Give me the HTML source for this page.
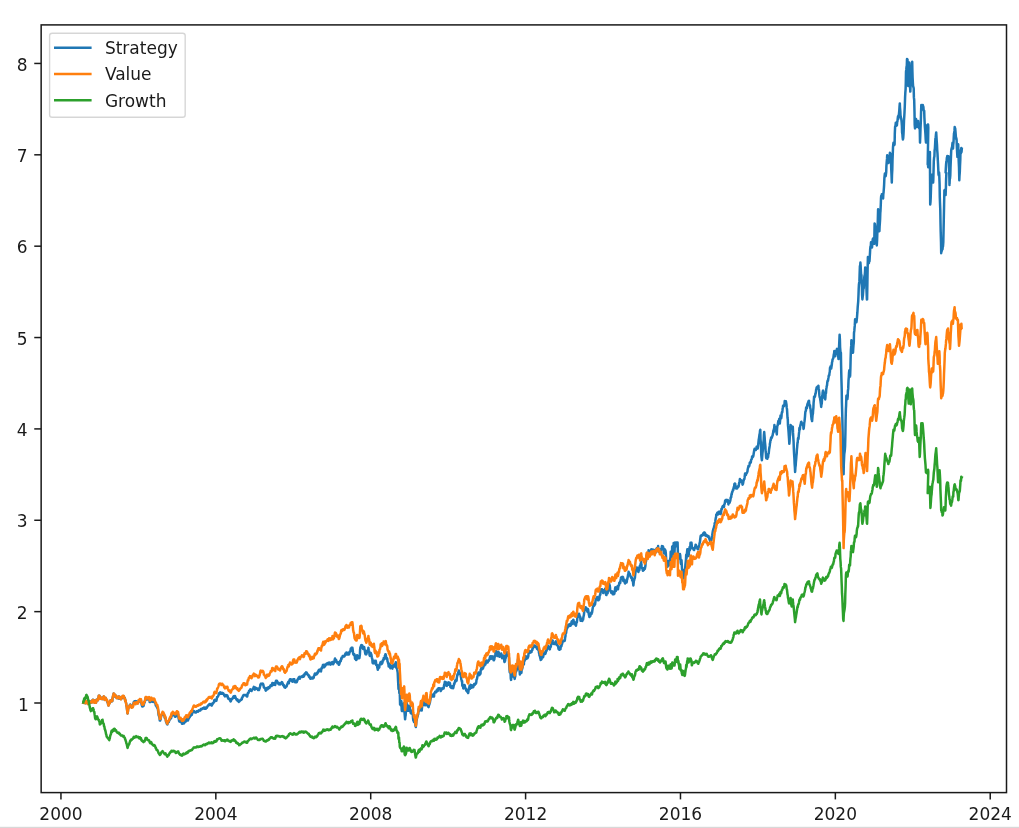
<!DOCTYPE html>
<html lang="en"><head><meta charset="utf-8"><title>Strategy vs Value vs Growth</title>
<style>html,body{margin:0;padding:0;background:#fff;}body{width:1019px;height:828px;position:relative;overflow:hidden;font-family:"DejaVu Sans","Liberation Sans",sans-serif;}</style>
</head><body>
<svg width="1019" height="828" viewBox="0 0 1019 828" style="display:block;position:absolute;left:0;top:0">
<rect x="0" y="0" width="1019" height="828" fill="#ffffff"/>
<rect x="0" y="826.8" width="1019" height="2" fill="#d8d8d8"/>
<clipPath id="ax"><rect x="41.15" y="24.9" width="965.35" height="767.7"/></clipPath>
<g clip-path="url(#ax)" fill="none" stroke-width="2.5" stroke-linejoin="round" stroke-linecap="square">
<path d="M83.3 702.7l0.3 -1l0.3 0.4l0.2 -0.7l0.3 0.5l0.3 -0.6l0.2 0l0.3 0.4l0.2 1.6l0.3 -0.6l0.3 -0.5l0.2 -0.8l0.3 -0.1l0.2 0l0.3 0l0.3 1.3l0.2 -1l0.3 2.2l0.3 0.3l0.2 0l0.3 -0.8l0.2 -0.4l0.3 0.2l0.3 -1.5l0.2 0.1l0.3 0l0.3 -0.3l0.2 1l0.3 -0.5l0.2 0.7l0.3 -0.4l0.2 -0.6l0.2 0.3l0.3 0.5l0.2 -0.5l0.3 -1.7l0.2 0.9l0.3 -1.3l0.3 -0.1l0.2 1.8l0.3 0.3l0.2 -0.7l0.3 -0.7l0.2 1.2l0.3 0.3l0.2 0.9l0.3 0l0.3 0l0.2 0l0.3 0l0.2 -1.3l0.3 -1.7l0.2 0l0.2 -0.3l0.3 0.2l0.2 -0.3l0.2 0.3l0.3 0.6l0.2 -0.9l0.2 -1.3l0.3 -0.7l0.2 -1.7l0.2 0.2l0.3 -0.2l0.2 0l0.3 0.8l0.2 0.6l0.2 0.5l0.3 1.1l0.2 -0.9l0.2 0.6l0.3 0.5l0.2 -1.2l0.3 1.1l0.2 -0.8l0.3 0.5l0.3 -0.7l0.2 0.5l0.3 0.8l0.2 -0.7l0.3 -1.6l0.3 -0.4l0.2 1.4l0.3 0.6l0.2 -0.3l0.3 1.6l0.3 -1.6l0.2 0.4l0.3 -0.6l0.3 1l0.2 0.4l0.3 0.1l0.2 1l0.3 0.1l0.3 1.3l0.2 0.2l0.3 0.7l0.2 0.4l0.3 1.7l0.3 0.7l0.2 -0.4l0.3 -1.4l0.3 -0.1l0.2 -0.4l0.3 -0.2l0.2 -1.3l0.3 -1.3l0.3 0.1l0.2 1.1l0.3 -1.3l0.2 0.2l0.2 -0.5l0.3 0.6l0.2 -0.1l0.3 0.6l0.2 -2.8l0.3 -0.9l0.2 -1.1l0.2 -0.6l0.3 -1l0.2 -1.3l0.3 0.4l0.2 2.7l0.3 -2l0.2 0.6l0.3 0.7l0.3 0.6l0.2 0l0.3 -0.5l0.3 -0.1l0.2 1.1l0.3 0.9l0.2 0l0.3 -0.3l0.2 0.1l0.2 -0.1l0.3 0.6l0.2 0.2l0.3 -0.6l0.2 0l0.3 -1.2l0.2 1.1l0.3 1.1l0.2 -1l0.3 0.1l0.2 -0.8l0.2 1l0.3 0.6l0.2 -0.2l0.3 0.7l0.2 -0.6l0.3 -0.5l0.2 -0.6l0.3 0l0.2 -0.4l0.3 -0.1l0.2 -0.6l0.2 0.6l0.3 1l0.2 -0.5l0.3 -1.3l0.2 0.6l0.3 1l0.2 0.4l0.3 -0.3l0.3 1l0.2 2.3l0.3 -0.9l0.2 1.4l0.3 1.1l0.2 0.9l0.2 2.2l0.3 0.6l0.2 2l0.3 2.3l0.2 1.7l0.2 1l0.3 -2l0.2 -1.9l0.3 -2l0.2 0.3l0.3 -0.7l0.2 -0.5l0.3 -0.6l0.3 -0.7l0.2 -0.1l0.3 -0.7l0.3 1.4l0.2 -0.2l0.3 -0.5l0.2 0.6l0.3 0.9l0.2 0.7l0.3 -0.9l0.2 -0.2l0.2 -0.1l0.3 0.1l0.2 -0.2l0.3 -1.3l0.2 -1.4l0.3 -0.2l0.2 -1.5l0.2 0.6l0.3 -0.5l0.2 -0.6l0.3 0.3l0.3 -0.3l0.2 0.4l0.3 1.4l0.2 -0.8l0.3 -0.9l0.3 0.6l0.2 0.5l0.3 0l0.3 0.1l0.2 -0.1l0.3 0.9l0.2 -0.9l0.3 0l0.3 -0.9l0.2 -1.2l0.3 0.5l0.2 0.7l0.3 -1.2l0.2 -0.5l0.3 0.3l0.2 1.1l0.2 -0.3l0.3 0.6l0.2 -1l0.3 2.3l0.2 0.8l0.2 1.3l0.3 0.7l0.2 1l0.3 0l0.3 -0.7l0.2 0.4l0.3 -0.7l0.2 0.3l0.3 -1.2l0.3 -1.3l0.2 -0.8l0.3 0.1l0.2 -0.7l0.3 -1.7l0.3 -1l0.2 -1.4l0.3 0.8l0.3 -0.1l0.2 0.1l0.3 -1.1l0.2 0.6l0.3 1.3l0.3 -0.1l0.2 -0.5l0.3 0.4l0.2 -0.9l0.3 0.5l0.2 -0.2l0.3 -0.2l0.2 0.9l0.3 0.7l0.2 1.9l0.3 0.1l0.2 0l0.2 -0.2l0.3 -1.5l0.2 -1.2l0.3 0.8l0.2 -0.7l0.2 1.2l0.3 0.9l0.3 -0.6l0.2 1l0.3 -0.2l0.3 0.3l0.2 -0.3l0.3 0.3l0.2 -1.5l0.3 0.1l0.3 0.2l0.2 0.3l0.3 0.9l0.3 0.7l0.2 0.5l0.3 1.1l0.2 1.4l0.3 -0.8l0.3 1l0.2 1l0.3 0l0.2 0.9l0.3 -0.5l0.3 1.7l0.2 0.1l0.3 2.3l0.2 1.7l0.2 2.1l0.3 0.5l0.2 0.7l0.2 0.7l0.3 1.3l0.2 2.3l0.3 0l0.2 -0.8l0.3 -0.2l0.2 -1.6l0.3 -1.4l0.3 -1.2l0.2 -0.1l0.3 -0.7l0.2 -0.6l0.3 -0.4l0.2 -0.8l0.3 0.8l0.3 -0.2l0.2 0l0.3 1.3l0.2 0.1l0.3 0.5l0.3 0.5l0.2 2.2l0.2 -0.9l0.3 0.3l0.2 0.1l0.3 2.2l0.2 1.2l0.2 1l0.3 0.1l0.2 0.9l0.3 1l0.2 0.4l0.3 0.1l0.2 -1.1l0.3 -0.9l0.2 -0.2l0.3 0l0.3 -0.2l0.2 -0.3l0.3 -1.4l0.2 0l0.3 -0.9l0.2 0l0.3 -0.6l0.2 -1l0.3 0.6l0.2 0.1l0.3 -0.7l0.2 -2.5l0.2 -0.3l0.3 0.3l0.2 0.3l0.3 -0.6l0.2 -1l0.2 -0.6l0.3 0.2l0.3 1.2l0.2 -0.2l0.3 0.5l0.3 -0.1l0.2 0.8l0.3 -0.4l0.2 1.2l0.3 0.2l0.3 -0.3l0.2 0.2l0.3 -1.4l0.2 -0.1l0.3 -0.3l0.3 -0.8l0.2 0.4l0.3 -0.7l0.3 0.4l0.2 0.1l0.3 0.1l0.2 1.8l0.3 2.1l0.3 1.2l0.2 1.6l0.3 0.4l0.2 -0.3l0.3 0.5l0.3 -0.9l0.2 0.2l0.2 -0.6l0.3 0.2l0.2 1.3l0.3 -0.2l0.2 0.2l0.2 1.5l0.3 0.4l0.2 -0.4l0.3 -0.1l0.2 -0.7l0.3 1l0.2 -0.1l0.3 -0.8l0.2 0.5l0.3 0.1l0.3 -0.8l0.2 -0.9l0.3 0l0.2 -0.6l0.3 -0.1l0.3 0.8l0.2 -0.8l0.3 -1.4l0.3 -0.3l0.2 0l0.3 1.3l0.2 -0.3l0.3 -0.9l0.3 1.2l0.2 -0.2l0.2 -0.6l0.3 -1.1l0.2 -0.6l0.3 0.2l0.2 -0.5l0.3 -0.5l0.2 -0.8l0.2 0.4l0.3 -0.8l0.2 0l0.3 -0.3l0.2 -0.4l0.2 -0.7l0.3 0l0.2 0.4l0.3 -0.5l0.2 -0.8l0.3 -1l0.2 -0.1l0.2 -0.4l0.3 -0.2l0.2 0l0.3 -1.1l0.2 0.1l0.2 0l0.3 0.4l0.2 0.4l0.3 0.2l0.2 0.4l0.3 0l0.2 -0.2l0.2 0.2l0.3 0l0.2 0l0.3 -0.5l0.2 0l0.2 -0.6l0.3 -0.1l0.2 0.1l0.3 -0.3l0.3 0.5l0.2 0.1l0.3 -0.4l0.3 -0.3l0.2 -0.5l0.3 0.3l0.2 -0.1l0.3 -0.3l0.3 0.2l0.2 0l0.3 -0.4l0.2 -1l0.3 0.3l0.3 -0.1l0.2 0l0.3 -0.3l0.3 -0.4l0.2 0.2l0.3 -0.1l0.2 -0.3l0.3 -0.3l0.3 0.2l0.2 -0.1l0.3 -0.7l0.2 0.4l0.3 0.4l0.2 0.4l0.3 0.1l0.2 -0.1l0.3 -0.6l0.2 0.7l0.2 -1.2l0.3 0.1l0.2 -0.2l0.3 0.4l0.2 0l0.2 -0.5l0.3 -0.8l0.2 -0.5l0.3 -0.2l0.2 -0.3l0.3 -0.2l0.2 -0.5l0.3 -0.1l0.2 0.2l0.3 -0.8l0.2 -0.2l0.2 0.8l0.3 0.2l0.2 -0.5l0.3 0l0.2 -0.4l0.3 -0.1l0.2 0.7l0.3 0.4l0.2 0.5l0.2 -1.6l0.3 -0.3l0.2 0.7l0.3 -0.9l0.2 -0.5l0.2 0.3l0.3 -0.6l0.2 -0.2l0.3 -0.6l0.2 -1.6l0.3 -0.3l0.2 -0.2l0.2 0.1l0.3 1l0.2 0.1l0.3 -0.5l0.2 0l0.2 -0.3l0.3 0.5l0.2 -1.1l0.3 -1.2l0.2 -1.4l0.3 0.1l0.2 -0.2l0.2 -0.1l0.3 -0.6l0.2 -0.6l0.3 -0.6l0.2 -1l0.3 -0.5l0.2 -0.4l0.3 0.7l0.2 0.1l0.2 -0.7l0.3 -0.8l0.2 0.6l0.3 0l0.2 -0.2l0.3 0.3l0.2 0.7l0.3 -0.3l0.2 -0.2l0.2 -0.4l0.3 0.7l0.2 0.1l0.3 -0.1l0.2 -0.3l0.3 0.8l0.2 0.2l0.2 0l0.3 1l0.2 -0.2l0.3 -0.2l0.2 1.5l0.3 -0.3l0.2 -0.3l0.3 -0.6l0.3 -0.2l0.2 0.6l0.3 0.5l0.3 0.1l0.2 -0.4l0.3 -0.4l0.2 0.5l0.3 1l0.2 1l0.3 0.2l0.2 0.8l0.3 -0.3l0.2 0.5l0.3 -0.4l0.2 0l0.3 0.4l0.2 0.2l0.2 1l0.2 0.9l0.3 0.2l0.2 -0.4l0.3 -0.7l0.2 -0.7l0.3 -0.8l0.2 -0.1l0.2 0.1l0.3 -0.1l0.2 -0.3l0.3 -0.2l0.2 -0.4l0.2 -1l0.3 -0.6l0.2 1l0.3 0.6l0.2 -0.5l0.3 -0.9l0.2 -0.4l0.2 0l0.3 0.8l0.2 0.7l0.3 0.4l0.2 0.7l0.2 0.5l0.3 0.4l0.2 0.4l0.3 0.2l0.3 -0.8l0.2 0.2l0.3 1.4l0.3 -0.2l0.2 0.1l0.3 0.8l0.2 0.3l0.3 -0.9l0.2 0.3l0.3 -0.1l0.2 -0.1l0.3 -0.7l0.2 -0.3l0.3 -0.3l0.2 -0.2l0.3 0.1l0.2 0.2l0.2 -0.4l0.3 -0.3l0.2 -1.4l0.3 -0.2l0.2 -0.2l0.3 -1l0.2 -0.4l0.3 -0.3l0.2 -0.7l0.2 0l0.3 0l0.2 0l0.3 0l0.2 0l0.3 0l0.2 0.3l0.3 0l0.2 -0.3l0.3 0l0.2 0l0.2 0.6l0.3 0.8l0.3 0.1l0.2 0l0.3 -1.7l0.2 -0.9l0.3 -1.1l0.3 0l0.2 0.1l0.3 -1.1l0.2 -0.9l0.3 0.3l0.2 -0.5l0.3 -0.7l0.2 -0.5l0.3 0.3l0.2 -0.5l0.3 0.4l0.2 0l0.3 0.5l0.2 0.8l0.3 -0.3l0.2 -0.6l0.3 -0.2l0.2 -0.6l0.3 -0.4l0.2 -0.3l0.3 0l0.2 -1l0.3 -0.7l0.2 0.6l0.2 1.2l0.3 -1.3l0.2 1.1l0.3 1.1l0.2 -0.9l0.2 -1.1l0.3 0.3l0.2 -0.1l0.3 0.3l0.2 0.6l0.3 -0.3l0.2 0.1l0.2 0l0.3 0l0.2 0.6l0.3 0.8l0.2 -0.4l0.3 -0.8l0.2 1.3l0.3 0l0.2 -0.3l0.3 -1.3l0.2 0.1l0.2 -1.1l0.3 -0.8l0.2 -1.3l0.3 -0.8l0.2 -0.7l0.3 0.4l0.2 -0.5l0.3 0l0.2 0.6l0.3 -0.2l0.2 0l0.3 0l0.2 -0.5l0.3 1.1l0.2 -0.2l0.3 1.4l0.2 1.3l0.2 -0.1l0.3 0.8l0.2 0.2l0.3 -0.2l0.2 0.3l0.3 0.6l0.2 1.3l0.3 0.5l0.2 -0.9l0.3 -0.6l0.2 0.2l0.2 0.5l0.3 -1.8l0.2 0.5l0.3 -0.4l0.2 0.9l0.3 -0.5l0.2 -0.9l0.2 -0.3l0.3 0.4l0.2 0.3l0.3 -0.9l0.2 1l0.2 -0.9l0.3 -0.3l0.2 -0.2l0.3 -0.9l0.2 -0.5l0.2 0l0.3 0l0.2 0.4l0.3 0.3l0.2 -0.6l0.3 -1.7l0.2 -0.6l0.3 0.2l0.2 0.3l0.2 -0.5l0.3 0.1l0.2 0.2l0.3 0.7l0.2 0.8l0.3 -0.8l0.2 -0.8l0.3 0.4l0.2 0.6l0.3 0.6l0.2 -2l0.2 -0.7l0.3 -1.4l0.2 0l0.3 0l0.2 0l0.2 0l0.3 1.1l0.2 -0.3l0.3 0.8l0.2 0.6l0.3 0.4l0.2 0.4l0.2 0.3l0.3 -1.1l0.2 0.5l0.3 0.3l0.2 -0.3l0.2 0.5l0.3 0.4l0.2 -0.5l0.3 0l0.2 -0.3l0.3 -0.7l0.2 0.4l0.2 -0.6l0.3 -0.6l0.2 0.1l0.3 0.4l0.2 0.5l0.2 0.3l0.3 1.8l0.2 0l0.3 0.3l0.2 -0.6l0.3 0.5l0.2 0.8l0.2 1l0.3 -0.4l0.2 0l0.3 0.9l0.2 -0.5l0.2 0.1l0.3 -1.1l0.2 0.2l0.3 0.2l0.2 -0.2l0.3 -1l0.2 -0.8l0.2 -0.5l0.3 -0.3l0.2 -0.7l0.3 -0.8l0.2 -0.4l0.2 0.5l0.3 0.9l0.2 -1.4l0.3 -0.8l0.2 -0.9l0.3 -0.6l0.2 -0.4l0.2 0.2l0.3 0.4l0.2 -0.1l0.3 -0.3l0.2 0.6l0.2 0.7l0.3 0.5l0.2 -0.4l0.3 0.6l0.2 -0.7l0.3 1l0.2 -2.2l0.2 -0.3l0.3 0l0.2 0l0.3 0l0.2 0.8l0.2 -0.8l0.3 1.5l0.2 1.2l0.3 0.2l0.2 -0.2l0.3 -0.2l0.2 0.5l0.3 0l0.2 -0.3l0.2 0.3l0.3 0l0.2 -1.7l0.3 0.2l0.2 -1.1l0.3 0l0.2 -0.2l0.3 -1.1l0.2 0l0.2 -0.8l0.3 0.3l0.2 -0.7l0.3 -0.2l0.2 1.5l0.3 0.2l0.2 -0.9l0.2 -0.5l0.3 -0.5l0.2 0l0.3 0.2l0.2 -0.1l0.2 -0.1l0.3 -0.4l0.2 0.1l0.3 0.5l0.2 -0.8l0.3 -0.1l0.2 -0.5l0.3 0.7l0.2 0.6l0.3 -0.8l0.2 0l0.2 -1.4l0.3 -0.7l0.2 -0.3l0.3 0.2l0.2 0.6l0.3 -0.8l0.2 -0.5l0.3 -0.8l0.2 0.2l0.3 0l0.2 0.6l0.3 0.3l0.2 0.6l0.3 0.5l0.2 0.3l0.3 -0.2l0.2 0.7l0.2 0l0.3 0l0.2 1.5l0.3 0.3l0.2 -0.8l0.3 1.1l0.2 0.8l0.3 0.6l0.2 -0.2l0.3 0.1l0.2 -0.2l0.3 -0.7l0.2 0.8l0.2 -0.2l0.3 -0.5l0.2 -0.4l0.3 1.1l0.2 0l0.2 -0.6l0.3 -0.4l0.2 0.2l0.3 0l0.2 -1.8l0.2 -0.1l0.3 -0.6l0.2 -1.1l0.3 -0.6l0.2 0.3l0.3 1l0.2 -0.4l0.2 -0.1l0.3 -0.9l0.2 -0.3l0.3 0.4l0.2 0.7l0.3 -1.3l0.2 -0.4l0.2 0.8l0.3 -1.2l0.2 -0.6l0.3 0.5l0.2 -1.5l0.3 -0.6l0.2 -0.1l0.3 0.4l0.2 -0.7l0.3 0.1l0.2 0.3l0.2 0.9l0.3 0.3l0.2 0.1l0.3 0.1l0.2 -1.5l0.3 -1.3l0.2 -0.8l0.3 -0.4l0.2 0.5l0.3 -1.4l0.2 -0.2l0.2 -1.2l0.3 -0.2l0.2 0.3l0.3 -0.1l0.2 1.2l0.3 1l0.2 -0.8l0.3 -1.7l0.2 1.7l0.3 -0.4l0.2 -1.3l0.3 0.2l0.2 -0.1l0.3 -0.7l0.2 -0.4l0.2 0.1l0.3 -0.1l0.2 0.3l0.3 -0.4l0.2 -0.6l0.3 0.3l0.2 0.2l0.3 0.6l0.2 -0.4l0.3 0.1l0.2 -1.3l0.3 1.6l0.2 -1l0.3 0.3l0.2 -0.1l0.2 0.5l0.3 0.7l0.2 -0.9l0.3 -0.2l0.2 -1l0.2 1.5l0.3 0l0.2 -0.7l0.3 -0.2l0.2 -1.1l0.3 0.6l0.2 0.9l0.2 0.8l0.3 -1.4l0.2 -0.7l0.3 0.6l0.2 -1.1l0.3 -0.7l0.2 -1.4l0.3 -1.1l0.2 0.7l0.3 0.4l0.2 0l0.2 0.3l0.3 0.3l0.2 1.7l0.3 0.3l0.2 -0.1l0.3 -0.3l0.2 1.5l0.2 -0.3l0.3 -0.8l0.2 0.1l0.3 0.3l0.2 1.1l0.2 1.1l0.3 -0.3l0.2 -0.3l0.3 -1l0.2 -0.7l0.3 -1.4l0.2 -0.3l0.2 0.1l0.3 0.2l0.2 -1.4l0.3 -1.5l0.2 0.9l0.2 -1.6l0.3 0.3l0.2 0l0.3 -0.7l0.2 -1l0.3 0.5l0.2 -0.5l0.3 -0.1l0.2 0.4l0.2 -0.3l0.3 0.4l0.2 -0.3l0.3 -0.5l0.2 -0.2l0.3 -0.5l0.2 -1.5l0.3 0.3l0.2 0.1l0.3 -0.2l0.2 -1.3l0.2 0.8l0.3 0.6l0.2 0.6l0.3 0l0.2 -0.7l0.2 -0.2l0.3 -0.8l0.2 1.7l0.3 0l0.2 0l0.3 0l0.2 -1.3l0.2 -0.4l0.3 -1.1l0.2 -0.1l0.3 0.1l0.2 -0.5l0.2 -2.3l0.3 0.4l0.2 -0.8l0.3 -0.7l0.2 1.4l0.3 0.6l0.2 0.5l0.2 -2.5l0.3 2.3l0.2 1.6l0.3 2.5l0.3 0l0.2 1l0.3 -1.1l0.2 0l0.3 0.6l0.3 1.1l0.2 3l0.3 -0.3l0.3 -0.4l0.2 0l0.3 2.1l0.2 -1.5l0.3 0.9l0.3 -2.8l0.2 -1.5l0.3 0.3l0.2 2.7l0.3 0l0.2 0l0.3 -0.3l0.2 -0.8l0.3 1.1l0.2 0l0.3 0l0.2 -1.7l0.3 -2.1l0.2 -4.7l0.3 -2.5l0.2 0.2l0.3 0.4l0.2 -2.5l0.3 -0.2l0.2 1.3l0.3 -0.4l0.2 -0.7l0.3 0.3l0.2 1.6l0.3 1.3l0.2 0.4l0.3 -1.1l0.3 -0.7l0.2 0.4l0.3 -0.5l0.3 2.3l0.2 0.5l0.3 2.2l0.2 1.1l0.3 1.2l0.3 -0.2l0.2 -1.1l0.3 1.4l0.2 -0.6l0.3 -1.4l0.3 -1.7l0.2 -0.3l0.3 0.1l0.3 1.1l0.2 -0.6l0.3 -3.3l0.2 1.9l0.3 1l0.2 0.6l0.2 1.3l0.3 2.9l0.2 0.5l0.3 -1.4l0.2 0.1l0.3 0.4l0.2 -2l0.2 1.9l0.3 -0.7l0.2 1.3l0.3 1.9l0.2 0.9l0.3 0.7l0.3 3.8l0.2 0.3l0.3 0.3l0.3 -0.4l0.2 0.2l0.3 -0.5l0.2 -2l0.3 0.6l0.3 -0.1l0.2 2.2l0.3 -1.1l0.2 -0.5l0.3 -1l0.3 1.2l0.2 3l0.3 -0.2l0.3 0.3l0.2 -0.2l0.3 2.7l0.2 0.4l0.3 1.7l0.2 -1.1l0.3 0l0.2 -0.3l0.3 -2.8l0.2 0.7l0.3 1.3l0.2 -2.8l0.3 0l0.2 -0.5l0.2 -1.1l0.3 0.5l0.2 -1.7l0.3 0.9l0.2 1.4l0.3 -2l0.2 -0.3l0.3 1.7l0.2 -0.4l0.3 -0.8l0.2 -1.8l0.3 -0.4l0.2 -0.5l0.2 0.6l0.3 -2.2l0.2 1.3l0.3 -0.8l0.2 0.4l0.3 -1.2l0.2 -2.1l0.3 -0.3l0.2 -1.2l0.3 0.3l0.3 1.4l0.2 2.1l0.3 0.6l0.2 -0.5l0.3 0l0.3 0.8l0.2 2.5l0.3 0.5l0.2 1.1l0.2 -0.1l0.3 1.8l0.2 1.8l0.3 -2.4l0.2 1.5l0.2 0.6l0.3 -2.1l0.2 1.7l0.3 0.9l0.2 1.6l0.3 -2.8l0.2 2.3l0.2 -0.5l0.3 -1.5l0.2 1.3l0.3 0.1l0.2 0.7l0.3 0.7l0.2 -3.3l0.3 1.9l0.2 -1.4l0.3 0.3l0.2 0.6l0.2 -1.6l0.3 -0.6l0.2 -0.1l0.3 0.8l0.2 0.4l0.3 0.8l0.2 -2l0.2 -1l0.3 -1.1l0.2 0.8l0.3 4.7l0.2 0.1l0.3 0.3l0.2 0.2l0.2 1.4l0.3 1.6l0.2 1.3l0.3 6.4l0.3 5.8l0.2 4l0.3 -1l0.2 -3.1l0.3 8.1l0.3 -2.8l0.3 7.1l0.2 7.2l0.3 0.4l0.3 -0.4l0.2 1.1l0.3 -2.5l0.2 -1.8l0.3 8.5l0.2 1.4l0.3 -0.1l0.3 0l0.2 -3.1l0.3 -1.1l0.2 0.5l0.2 2.6l0.3 -1.7l0.2 -4.9l0.3 0l0.2 1.6l0.2 8.6l0.3 3.5l0.2 2.3l0.3 -3.1l0.2 -0.3l0.3 -4.1l0.2 -0.7l0.3 -3.2l0.2 -5.3l0.3 2.6l0.3 -0.7l0.2 0.4l0.3 5.8l0.2 0l0.3 -0.9l0.3 0.9l0.2 -1.3l0.3 0.8l0.3 -3.4l0.2 -0.8l0.3 0.7l0.2 4l0.3 -0.9l0.3 2.7l0.2 0.7l0.3 -1.8l0.2 2l0.3 -1.1l0.3 -1.5l0.2 0.1l0.2 0.9l0.3 2.4l0.2 0.3l0.3 4.1l0.2 1.7l0.2 0.4l0.3 0.4l0.2 0.8l0.3 -1.3l0.2 -1.4l0.2 0.1l0.3 2.9l0.3 2.1l0.2 1.7l0.3 1l0.2 -1.4l0.2 -1.8l0.3 -3.9l0.2 0.3l0.2 -1.6l0.3 -1.1l0.2 -0.8l0.3 -0.7l0.2 -1.4l0.3 -0.2l0.2 -2.2l0.3 -3l0.2 -0.7l0.3 1.6l0.3 0.7l0.2 -1.1l0.3 0.3l0.2 -1.7l0.3 -0.4l0.2 -1.7l0.3 -0.5l0.2 2.5l0.3 0.8l0.2 1.6l0.2 -2.3l0.3 -2.3l0.2 -1.1l0.3 0.4l0.2 -2l0.2 1.5l0.3 -2.7l0.2 3l0.3 0l0.2 -0.9l0.3 0.9l0.2 -0.5l0.3 0.5l0.2 0l0.3 0l0.2 0.1l0.3 -2.7l0.2 -3.8l0.2 0l0.3 0.2l0.2 1.6l0.3 2.9l0.2 1.9l0.3 -0.9l0.2 1.8l0.3 -0.2l0.2 0.8l0.3 0.3l0.2 -1.1l0.3 -1.1l0.3 -0.5l0.2 -3.1l0.2 1.8l0.3 -1.7l0.2 -1.4l0.3 -1.6l0.2 -1.1l0.3 -1.2l0.2 0.5l0.2 -0.2l0.3 0l0.2 -1.4l0.3 0.1l0.2 1.3l0.3 -0.1l0.2 0.1l0.3 -2.1l0.2 0.7l0.3 0l0.2 1.6l0.3 -3.5l0.2 -0.1l0.2 -0.2l0.3 0l0.2 -1.1l0.3 -0.2l0.2 0.8l0.3 0l0.2 -0.6l0.3 -0.6l0.2 -0.8l0.3 1l0.2 -0.2l0.3 -1.8l0.2 1.7l0.3 -1.8l0.2 0.2l0.2 -1.2l0.3 0.1l0.2 -0.1l0.3 0l0.2 0l0.3 0l0.2 0l0.3 1.3l0.2 0.4l0.3 1.2l0.2 -1.7l0.2 -0.2l0.3 0.2l0.2 -0.8l0.3 0.8l0.2 -0.1l0.2 -0.1l0.3 -0.5l0.2 -0.8l0.3 0.2l0.2 0.5l0.3 0l0.2 -1.5l0.2 -1.5l0.3 -1.2l0.2 -0.2l0.3 -2.4l0.2 1.3l0.3 0.3l0.2 -0.2l0.3 -0.9l0.2 1.1l0.3 -0.3l0.2 2.7l0.3 0.1l0.2 -1.9l0.3 0.4l0.2 -1l0.3 -0.6l0.2 -0.2l0.3 -0.3l0.2 0.1l0.2 1.3l0.3 1.1l0.2 -0.2l0.3 -1l0.2 -0.8l0.3 0.6l0.2 1.5l0.2 2.2l0.3 -0.4l0.2 0.6l0.3 0.4l0.2 -0.1l0.2 0.3l0.3 -0.6l0.2 -0.3l0.3 -0.9l0.2 -0.1l0.3 0.8l0.2 1.4l0.3 -0.8l0.2 -1.4l0.3 -0.9l0.2 -1.4l0.2 0.5l0.3 -1.2l0.2 -0.6l0.3 -1.4l0.2 -0.6l0.3 -0.3l0.2 -0.3l0.3 1.4l0.2 -0.6l0.3 0.1l0.2 -2.5l0.2 -1.5l0.3 -1.5l0.2 -1l0.3 -0.1l0.2 0.5l0.3 -2.5l0.2 0.2l0.3 -1.7l0.2 1.6l0.3 -0.1l0.2 0.1l0.3 0.6l0.2 0.6l0.3 1.1l0.2 0.1l0.3 1.8l0.3 1.3l0.2 1.7l0.3 0.9l0.3 1.3l0.2 -0.6l0.2 4.6l0.3 -0.4l0.2 0.2l0.3 1.2l0.2 1.8l0.2 -0.3l0.3 -0.9l0.2 -0.9l0.3 -0.8l0.2 -0.5l0.3 0.4l0.2 1.7l0.3 1.5l0.2 -0.2l0.3 0.2l0.2 0.8l0.3 1.2l0.3 -0.2l0.2 -0.5l0.3 0.4l0.3 1.6l0.2 -1l0.2 1.2l0.3 0.9l0.2 -0.6l0.3 -2.1l0.2 -1.5l0.2 -0.9l0.3 0.1l0.2 -2.1l0.3 1.3l0.2 1.5l0.2 -1.4l0.3 -2.5l0.2 0l0.3 0.3l0.2 1.7l0.3 0.9l0.2 -0.4l0.2 -2l0.3 0.6l0.2 0.7l0.3 -0.2l0.2 0.5l0.3 0.2l0.2 -0.4l0.3 -1.1l0.2 0l0.3 -1.7l0.2 1.1l0.3 -0.9l0.3 0.5l0.2 -1.1l0.3 0l0.2 -0.3l0.3 0.3l0.3 -1.4l0.2 -2.2l0.3 -0.6l0.2 -0.4l0.3 -1.9l0.2 -1l0.3 -2.1l0.2 -0.1l0.2 -0.6l0.3 -0.7l0.2 2.5l0.3 -0.2l0.2 0l0.3 0.3l0.2 -1.2l0.3 -1.2l0.2 0.2l0.3 0.9l0.2 -3.9l0.2 -0.4l0.3 -0.5l0.2 -1.2l0.3 1.3l0.2 -1l0.3 1.1l0.2 -0.8l0.3 -0.9l0.2 1.1l0.3 -1.1l0.2 -0.5l0.2 -1.4l0.3 -1.2l0.2 0.8l0.3 0.4l0.2 -1.2l0.3 -1.4l0.2 -1.7l0.3 3.2l0.2 -1l0.3 -1.6l0.2 0.6l0.3 -1.3l0.2 -0.8l0.3 0.2l0.2 0.6l0.3 -0.2l0.2 1.6l0.3 -0.9l0.2 -0.5l0.3 -0.2l0.2 -0.4l0.3 0.1l0.2 -0.4l0.3 -1.2l0.2 -0.3l0.3 -1.1l0.2 -1.3l0.3 -0.1l0.3 0.7l0.2 0.3l0.2 1.4l0.3 -0.2l0.2 -0.9l0.3 -1.3l0.2 -0.1l0.3 0.8l0.2 1.4l0.2 -1.9l0.3 1.1l0.2 0.6l0.3 2.1l0.2 0l0.2 -0.6l0.3 -0.2l0.2 -1.9l0.3 -0.8l0.2 -1.4l0.3 -1.2l0.2 -1.2l0.3 -2l0.2 0l0.3 0.7l0.2 1l0.3 0.1l0.2 1.6l0.3 1.6l0.2 -1.8l0.3 0.1l0.2 -1.7l0.3 -0.9l0.2 0.7l0.3 0.2l0.2 1.4l0.2 2.5l0.3 0.2l0.2 -0.9l0.3 -0.7l0.2 -0.7l0.2 0.4l0.3 -1l0.2 0.6l0.3 -0.9l0.2 0.7l0.3 1.3l0.2 1.8l0.2 1l0.3 -0.7l0.2 -0.8l0.3 0.6l0.2 -0.5l0.2 -1.4l0.3 0.5l0.2 -0.2l0.3 2.1l0.2 3.6l0.3 0.5l0.2 -0.8l0.3 -0.3l0.2 -2.3l0.3 -0.2l0.2 -1.3l0.3 -1.7l0.2 -3l0.3 1.8l0.3 -1.1l0.2 -0.8l0.3 0.4l0.3 1.4l0.2 1.4l0.3 0.1l0.2 -1.5l0.3 2.2l0.3 1.8l0.2 6.5l0.2 2.8l0.3 4.7l0.2 -1l0.2 -0.1l0.3 1.2l0.2 1.6l0.2 4.7l0.3 1.4l0.3 -4l0.2 0.6l0.3 -3.1l0.2 -0.1l0.3 -0.1l0.2 -2.2l0.3 4l0.3 -0.6l0.2 2.1l0.3 -4.3l0.2 1.7l0.3 3.1l0.3 1.1l0.2 0.8l0.3 -3.7l0.2 1.7l0.3 -4.2l0.2 -3.9l0.3 0.3l0.2 2.4l0.2 -0.9l0.3 -0.3l0.2 -1.1l0.3 0l0.2 -1.9l0.3 -3.7l0.2 -3.4l0.2 -1.2l0.3 0.7l0.2 3.6l0.3 4.9l0.3 -1.7l0.2 3l0.3 2.3l0.2 2.8l0.3 -1.5l0.2 -3.2l0.3 -3.7l0.3 0.3l0.2 6.5l0.2 -0.1l0.3 -3.4l0.2 0l0.3 -0.8l0.2 -0.7l0.3 -1.5l0.2 -2.8l0.2 -2.4l0.3 0.4l0.2 0.6l0.3 2.1l0.2 -4.5l0.3 1.3l0.2 -1.3l0.2 -1.4l0.3 1.3l0.2 -2.6l0.3 -1.2l0.2 2.6l0.3 -0.2l0.2 -0.1l0.2 0.5l0.3 -0.4l0.2 -1.1l0.3 -0.8l0.2 1.7l0.3 -0.8l0.2 -0.2l0.3 -1.1l0.2 -2.4l0.3 -1.2l0.2 -0.5l0.3 -0.3l0.2 -0.6l0.3 0.3l0.2 0.4l0.3 0.8l0.2 -0.2l0.3 -0.1l0.2 -0.2l0.3 -1l0.2 0.9l0.3 -1.6l0.3 -0.4l0.2 0.1l0.3 -2.4l0.2 0.7l0.3 -0.7l0.2 -0.1l0.3 -0.4l0.2 -1.6l0.3 0.1l0.2 -0.1l0.3 0.7l0.2 0l0.3 -0.7l0.2 0.5l0.3 0.5l0.2 0.4l0.3 0.3l0.2 -0.7l0.3 0.3l0.2 -0.3l0.3 2.4l0.2 0.1l0.3 -1l0.2 -0.2l0.3 1.2l0.2 0.8l0.2 -0.8l0.3 2.4l0.2 1.4l0.3 0.9l0.2 1.8l0.3 0.2l0.2 0l0.2 2.1l0.3 0.7l0.2 1.5l0.3 -0.4l0.2 -0.1l0.3 -0.4l0.3 -2.1l0.2 0.3l0.3 -0.9l0.2 0.3l0.3 -0.3l0.2 0.8l0.3 -0.9l0.3 -2.6l0.2 -0.4l0.2 0.1l0.3 -0.7l0.2 -0.3l0.3 1l0.2 -0.4l0.3 0.8l0.2 -0.3l0.3 -1.4l0.2 -1.3l0.3 -0.1l0.2 0l0.3 -1.1l0.2 -1.4l0.3 -1.1l0.2 -0.6l0.3 -0.8l0.2 -0.2l0.3 2l0.2 0l0.3 -0.5l0.2 0.2l0.2 1.5l0.3 0.4l0.2 0.2l0.3 -0.7l0.2 -1.9l0.3 0l0.2 0.1l0.3 -1.5l0.2 -1.1l0.3 0l0.2 -2.2l0.2 -1.4l0.3 -0.2l0.2 0.2l0.3 -0.2l0.2 1l0.3 1.3l0.2 0.7l0.3 -0.5l0.2 0.9l0.3 0l0.2 0l0.2 0l0.3 0l0.2 0l0.3 0l0.2 -2.2l0.3 -0.5l0.2 0.9l0.3 1l0.2 0.2l0.2 1.8l0.3 0l0.2 0.1l0.3 0l0.2 0.8l0.2 0.3l0.3 1.2l0.2 1.4l0.3 0.5l0.2 -0.9l0.3 0.6l0.2 0.6l0.2 -0.4l0.3 -0.5l0.2 -0.4l0.3 0.8l0.2 -3.4l0.3 0.6l0.2 0l0.3 -0.4l0.2 -1.6l0.3 -0.4l0.2 -0.3l0.2 -2.4l0.3 0l0.2 -0.7l0.3 0.7l0.2 0.1l0.3 -0.3l0.2 -0.6l0.2 0.4l0.3 0l0.2 0l0.3 -1.1l0.2 -2.1l0.3 -1l0.2 -2.2l0.2 -1.5l0.3 0l0.2 -1.9l0.3 -1.7l0.2 -1.3l0.3 0.5l0.2 -0.9l0.3 -0.1l0.2 -1l0.3 -1l0.2 -0.7l0.3 1.4l0.2 0l0.2 -1.9l0.3 0.3l0.2 0.5l0.3 0.6l0.2 -1.6l0.3 -0.5l0.2 2.1l0.3 -1l0.2 0l0.3 -1l0.2 -1.8l0.3 -0.7l0.2 1.3l0.2 1.3l0.3 -1.3l0.2 -0.7l0.3 -0.8l0.2 -1.3l0.2 -0.1l0.3 1.3l0.2 1.4l0.3 -0.8l0.2 1.7l0.3 1l0.3 -0.3l0.2 -0.1l0.3 -0.3l0.2 0.4l0.3 1.7l0.2 -1.5l0.3 -2l0.2 0.5l0.2 -0.6l0.3 -2.8l0.2 -1.6l0.3 -1.5l0.2 -1.1l0.3 -0.1l0.2 0.3l0.2 -0.8l0.3 -0.7l0.2 0l0.3 1.2l0.2 1.9l0.3 0.2l0.2 -0.6l0.3 2.6l0.2 1.7l0.3 -0.8l0.2 -1.4l0.2 0.1l0.3 1.7l0.2 0.2l0.3 0.3l0.2 0l0.3 -1.5l0.3 -0.4l0.2 0.6l0.3 -2.5l0.2 -0.9l0.3 -1.3l0.2 -1.9l0.3 -2.5l0.3 0l0.2 -1.1l0.3 -0.4l0.2 0.4l0.3 -2.1l0.2 0.2l0.3 0.9l0.2 1.2l0.3 0.5l0.2 -1.5l0.3 2.4l0.2 0.8l0.3 -1l0.2 -1.8l0.3 0.9l0.2 1.5l0.2 1.8l0.3 1.5l0.2 0.9l0.3 1.5l0.2 -1.5l0.3 0.6l0.2 -0.7l0.3 0.4l0.2 -1.5l0.2 -0.7l0.3 -0.7l0.2 -0.3l0.3 1.1l0.2 -1.9l0.2 0.8l0.3 -2l0.2 -1.2l0.3 -1.7l0.2 -1.1l0.3 -1.3l0.2 -0.7l0.2 -0.9l0.3 2l0.2 0l0.3 -1.2l0.2 -0.2l0.3 0.2l0.2 -1.2l0.3 -2.3l0.2 -1.8l0.3 -0.2l0.2 -0.1l0.2 -0.5l0.3 -0.6l0.2 0.2l0.3 -1.1l0.2 0.1l0.3 1.7l0.2 1.1l0.2 0.3l0.3 -0.1l0.2 0.1l0.3 -1.8l0.2 1.2l0.3 -0.9l0.2 -2.5l0.2 -0.9l0.3 -0.3l0.2 -0.5l0.3 -2.8l0.3 -2.1l0.2 1.4l0.3 -0.7l0.2 -0.4l0.3 -0.7l0.3 0.7l0.2 1.1l0.3 -1.1l0.2 1.1l0.3 2.1l0.2 -0.8l0.3 -0.4l0.2 -0.7l0.3 1l0.2 -0.1l0.2 -0.4l0.3 -1.7l0.2 -1.3l0.3 1.1l0.2 1.9l0.3 1.2l0.2 2l0.3 0.1l0.2 -0.8l0.2 -1l0.3 -0.2l0.2 -1l0.3 1.4l0.2 -2.3l0.3 -1.5l0.2 -1.3l0.2 -1.7l0.3 0.4l0.2 -3.6l0.3 0.6l0.2 0.7l0.2 0.4l0.3 2.3l0.2 3.2l0.3 0.2l0.2 0.8l0.3 0.1l0.2 1l0.3 -0.3l0.2 -1l0.3 0.7l0.2 -0.7l0.2 1.4l0.3 1.5l0.2 -0.6l0.3 0.2l0.2 0.3l0.3 -0.7l0.2 0.8l0.2 -0.8l0.3 0.1l0.2 -2.6l0.3 0.1l0.2 -2.7l0.3 -1l0.2 1.6l0.2 2.1l0.3 -0.9l0.2 -2.5l0.3 0.2l0.2 0.5l0.3 -0.5l0.2 0.2l0.2 -1.8l0.3 1.1l0.2 1.9l0.3 -2.4l0.2 -1.1l0.3 -0.8l0.2 0.4l0.3 -2.7l0.2 0.4l0.3 -0.3l0.2 -0.7l0.2 0.9l0.3 -2.2l0.3 -1.8l0.2 -1.5l0.3 1l0.2 -0.7l0.3 -0.8l0.3 1.2l0.2 -0.2l0.3 -0.7l0.2 -0.4l0.3 0.4l0.2 3.6l0.3 -1.2l0.2 0.2l0.3 -0.1l0.2 -0.2l0.3 2.4l0.2 0.8l0.3 0.7l0.2 -0.8l0.2 -0.8l0.3 0.3l0.2 -0.5l0.3 -0.5l0.2 1.4l0.3 -1l0.2 -2.4l0.3 0l0.3 -2.1l0.2 -0.2l0.3 -2.4l0.2 -0.1l0.3 -2.6l0.3 1l0.2 0.2l0.3 1.9l0.2 0.2l0.3 -1.2l0.3 2l0.2 -0.1l0.3 1.1l0.3 -0.1l0.2 1.3l0.3 -1.2l0.2 0.6l0.3 0.2l0.2 2.9l0.2 -0.4l0.3 -0.3l0.2 0l0.2 3.2l0.3 2.4l0.2 -2l0.3 -2.8l0.2 -0.1l0.3 -1.6l0.3 -0.6l0.2 -0.5l0.3 -3.4l0.2 -1.7l0.3 -2.2l0.2 -1.8l0.3 -1.3l0.2 0.8l0.3 0.2l0.2 0.3l0.3 -0.6l0.2 -0.5l0.2 1.2l0.3 1l0.2 1.5l0.3 0.5l0.2 -0.9l0.3 -0.4l0.2 -0.3l0.3 -0.2l0.2 -2.7l0.3 -1.7l0.2 1.6l0.3 0.3l0.2 -3.7l0.3 -0.3l0.2 -2.1l0.3 3.5l0.2 1.4l0.3 1.6l0.2 -0.5l0.3 0.8l0.2 1.3l0.3 1.2l0.2 -1.1l0.3 0.3l0.2 -0.2l0.2 0.2l0.3 -2.1l0.2 1.2l0.3 -0.2l0.2 0.1l0.3 -1.5l0.3 -1.4l0.2 -3.8l0.3 -0.4l0.2 -1.2l0.3 -3.4l0.2 -1.9l0.3 -0.7l0.2 1l0.3 0l0.2 2.1l0.2 -0.2l0.3 -2.3l0.2 -0.3l0.3 -4.8l0.2 2.2l0.3 -0.5l0.2 -0.1l0.2 0l0.3 0.8l0.2 -1.1l0.3 -0.2l0.2 -0.7l0.3 -0.1l0.2 0.2l0.3 -1.5l0.2 2.7l0.2 -1.5l0.3 1.8l0.2 -0.6l0.3 -2l0.2 1.1l0.3 0.2l0.2 -0.2l0.3 -0.5l0.2 -0.3l0.3 1.5l0.2 -0.2l0.2 0.7l0.3 1.8l0.2 -0.6l0.3 -0.4l0.2 0.1l0.3 -0.9l0.2 -2.3l0.3 -0.2l0.2 0.7l0.3 0.1l0.2 -2.3l0.2 1.5l0.3 1.6l0.2 -0.8l0.3 -2.3l0.2 -1.8l0.3 3.3l0.2 2.3l0.3 0.2l0.2 -2.4l0.3 1.2l0.2 -0.9l0.3 1.9l0.2 -2.1l0.3 0.3l0.2 -0.4l0.3 0.7l0.2 -1l0.3 0.3l0.2 -1.1l0.3 -2.3l0.2 0.2l0.2 1.7l0.3 0.8l0.2 -2.6l0.3 0.7l0.2 0.7l0.2 1.4l0.3 4.3l0.2 0.1l0.3 0.1l0.2 -1.6l0.3 -1.9l0.2 -0.6l0.2 1.6l0.3 -0.3l0.3 2.4l0.2 3.3l0.3 4.6l0.2 0.3l0.3 2.2l0.3 -1.3l0.2 2.9l0.3 1.6l0.3 -1.2l0.2 -4.6l0.3 0l0.2 0l0.3 0l0.3 0l0.2 0l0.3 2.9l0.3 1.3l0.2 -6.5l0.3 -1.4l0.2 -5.4l0.3 0.8l0.2 5.2l0.3 2.8l0.2 -3.8l0.3 -5l0.2 -5.3l0.3 1.5l0.2 2.4l0.3 2.3l0.2 1.4l0.2 -4.7l0.3 -6.5l0.2 4.8l0.3 -1.3l0.2 8.6l0.3 -7.1l0.2 -3.8l0.2 -1.6l0.3 0.3l0.2 2.9l0.3 -1.6l0.2 2.1l0.3 -3.7l0.2 0l0.2 0l0.3 0l0.2 0l0.3 0l0.2 6.9l0.2 9.3l0.3 -3.1l0.2 -1.1l0.3 1.6l0.2 0.2l0.3 2.3l0.2 -3.5l0.3 2.7l0.2 -3.7l0.2 1.1l0.3 3.8l0.2 3.4l0.3 1.6l0.3 -3.5l0.2 -0.4l0.3 5l0.2 3.3l0.3 5.3l0.3 -1.2l0.2 2.1l0.3 3.7l0.2 -8.4l0.3 1.2l0.3 7.1l0.2 -3.4l0.3 -1.8l0.3 1.3l0.2 -3l0.3 -3.1l0.2 -3.2l0.3 -2.8l0.3 -3.2l0.2 -4.3l0.3 3.6l0.2 -1.6l0.3 -4.1l0.3 -3.3l0.2 2l0.3 -2.1l0.3 0l0.2 1.4l0.3 5.5l0.2 -2.5l0.3 -3.8l0.2 -0.3l0.3 -2.4l0.2 3.2l0.2 -1.2l0.3 -1.9l0.2 -4.4l0.3 0l0.2 0l0.3 1l0.2 -1l0.2 2.1l0.3 3.2l0.2 0.2l0.3 -0.2l0.3 0l0.2 0.6l0.3 -0.1l0.3 1.1l0.2 0l0.3 0.3l0.2 -0.5l0.3 -1.1l0.3 -0.4l0.2 -1.3l0.3 -0.6l0.2 -1.4l0.3 0.3l0.3 0.7l0.2 1.1l0.3 0.1l0.3 0.4l0.2 0.6l0.3 1l0.2 0.4l0.3 -0.6l0.2 0.6l0.2 -1.5l0.3 -0.7l0.2 -0.4l0.3 -1.8l0.2 -0.6l0.3 -1.7l0.2 -0.3l0.2 -1.8l0.3 -2.5l0.2 -1.6l0.3 -1l0.2 0l0.3 0.4l0.2 0.1l0.2 -0.8l0.3 0.4l0.2 -0.3l0.3 -0.4l0.2 0.4l0.3 -0.4l0.2 -1.6l0.3 0.3l0.2 -0.2l0.3 -0.7l0.2 0.8l0.2 -1l0.3 0.5l0.2 0.2l0.3 2.4l0.2 -1l0.3 0.3l0.2 0.3l0.2 0.8l0.3 -0.5l0.2 -0.4l0.3 1.1l0.2 -0.2l0.2 0.1l0.3 0.4l0.2 0.5l0.3 -0.7l0.2 -0.2l0.3 0.6l0.2 0.2l0.3 1.3l0.2 0.9l0.3 0.8l0.2 0.4l0.3 1.3l0.2 0l0.2 0.2l0.3 -0.6l0.2 -0.8l0.3 -0.2l0.3 -1.2l0.2 -2.6l0.3 -1l0.2 -1.3l0.3 -2.1l0.2 -0.7l0.3 -1.4l0.3 -1.1l0.2 -0.1l0.3 -1.7l0.2 -0.3l0.3 -1.9l0.2 -1.6l0.3 -0.3l0.3 -1.4l0.2 -1.7l0.3 -1.8l0.3 -1l0.2 -2.5l0.3 0.5l0.2 0.1l0.3 -1.1l0.2 -1.1l0.3 0.7l0.2 -1.1l0.3 2l0.2 -0.7l0.3 0.2l0.2 -2.2l0.2 0l0.3 0l0.2 0.1l0.3 0.3l0.2 -0.4l0.3 2l0.2 0.3l0.3 -0.9l0.2 0.5l0.3 -3.4l0.2 -1.5l0.3 0.5l0.2 -0.8l0.3 -0.4l0.2 -1.6l0.2 0l0.3 -0.3l0.2 -0.3l0.3 0.2l0.2 0.7l0.3 0.1l0.2 -2.2l0.3 -0.3l0.2 -0.6l0.3 -1.9l0.2 -1.4l0.3 -0.1l0.2 0.1l0.2 0.1l0.3 -0.6l0.2 0.7l0.3 0.5l0.2 0.1l0.3 0.5l0.2 -0.6l0.3 -1.1l0.2 0.5l0.3 1.2l0.2 2.8l0.3 -1.4l0.2 -0.2l0.3 -0.6l0.2 0.6l0.3 -0.3l0.2 -1.3l0.3 -0.3l0.3 -1.8l0.2 -1.7l0.3 0.1l0.2 -0.6l0.3 -2.9l0.3 0.2l0.2 -1.9l0.3 -0.3l0.2 -0.6l0.2 -0.7l0.3 -1.1l0.2 0.5l0.3 -1.3l0.2 -1.4l0.3 -0.9l0.2 -0.6l0.2 -2l0.3 0.2l0.2 -0.8l0.3 0.4l0.2 2l0.3 1.3l0.2 1.3l0.3 0l0.3 0l0.2 -0.9l0.3 0.9l0.3 0l0.2 -1.5l0.3 -0.7l0.2 0.7l0.3 -0.7l0.3 0.3l0.2 -1.1l0.3 -2.1l0.2 -0.9l0.3 -1.2l0.3 -2.2l0.2 1.2l0.3 0.5l0.2 -0.4l0.2 0.1l0.3 -0.2l0.2 0.3l0.3 1.7l0.2 -0.3l0.2 -1.2l0.3 1.3l0.2 2.7l0.3 -0.6l0.2 -0.3l0.3 -1.8l0.2 -1.3l0.3 -0.6l0.3 -1l0.2 0.1l0.3 -1.7l0.2 -1.9l0.3 -2.1l0.3 0.3l0.2 0.6l0.3 0.5l0.3 -1.5l0.2 0.2l0.3 -0.6l0.2 -0.2l0.3 -0.8l0.3 -0.9l0.2 -1.9l0.3 -1.2l0.2 -0.6l0.3 -1.5l0.3 -0.3l0.2 0.8l0.3 -0.7l0.3 -1.5l0.2 -1.7l0.3 -0.2l0.2 0.7l0.3 -0.5l0.3 -0.5l0.2 -2l0.3 -0.6l0.2 0l0.3 -0.9l0.2 -2.1l0.3 -0.1l0.2 0.8l0.3 -0.3l0.2 -0.2l0.3 -0.9l0.2 -1.5l0.3 -1.9l0.2 -1.4l0.2 -1.1l0.3 -1l0.2 0.3l0.3 -0.1l0.2 0.2l0.3 0l0 0.1l0.2 0.7l0.3 -0.8l0.3 -0.1l0.2 -2.3l0.3 1.9l0.2 -1l0.3 -0.6l0.3 1.4l0.2 -1.5l0.3 -2.4l0.3 -2.8l0.2 -2l0.3 -1.7l0.2 -1.3l0.3 -2.5l0.3 -0.9l0.2 -2.5l0.3 -1.2l0.2 9.1l0.3 3.8l0.3 6.1l0.2 6.6l0.3 2.8l0.3 2.1l0.2 -2.4l0.3 -3.9l0.2 -1.8l0.3 -2.5l0.3 -3.7l0.2 -3.5l0.3 -2.3l0.2 -4.7l0.3 -3.3l0.2 2.6l0.3 3.5l0.2 3.4l0.3 3l0.2 1.9l0.2 4.7l0.3 2.2l0.2 3.8l0.2 1.1l0.3 -2.4l0.3 1.1l0.2 1.3l0.3 0.4l0.2 -2.1l0.3 0.4l0.2 0.2l0.3 -3.5l0.3 -0.1l0.2 -2.2l0.3 -2.7l0.2 -0.8l0.3 -2l0.3 -2.9l0.2 -0.4l0.3 -2.7l0.3 0.3l0.2 -2.2l0.3 -0.6l0.2 0.9l0.3 -0.6l0.3 -0.9l0.2 -0.9l0.3 -0.3l0.2 -1.6l0.3 -1.1l0.3 -2.5l0.2 1.9l0.3 -3.4l0.3 -0.4l0.2 -3.5l0.3 3.3l0.2 -1.5l0.3 3.8l0.3 -0.9l0.2 -0.5l0.3 1l0.2 -0.6l0.3 2.9l0.3 1.9l0.2 -5l0.3 -3.2l0.3 -0.9l0.2 -0.3l0.3 -2.5l0.2 -1.4l0.3 1.4l0.2 -2l0.3 0.9l0.2 -2.7l0.2 2.1l0.3 2.7l0.2 -1.8l0.3 -3.5l0.2 -2.6l0.3 1l0.2 -0.5l0.2 2.1l0.3 -1.8l0.2 -3.1l0.3 -1.2l0.2 0.4l0.2 -1.5l0.3 -2.8l0.2 -1l0.2 -1.4l0.3 -0.4l0.2 0.8l0.3 0l0.2 -1l0.3 0.1l0.3 -4.2l0.2 0.6l0.3 1.8l0.2 1.4l0.3 -1.2l0.2 -2.4l0.3 1.7l0.3 1.8l0.2 2.9l0.3 1.5l0.2 3.2l0.3 5.4l0.3 1.7l0.2 5.9l0.3 2.9l0.2 2.7l0.3 4.3l0.3 4.3l0.2 4.2l0.3 -2.8l0.2 -4.5l0.3 -1.7l0.2 -4.4l0.3 -5.4l0.2 0.6l0.3 1.1l0.2 0l0.3 0l0.2 0.7l0.3 1.4l0.2 0l0.2 -1.1l0.3 -1.1l0.2 5.8l0.3 5.1l0.3 4.4l0.2 6.2l0.3 6.1l0.3 4.3l0.2 5.1l0.3 4.1l0.2 4.2l0.3 -4.6l0.3 -2.1l0.2 -3.2l0.3 -3.1l0.2 -2.9l0.3 -2.7l0.2 -3.8l0.3 -2.9l0.3 -4l0.2 0.1l0.3 -4.4l0.2 -0.4l0.3 1.1l0.2 -2.7l0.2 -2.2l0.3 -2.7l0.2 -3.3l0.3 1.6l0.2 -0.5l0.2 -2.4l0.3 -1.6l0.2 -0.7l0.3 -1.1l0.2 -1.5l0.3 -0.1l0.2 1.5l0.3 -0.2l0.3 0.3l0.2 1l0.3 -0.1l0.2 0.7l0.3 -0.1l0.3 4l0.2 -0.6l0.3 -2.6l0.2 -2.6l0.3 -1.7l0.2 -1.9l0.3 -3.1l0.2 -2.7l0.2 -2l0.3 -0.7l0.2 -0.3l0.2 -2.9l0.3 -0.3l0.2 -0.6l0.3 1.3l0.2 -1.9l0.3 -2l0.3 -1l0.2 1.4l0.3 -1.7l0.2 -1.7l0.3 0.6l0.3 -1.2l0.2 2.6l0.3 2.2l0.2 -0.5l0.3 0.5l0.3 2.9l0.2 0.1l0.3 3.7l0.3 2.2l0.2 2.4l0.3 2.6l0.2 0.4l0.3 1.3l0.3 -4l0.2 -2.1l0.3 -1.2l0.2 -3.1l0.3 -2.9l0.2 -5l0.3 -3l0.2 -3.1l0.3 -0.3l0.2 0.8l0.3 -0.7l0.2 -0.5l0.3 -2.6l0.2 0.3l0.2 -1.1l0.3 -2.8l0.2 -0.3l0.3 -1.9l0.2 -0.3l0.3 0l0.2 -0.3l0.3 -0.4l0.3 1l0.2 -0.5l0.3 -1.4l0.2 2.5l0.3 1.3l0.3 3.2l0.2 2.7l0.3 1.8l0.3 0.3l0.2 1.9l0.3 1.6l0.2 1.9l0.3 1.9l0.2 2.1l0.2 -2.4l0.3 -0.6l0.2 -2.6l0.2 -3.5l0.3 -2.3l0.2 -2.7l0.3 -1.9l0.2 -0.4l0.3 1.7l0.2 -0.1l0.3 1l0.2 2.2l0.3 2.6l0.3 -0.3l0.2 -0.8l0.3 2.6l0.2 -1.9l0.3 -4.3l0.3 -0.1l0.2 -3.6l0.3 -1.7l0.3 -2l0.2 -0.1l0.3 -3.4l0.2 -1l0.3 -1.1l0.2 0.6l0.3 -2.2l0.2 -1.1l0.3 -2l0.2 0.3l0.3 -0.6l0.2 -2.2l0.3 -1.2l0.2 -4.1l0.2 0.3l0.3 -1.1l0.2 -0.7l0.3 1.5l0.2 0.8l0.3 -1.9l0.3 -1.8l0.2 -2.4l0.3 -0.8l0.2 -1.9l0.3 -0.7l0.2 -0.1l0.3 -0.8l0.3 -2.2l0.2 -1.5l0.3 -1l0.2 -2.4l0.2 1.7l0.3 3.3l0.2 0.3l0.2 0l0.3 -2.9l0.2 -0.6l0.3 -0.2l0.2 -1.5l0.3 0.6l0.2 -2.2l0.3 -0.6l0.2 2.1l0.3 2.5l0.2 -0.2l0.3 1.6l0.3 2.5l0.2 1.7l0.3 -7l0.3 -6.3l0.3 -6.3l0.2 -4.8l0.3 4.8l0.2 7.8l0.3 3.8l0.2 4.7l0.3 -3l0.2 12.6l0.3 13.1l0.3 10.4l0.2 13.9l0.2 6.5l0.3 11.2l0.2 9.7l0.2 12.3l0.3 11.7l0.2 17.8l0.3 2.2l0.2 -10l0.3 -6.6l0.2 -3.8l0.3 -1.9l0.3 -2.9l0.2 -3.1l0.3 -12.6l0.2 -12.4l0.3 -12l0.2 -3.3l0.3 -9.9l0.2 2.7l0.3 -2.1l0.3 2.2l0.2 0.6l0.3 -2.7l0.2 -5.4l0.3 -2.1l0.3 -8.2l0.3 -3.7l0.2 -3.8l0.3 -2.9l0.3 0l0.3 1.6l0.2 4.5l0.3 -8.2l0.2 -8.6l0.3 -9.6l0.3 -4.1l0.2 -5.7l0.3 5.6l0.2 0.8l0.3 5.7l0.3 -3l0.2 -1.2l0.3 4.7l0.2 -3.7l0.3 -4.1l0.3 -2.7l0.2 -9.3l0.3 -2.1l0.2 -2.6l0.3 -2.9l0.3 -6.1l0.2 0.5l0.3 2.4l0.3 0l0.2 0l0.3 0l0.2 -1.1l0.3 -2.8l0.3 -3.7l0.2 -2.4l0.3 -5.1l0.2 -2.2l0.3 -3.4l0.3 -6.8l0.2 -5.9l0.2 -3.8l0.3 -2.5l0.2 -1.1l0.2 -6.7l0.3 -8.7l0.2 1.8l0.3 -5.2l0.2 2.4l0.3 6.2l0.2 3.4l0.3 0.3l0.2 6.9l0.3 5.4l0.2 8l0.3 4.2l0.3 -2.9l0.2 -1.1l0.3 -4.6l0.2 -2.5l0.3 0.1l0.2 -6.2l0.3 -3.5l0.2 -2.6l0.3 -0.6l0.3 -3.4l0.2 -4.7l0.3 4.8l0.2 3.1l0.2 4.9l0.3 4.5l0.2 3l0.2 5.1l0.3 6.7l0.2 -0.1l0.3 -16.8l0.2 -12.3l0.3 -13.2l0.3 0.8l0.2 5.2l0.3 0.1l0.2 0l0.3 -2.8l0.3 0.7l0.2 -3.4l0.3 -4.9l0.2 -3.9l0.3 -2.4l0.3 -0.3l0.2 -4l0.3 3.5l0.2 1.4l0.3 0l0.2 0.3l0.2 -2l0.3 -3.2l0.2 -2.6l0.3 -1.1l0.2 0l0.2 1.5l0.3 3.2l0.2 0.5l0.3 0.1l0.2 -8.8l0.2 -11.6l0.3 0.7l0.2 1.5l0.3 3.2l0.2 5l0.3 1l0.2 3.5l0.3 2.8l0.2 1.9l0.2 2.4l0.3 -5.4l0.2 -6.1l0.3 -4.4l0.2 -9.3l0.3 -10.9l0.2 3.7l0.3 5.7l0.2 5.7l0.3 2.4l0.3 4.4l0.2 -4.7l0.2 -2.4l0.3 -4.9l0.2 -6.3l0.2 -2.1l0.3 -6.5l0.2 -5.9l0.2 -2.5l0.3 1.6l0.3 -3.2l0.2 3.3l0.3 -0.8l0.2 0.3l0.3 1.2l0.3 0.1l0.2 -4l0.3 -2.4l0.3 -3.9l0.2 -3l0.3 -7.2l0.2 -2.1l0.3 -2.4l0.3 0.7l0.2 1.5l0.3 0.6l0.2 -1.5l0.3 -2.6l0.2 -5.8l0.3 -4.1l0.3 -3.3l0.2 -3.7l0.3 1.8l0.3 2.5l0.2 1.3l0.3 2.3l0.3 -0.3l0.2 -5.6l0.3 1.4l0.2 -1.1l0.3 -0.7l0.3 -4l0.2 0.6l0.3 0.3l0.3 2.5l0.3 2.1l0.2 10l0.3 6.5l0.3 7.7l0.2 -7.2l0.3 -5.9l0.2 -9.2l0.3 -7.1l0.2 -5.7l0.3 -3.2l0.2 -1.5l0.3 2.7l0.3 -2.1l0.2 1.8l0.3 -0.9l0.2 -10.3l0.3 -7l0.2 -0.7l0.2 -0.3l0.3 -3.2l0.2 0.9l0.2 -0.9l0.3 3l0.2 -0.2l0.2 -0.1l0.3 -3.5l0.3 -0.9l0.2 -2l0.3 -2.7l0.2 2.8l0.3 -1.6l0.3 -2.7l0.2 -1.2l0.3 -3.3l0.2 -3.2l0.3 -3.7l0.2 4.2l0.3 3.4l0.2 4.1l0.3 2l0.3 1.2l0.2 0.8l0.3 2.7l0.3 4.1l0.2 6.7l0.3 1.6l0.2 3l0.3 2.3l0.3 -1.2l0.3 -4.2l0.2 -4.3l0.3 -9.1l0.3 -4.7l0.2 -3.6l0.3 -6.4l0.3 -9l0.2 -3.8l0.3 -3.9l0.2 -6.4l0.2 -10.9l0.3 -2.6l0.2 -2.3l0.3 -1.4l0.2 -6.6l0.2 1l0.3 -0.7l0.2 8.9l0.3 7.5l0.2 10.3l0.3 -5.4l0.2 -6.2l0.2 -6.9l0.3 -5l0.3 7.1l0.2 7.9l0.3 7.5l0.3 6.5l0.2 -4.3l0.3 -4.4l0.2 -1.1l0.2 -1.4l0.3 -1.5l0.2 -10.3l0.2 -5.5l0.3 -1.3l0.2 9.5l0.2 6.5l0.3 5.4l0.2 2.9l0.3 1l0.3 1.2l0.2 9.1l0.3 2.8l0.3 12l0.2 12.8l0.3 3.5l0.3 -3.4l0.2 2l0.3 -0.8l0.3 -7.2l0.2 1.2l0.3 4.5l0.2 2.2l0.3 -1.2l0.3 1.1l0.2 -0.6l0.3 -0.4l0.2 -5l0.3 4.2l0.2 -1.3l0.2 0.1l0.3 4.3l0.2 -4.3l0.2 1.8l0.3 5.1l0.2 11.8l0.3 -7.2l0.2 -6.8l0.3 -6.4l0.2 -7.8l0.3 -9.4l0.2 2.4l0.3 -0.4l0.3 1.2l0.2 0l0.3 -0.4l0.2 -2.8l0.3 1.2l0.3 0.7l0.2 3.1l0.3 0.7l0.3 0.1l0.2 6.7l0.3 6l0.2 3.7l0.3 3.4l0.3 4.5l0.2 4.2l0.3 3.3l0.2 -3.5l0.3 -3.4l0.3 -1.8l0.2 -6.6l0.3 -2.3l0.3 1.9l0.2 -2.3l0.3 0l0.2 3.1l-0.6 36.9l0.3 -2l0.2 4.7l0.2 -1.1l0.3 -3.7l0.2 0l0.3 -4.3l0.2 -3.4l0.3 1.5l0.2 -4.2l0.3 52.4l0.3 -2.7l0.2 -3.8l0.3 -9.9l0.3 -6.5l0.2 -2.6l0.3 -4.3l0.2 4.4l0.3 1.2l0.2 0.2l0.3 -0.1l0.3 2.2l0.2 -2.6l0.3 -11.2l0.2 -7.6l0.3 -3.6l0.3 -1.1l0.2 -6l0.3 -2.2l0.2 -3.7l0.3 -5.8l0.3 -1.6l0.2 -2.2l0.3 -2.6l0.3 4.9l0.2 3.5l0.3 4l0.2 5l0.3 3.8l0.3 6.3l0.2 3.4l0.3 6.4l0.2 4.6l0.3 1.2l0.3 -3l0.2 3.1l0 0.7l0.3 8.1l0.2 12.9l0.2 5.7l0.3 7.5l0.2 12.3l0.2 8.8l0.3 10.6l0.2 11l0.3 -2.4l0.2 0.3l0.3 -3.7l0.2 -2.1l0.3 4.1l0.2 -2.3l0.3 -0.8l0.3 -4.1l0.2 -9.3l0.3 -14l0.3 -14.1l0.3 -14.4l0.2 -0.2l0.3 -0.5l0.2 1.7l0.3 0.9l0.2 2.8l0.3 -7.3l0.2 -8.7l0.3 -6l-0.8 -0.6l0.2 -3.6l0.3 -4.9l0.2 -2.2l0.3 -0.4l0.2 -2.8l0.2 -1l0.3 -1.7l0.2 0.9l0.2 0.9l0.3 -0.2l0.3 1.4l0.2 -2.7l0.3 2.1l0.2 8.7l0.3 8l0.2 9.9l0.3 -7.2l0.2 1l0.3 -3.4l0.2 -7.4l0.3 -7.2l0.2 -4.9l0.2 -5l0.3 -1.9l0.2 -0.9l0.3 -0.3l0.2 -1.9l0.3 -3l0.2 4l0.3 1.8l0.2 -3.8l0.3 -2.2l0.2 -4.3l0.3 -5l0.2 -0.2l0.3 -2.7l0.2 -3.5l0.3 1.7l0.2 -0.3l0.3 3.6l0.3 3.6l0.2 3.1l0.3 -0.7l0.3 2l0.2 5.5l0.3 6.5l0.3 4.9l0.3 -5l0.2 -6.2l0.3 -1.4l0.2 6.2l0.3 10.9l0.3 6.1l0.3 12.8l0.2 -4.4l0.3 -3.6l0.2 -6.1l0.3 -6.1l0.2 -9.5l0.3 1.6l0.2 1.2l0.3 -5.3l0.2 4.2l0.3 -3.3" stroke="#1f77b4"/>
<path d="M83.3 702.7l0.3 -0.9l0.3 0.5l0.2 -0.9l0.3 0.7l0.3 -0.8l0.2 0.2l0.3 0.1l0.2 1.7l0.3 -0.6l0.3 -0.6l0.2 -0.8l0.3 0l0.2 0l0.3 0l0.3 1.3l0.2 -0.6l0.3 1.9l0.3 0.2l0.2 0l0.3 -1l0.2 -0.2l0.3 0.2l0.3 -1.4l0.2 0.4l0.3 0l0.3 -0.4l0.2 0.7l0.3 -0.3l0.2 0.2l0.3 -0.4l0.2 -0.3l0.2 0.3l0.3 0.5l0.2 -0.5l0.3 -1.6l0.2 0.8l0.3 -1.1l0.3 0.3l0.2 1.9l0.3 0.2l0.2 -0.9l0.3 -1.1l0.2 1.2l0.3 0.2l0.2 0.8l0.3 0.2l0.3 0l0.2 0l0.3 0l0.2 -1.3l0.3 -1.6l0.2 -0.2l0.2 -0.1l0.3 0.5l0.2 -0.3l0.2 0l0.3 0.5l0.2 -0.9l0.2 -1.3l0.3 -0.6l0.2 -1.8l0.2 0.4l0.3 -0.4l0.2 0.1l0.3 0.8l0.2 0.5l0.2 0.3l0.3 1.3l0.2 -0.8l0.2 0.7l0.3 0.3l0.2 -1.2l0.3 1.2l0.2 -0.7l0.3 0.6l0.3 -0.8l0.2 1l0.3 0.1l0.2 -0.2l0.3 -1.8l0.3 -0.7l0.2 1.7l0.3 0.6l0.2 0.2l0.3 1.1l0.3 -2l0.2 0l0.3 -0.2l0.3 1.4l0.2 0.1l0.3 0.1l0.2 0.5l0.3 -0.3l0.3 1.2l0.2 0.5l0.3 0.8l0.2 0.7l0.3 1.9l0.3 0.8l0.2 -0.2l0.3 -1.3l0.3 -0.2l0.2 -0.4l0.3 -0.3l0.2 -1.3l0.3 -1.1l0.3 -0.2l0.2 1.1l0.3 -1l0.2 0l0.2 -0.4l0.3 0.3l0.2 -0.1l0.3 0.6l0.2 -2.8l0.3 -0.9l0.2 -1.3l0.2 -0.5l0.3 -0.8l0.2 -1.3l0.3 0.4l0.2 2.3l0.3 -1.8l0.2 0.2l0.3 1.3l0.3 0.3l0.2 0.2l0.3 -0.5l0.3 0l0.2 1.1l0.3 1.1l0.2 0.3l0.3 -0.8l0.2 -0.4l0.2 0l0.3 0.5l0.2 0.1l0.3 -0.3l0.2 0.4l0.3 -1.2l0.2 0.8l0.3 1l0.2 -0.9l0.3 0.4l0.2 -0.8l0.2 0.9l0.3 0.7l0.2 -0.3l0.3 0.9l0.2 -0.5l0.3 -1.1l0.2 -0.5l0.3 -0.5l0.2 -0.2l0.3 0l0.2 -0.6l0.2 0.3l0.3 1.1l0.2 -0.7l0.3 -0.7l0.2 0.3l0.3 1.5l0.2 0.9l0.3 -0.3l0.3 0.9l0.2 2l0.3 -1.1l0.2 1.5l0.3 1.4l0.2 0.7l0.2 2.1l0.3 0.5l0.2 2l0.3 2.6l0.2 1.6l0.2 0.9l0.3 -1.9l0.2 -1.7l0.3 -2.1l0.2 0.4l0.3 -1l0.2 -0.5l0.3 -0.6l0.3 -0.6l0.2 0l0.3 -0.4l0.3 1.5l0.2 -0.3l0.3 -0.5l0.2 0.6l0.3 0.9l0.2 0.6l0.3 -0.5l0.2 0.1l0.2 -0.3l0.3 0.1l0.2 -0.3l0.3 -1l0.2 -1.6l0.3 0l0.2 -1.6l0.2 0.8l0.3 -0.3l0.2 -0.5l0.3 0.1l0.3 0.1l0.2 0.3l0.3 1l0.2 -1l0.3 -1l0.3 0.5l0.2 0.5l0.3 0l0.3 -0.1l0.2 0l0.3 0.4l0.2 -1.5l0.3 0l0.3 -1l0.2 -1.1l0.3 0.6l0.2 0.9l0.3 -1.5l0.2 -1l0.3 0.8l0.2 1.2l0.2 -0.3l0.3 -0.2l0.2 -1.1l0.3 2.4l0.2 0.7l0.2 1l0.3 0.6l0.2 0.7l0.3 0.1l0.3 -0.9l0.2 0.3l0.3 -0.3l0.2 0.5l0.3 -1.2l0.3 -1.2l0.2 -0.2l0.3 0l0.2 -0.5l0.3 -1.5l0.3 -1.1l0.2 -1.6l0.3 0.6l0.3 0l0.2 0.1l0.3 -0.7l0.2 0.4l0.3 1.1l0.3 0l0.2 -0.5l0.3 0.4l0.2 -0.9l0.3 0.1l0.2 -0.2l0.3 -0.4l0.2 1.1l0.3 0.6l0.2 1.8l0.3 -0.2l0.2 0.2l0.2 -0.3l0.3 -1.3l0.2 -1.2l0.3 0.7l0.2 -0.7l0.2 1.1l0.3 0.6l0.3 -1.1l0.2 1.2l0.3 -0.2l0.3 0.5l0.2 -0.7l0.3 0.6l0.2 -1.3l0.3 0l0.3 0.2l0.2 0.5l0.3 1.2l0.3 0.8l0.2 0.3l0.3 1l0.2 1l0.3 -0.5l0.3 1l0.2 0.8l0.3 0.1l0.2 1l0.3 -0.7l0.3 1.7l0.2 0.2l0.3 2.5l0.2 1.3l0.2 1.9l0.3 1l0.2 1.1l0.2 0.3l0.3 1.4l0.2 2.3l0.3 0.1l0.2 -0.5l0.3 0.1l0.2 -1.5l0.3 -1.6l0.3 -0.8l0.2 -0.5l0.3 -0.4l0.2 -0.9l0.3 -0.1l0.2 -1l0.3 0.8l0.3 -0.3l0.2 0.2l0.3 1.2l0.2 0.1l0.3 0.4l0.3 0.6l0.2 2.3l0.2 -0.6l0.3 -0.1l0.2 0.4l0.3 2.1l0.2 1.2l0.2 1l0.3 -0.2l0.2 1.1l0.3 1.1l0.2 0.4l0.3 0.1l0.2 -1.2l0.3 -1l0.2 -0.3l0.3 0l0.3 -0.2l0.2 -0.3l0.3 -1.4l0.2 0l0.3 -1.1l0.2 0.2l0.3 -0.9l0.2 -1l0.3 0.5l0.2 0l0.3 -0.7l0.2 -2.5l0.2 -0.6l0.3 0.3l0.2 0.6l0.3 -0.7l0.2 -0.9l0.2 -0.6l0.3 0.3l0.3 1.3l0.2 -0.4l0.3 0.3l0.3 -0.3l0.2 0.8l0.3 -0.8l0.2 0.8l0.3 0.4l0.3 -0.3l0.2 0.4l0.3 -1.9l0.2 0.3l0.3 -0.4l0.3 -0.9l0.2 0.6l0.3 -0.6l0.3 0.4l0.2 0.1l0.3 0.2l0.2 1.4l0.3 2.2l0.3 1.2l0.2 1.5l0.3 0.3l0.2 -0.2l0.3 0.4l0.3 -0.8l0.2 0.3l0.2 -0.6l0.3 0.5l0.2 1.1l0.3 -0.3l0.2 0.4l0.2 1.2l0.3 0.2l0.2 -0.3l0.3 -0.5l0.2 -0.9l0.3 1.3l0.2 0.1l0.3 -1.1l0.2 0.1l0.3 0.1l0.3 -1.2l0.2 -1l0.3 -0.1l0.2 -0.5l0.3 -0.4l0.3 0.8l0.2 -0.5l0.3 -1.5l0.3 0l0.2 0.1l0.3 1.5l0.2 -0.3l0.3 -0.8l0.3 1.5l0.2 -0.2l0.2 -0.5l0.3 -1.3l0.2 -0.8l0.3 0.3l0.2 -0.5l0.3 -0.8l0.2 -0.6l0.2 0.3l0.3 -1l0.2 0.1l0.3 -0.2l0.2 -0.3l0.2 -0.9l0.3 -0.1l0.2 0.7l0.3 -0.5l0.2 -1l0.3 -1.1l0.2 -0.4l0.2 -0.6l0.3 -0.4l0.2 -0.5l0.3 -1l0.2 -0.3l0.2 -0.2l0.3 0.4l0.2 -0.1l0.3 0.1l0.2 0.7l0.3 0.2l0.2 -0.2l0.2 0.2l0.3 0l0.2 0l0.3 -0.8l0.2 0.3l0.2 -0.5l0.3 -0.3l0.2 0.2l0.3 -0.3l0.3 0.3l0.2 0l0.3 -0.3l0.3 -0.4l0.2 -0.4l0.3 0.2l0.2 -0.1l0.3 -0.1l0.3 0.4l0.2 -0.2l0.3 -0.3l0.2 -0.9l0.3 0.3l0.3 0.2l0.2 -0.2l0.3 -0.7l0.3 -0.3l0.2 0l0.3 -0.4l0.2 -0.1l0.3 -0.5l0.3 0.3l0.2 0l0.3 -0.5l0.2 -0.1l0.3 0.5l0.2 0.4l0.3 -0.3l0.2 -0.2l0.3 -0.4l0.2 0.4l0.2 -1.6l0.3 -0.1l0.2 -0.4l0.3 0.5l0.2 0.2l0.2 -0.5l0.3 -0.8l0.2 -0.5l0.3 -0.1l0.2 -0.3l0.3 -0.3l0.2 -0.6l0.3 -0.3l0.2 0.5l0.3 -0.8l0.2 0l0.2 0.8l0.3 0.1l0.2 -0.4l0.3 0.4l0.2 -0.6l0.3 -0.5l0.2 1l0.3 0.4l0.2 0.4l0.2 -1.7l0.3 -0.3l0.2 0.7l0.3 -1.2l0.2 -0.3l0.2 0.3l0.3 -0.8l0.2 -0.4l0.3 -0.3l0.2 -1.9l0.3 -0.4l0.2 -0.5l0.2 0l0.3 1.3l0.2 -0.1l0.3 -0.5l0.2 0.2l0.2 -0.1l0.3 0.4l0.2 -1.4l0.3 -1l0.2 -1.7l0.3 -0.1l0.2 -0.4l0.2 -0.5l0.3 -0.6l0.2 -0.6l0.3 -1l0.2 -0.9l0.3 -0.6l0.2 -0.4l0.3 0.7l0.2 -0.1l0.2 -0.7l0.3 0l0.2 0.2l0.3 0l0.2 0l0.3 0.5l0.2 0.8l0.3 -0.5l0.2 0l0.2 -0.9l0.3 1l0.2 0l0.3 0l0.2 0.1l0.3 0.8l0.2 0.3l0.2 0.2l0.3 1.4l0.2 -0.5l0.3 -0.3l0.2 1.7l0.3 -0.4l0.2 -0.4l0.3 -0.5l0.3 -0.2l0.2 0.6l0.3 0.4l0.3 0.1l0.2 -0.5l0.3 -0.8l0.2 0.4l0.3 1.4l0.2 0.8l0.3 0.2l0.2 1l0.3 0.2l0.2 0.3l0.3 -0.6l0.2 0.5l0.3 0.3l0.2 0.2l0.2 0.2l0.2 0.8l0.3 0.3l0.2 -0.5l0.3 -0.6l0.2 -0.9l0.3 -0.9l0.2 -0.2l0.2 0l0.3 -0.3l0.2 -0.1l0.3 -0.2l0.2 -0.6l0.2 -1l0.3 -0.9l0.2 1.1l0.3 0.5l0.2 -1l0.3 -0.7l0.2 -0.4l0.2 0l0.3 0.1l0.2 0.4l0.3 0.5l0.2 0.4l0.2 0.9l0.3 0.2l0.2 0.5l0.3 -0.1l0.3 -0.7l0.2 0.2l0.3 1.5l0.3 -0.2l0.2 0l0.3 1l0.2 0.2l0.3 -1.1l0.2 0.2l0.3 -0.1l0.2 -0.2l0.3 -0.9l0.2 -0.2l0.3 -0.3l0.2 -0.4l0.3 0l0.2 0l0.2 -0.8l0.3 -0.3l0.2 -1.3l0.3 -0.1l0.2 0l0.3 -0.8l0.2 -0.4l0.3 -0.1l0.2 -0.8l0.2 0.2l0.3 0.1l0.2 -0.4l0.3 0l0.2 0.7l0.2 0.7l0.3 0.6l0.2 0.1l0.3 -0.2l0.2 -0.5l0.2 -0.6l0.3 0.4l0.2 0.1l0.3 0.2l0.2 -0.2l0.3 -2.1l0.2 -1.1l0.2 -1.1l0.3 -0.1l0.2 0.3l0.3 -1.6l0.2 -0.8l0.2 -0.5l0.3 0.4l0.2 -0.4l0.3 -0.5l0.2 -0.9l0.3 0.8l0.2 -0.6l0.3 0.7l0.2 -0.1l0.3 0.6l0.2 0.7l0.3 -0.7l0.2 -0.7l0.3 0.2l0.2 -0.9l0.3 -0.9l0.2 -0.1l0.3 0.1l0.2 -1l0.3 -0.6l0.2 0.5l0.2 1.3l0.3 -1.2l0.2 1.1l0.3 0.8l0.2 -0.5l0.2 -0.8l0.3 0.4l0.2 -0.4l0.3 0.3l0.2 0.7l0.3 -0.3l0.2 0.4l0.2 -0.1l0.3 -0.1l0.2 0.7l0.3 0.8l0.2 -0.4l0.3 -0.5l0.2 1.2l0.3 -0.3l0.2 -0.2l0.3 -1.5l0.2 0l0.2 -1.2l0.3 -1l0.2 -1.7l0.3 -0.8l0.2 -0.3l0.3 0.8l0.2 -0.3l0.3 0.1l0.2 0.8l0.3 -0.3l0.2 -0.5l0.3 0.2l0.2 -0.5l0.3 1.1l0.2 -0.3l0.3 1.2l0.2 1.8l0.2 -0.3l0.3 0.8l0.2 0.5l0.3 -0.1l0.2 0.3l0.3 0.5l0.2 1.2l0.3 0.4l0.2 -1.3l0.3 -0.8l0.2 0.4l0.2 0.7l0.3 -2.1l0.2 0.9l0.3 -0.4l0.2 0.7l0.3 -0.3l0.2 -1l0.2 -0.2l0.3 0.7l0.2 0.6l0.3 -1.5l0.2 0.7l0.2 -1.2l0.3 -0.5l0.2 -0.4l0.3 -0.8l0.2 -0.7l0.2 -0.4l0.3 0l0.2 0.4l0.3 0l0.2 -0.9l0.3 -1.9l0.2 -0.6l0.3 0.5l0.2 0.4l0.2 -0.2l0.3 -0.1l0.2 0.4l0.3 0.3l0.2 0.9l0.3 -0.6l0.2 -0.9l0.3 0.5l0.2 1l0.3 0.8l0.2 -2.5l0.2 -0.4l0.3 -1.5l0.2 0l0.3 0l0.2 0l0.2 0l0.3 1.1l0.2 -0.4l0.3 0.8l0.2 0.7l0.3 0.4l0.2 0.4l0.2 0l0.3 -0.7l0.2 0.4l0.3 0.5l0.2 -0.2l0.2 0.4l0.3 0.4l0.2 -1.4l0.3 -0.3l0.2 -0.5l0.3 -0.8l0.2 0.2l0.2 -0.8l0.3 -0.6l0.2 0l0.3 0.3l0.2 0.4l0.2 0.3l0.3 1.8l0.2 0.1l0.3 0.5l0.2 -0.6l0.3 0.6l0.2 1l0.2 1.4l0.3 -0.2l0.2 0l0.3 1l0.2 -0.8l0.2 0.1l0.3 -1.3l0.2 0.4l0.3 0l0.2 -0.4l0.3 -1.3l0.2 -1l0.2 -0.6l0.3 -0.9l0.2 -0.6l0.3 -0.8l0.2 -0.6l0.2 0.5l0.3 1l0.2 -0.8l0.3 -0.8l0.2 -1l0.3 -0.2l0.2 -1.1l0.2 0.6l0.3 0.6l0.2 -0.2l0.3 -0.1l0.2 0.4l0.2 0.3l0.3 0.3l0.2 -0.9l0.3 0.4l0.2 -1.4l0.3 1.1l0.2 -2.7l0.2 -0.4l0.3 -1l0.2 0.7l0.3 -0.8l0.2 1.1l0.2 -1.2l0.3 1.6l0.2 1.5l0.3 0.1l0.2 -0.3l0.3 0l0.2 0.4l0.3 0l0.2 -0.8l0.2 0.7l0.3 0l0.2 -1.8l0.3 0.3l0.2 -1.3l0.3 -0.3l0.2 -0.2l0.3 -0.9l0.2 0.3l0.2 -0.8l0.3 0.1l0.2 -0.5l0.3 -0.3l0.2 1.7l0.3 0.2l0.2 -0.9l0.2 -0.4l0.3 -0.9l0.2 -0.3l0.3 0l0.2 0l0.2 -0.3l0.3 -0.9l0.2 0.1l0.3 0.7l0.2 -0.8l0.3 0l0.2 0.2l0.3 0.7l0.2 0.8l0.3 -0.9l0.2 -0.2l0.2 -1.8l0.3 -1.1l0.2 -0.1l0.3 0.2l0.2 0.7l0.3 -0.7l0.2 -0.4l0.3 -1.5l0.2 0.1l0.3 -0.1l0.2 0.1l0.3 0.3l0.2 1l0.3 0.7l0.2 0.7l0.3 -0.5l0.2 0.9l0.2 -0.4l0.3 0.3l0.2 1.6l0.3 0.3l0.2 -1.1l0.3 1.6l0.2 1.2l0.3 1l0.2 0.5l0.3 -0.1l0.2 -0.6l0.3 -0.7l0.2 1l0.2 -0.7l0.3 -0.9l0.2 -0.6l0.3 1.3l0.2 0.5l0.2 -0.8l0.3 -0.1l0.2 0.1l0.3 0.4l0.2 -1.7l0.2 0.1l0.3 -0.9l0.2 -1.1l0.3 -0.8l0.2 0.1l0.3 0.8l0.2 -0.3l0.2 -0.1l0.3 -1l0.2 -0.2l0.3 0l0.2 0.3l0.3 -1.7l0.2 -0.7l0.2 0.6l0.3 -1.7l0.2 -0.7l0.3 0.4l0.2 -1.4l0.3 -0.1l0.2 0l0.3 0.1l0.2 -0.1l0.3 0l0.2 0l0.2 0.9l0.3 0.9l0.2 0.2l0.3 0.3l0.2 -1.9l0.3 -1.4l0.2 -1.2l0.3 -0.2l0.2 0.5l0.3 -1.9l0.2 -0.4l0.2 -1.2l0.3 -0.9l0.2 0.5l0.3 0l0.2 1.6l0.3 0.6l0.2 -0.8l0.3 -2.2l0.2 1.9l0.3 -0.3l0.2 -1.5l0.3 0.4l0.2 -0.1l0.3 -1l0.2 -0.3l0.2 0.1l0.3 -0.4l0.2 0.2l0.3 -0.6l0.2 -0.7l0.3 0.5l0.2 0.3l0.3 0.8l0.2 -0.8l0.3 -0.5l0.2 -1.3l0.3 1.7l0.2 -1.1l0.3 0.4l0.2 -0.4l0.2 0.6l0.3 0.5l0.2 -0.4l0.3 -0.2l0.2 -1.5l0.2 1.7l0.3 -0.3l0.2 -1.2l0.3 -0.6l0.2 -1.5l0.3 0.6l0.2 1.5l0.2 1.1l0.3 -1.2l0.2 -0.9l0.3 1l0.2 -1.6l0.3 -0.9l0.2 -1.6l0.3 -1.6l0.2 0.3l0.3 0.3l0.2 -0.1l0.2 0.2l0.3 0.5l0.2 2.2l0.3 0.1l0.2 0.3l0.3 -0.7l0.2 1.5l0.2 -0.1l0.3 -1.1l0.2 -0.3l0.3 0.8l0.2 1.2l0.2 1.5l0.3 -0.3l0.2 -0.4l0.3 -1.3l0.2 -0.8l0.3 -1.5l0.2 -0.6l0.2 -0.1l0.3 -0.4l0.2 -1.8l0.3 -1.6l0.2 0.9l0.2 -1.1l0.3 0.3l0.2 0.7l0.3 -0.6l0.2 -0.8l0.3 0.4l0.2 -0.8l0.3 -0.1l0.2 0.7l0.2 -0.1l0.3 0.3l0.2 -0.1l0.3 -0.9l0.2 -0.3l0.3 -0.6l0.2 -1.8l0.3 0.4l0.2 0.1l0.3 -0.1l0.2 -1.8l0.2 0.8l0.3 0.9l0.2 0.8l0.3 0.2l0.2 -1.2l0.2 0.3l0.3 -0.7l0.2 1.6l0.3 0l0.2 0l0.3 -0.5l0.2 -1.2l0.2 -0.2l0.3 -0.9l0.2 0.3l0.3 -0.1l0.2 -0.1l0.2 -1.9l0.3 0l0.2 0l0.3 -0.7l0.2 0.9l0.3 0.9l0.2 0.8l0.2 -2.6l0.3 2.6l0.2 2.3l0.3 3.6l0.2 0.1l0.2 1.8l0.3 -0.1l0.2 1.4l0.2 2l0.3 2.3l0.2 -0.4l0.3 1.7l0.2 -0.1l0.3 0.2l0.2 -0.5l0.3 1.4l0.3 -1.2l0.2 1.2l0.3 -3.2l0.2 -2.3l0.3 0l0.2 2.8l0.3 0l0.2 0l0.3 0l0.2 -0.9l0.3 0.9l0.2 0l0.3 0l0.2 -0.7l0.2 -2.4l0.3 -5.1l0.2 -3.4l0.3 0.9l0.2 0.7l0.3 -2.1l0.2 -0.1l0.3 0.9l0.2 3.1l0.3 0.1l0.3 0.1l0.2 1.5l0.3 0.8l0.2 1.2l0.3 -0.3l0.3 -0.3l0.2 -1.3l0.3 1.7l0.3 0.9l0.2 1.2l0.3 2l0.2 1.7l0.3 1.5l0.3 0.9l0.2 -0.8l0.3 2.2l0.2 -0.6l0.3 -1.6l0.3 -1.7l0.2 -0.3l0.3 0.3l0.3 1.3l0.2 -0.9l0.3 -3.4l0.2 2l0.3 0.8l0.2 0.5l0.2 1.6l0.3 3.1l0.2 0.8l0.3 -1.4l0.2 0l0.3 1l0.2 -1.5l0.2 1.8l0.3 -0.2l0.2 1.7l0.3 0.3l0.2 -0.5l0.3 -0.8l0.3 1.8l0.2 -0.9l0.3 -1.8l0.3 0l0.2 0.5l0.3 -0.9l0.2 1.8l0.3 2l0.2 4l0.2 -0.1l0.3 1.4l0.2 -0.5l0.3 -1.6l0.2 0.6l0.3 2.1l0.2 -0.7l0.2 -0.2l0.3 -0.3l0.2 2.4l0.3 1.9l0.2 -0.8l0.3 0.6l0.2 -0.5l0.3 0l0.2 -0.8l0.3 -3.3l0.2 0.2l0.3 1l0.2 -3.3l0.3 -0.2l0.2 -0.2l0.2 -1.4l0.3 -0.4l0.2 -3.3l0.2 0.4l0.3 1.6l0.2 -2.4l0.3 -0.6l0.2 2.5l0.3 0.2l0.2 -1.2l0.3 -0.7l0.2 -0.2l0.3 -0.7l0.2 1.1l0.2 -2.6l0.3 1.8l0.2 -1l0.3 1.8l0.3 -0.4l0.2 -1.4l0.3 0l0.2 -1.2l0.3 -0.2l0.3 1.6l0.2 2.1l0.3 0.8l0.2 0l0.3 -0.1l0.3 1.3l0.2 2.6l0.3 1l0.3 0.7l0.2 -0.2l0.3 0.8l0.2 1.8l0.3 -2l0.3 2.3l0.2 1l0.3 -1.3l0.3 2l0.2 1.3l0.3 2l0.2 -0.5l0.3 4.6l0.2 -1.1l0.3 1.4l0.2 -0.3l0.3 0.2l0.2 0.4l0.2 -3.5l0.3 1.9l0.2 -1.5l0.3 -0.9l0.2 -0.1l0.3 -2.1l0.2 -0.6l0.2 -0.1l0.3 1l0.2 -0.2l0.3 0.6l0.2 -2.2l0.3 -1.6l0.2 0l0.3 0l0.2 2.9l0.2 0.2l0.3 -0.4l0.2 0l0.3 1.3l0.2 0.6l0.3 -1.9l0.2 3l0.3 -1.7l0.2 9.4l0.3 -5.1l0.2 -2.7l0.3 8.3l0.3 -4.2l0.2 6.9l0.3 4.7l0.2 4.6l0.3 4.8l0.2 4l0.3 5.4l0.2 -3.7l0.3 -2.5l0.2 7.7l0.2 2.6l0.3 -1l0.2 -0.9l0.2 -5.4l0.3 -0.7l0.2 1l0.2 5.9l0.3 -3.2l0.2 -6.7l0.3 -0.9l0.2 4.4l0.2 11.4l0.3 4.6l0.2 3.3l0.3 -2.3l0.2 -2l0.3 -3l0.2 0.5l0.3 -3.1l0.2 -5.5l0.3 1.9l0.3 -1.7l0.2 0.1l0.3 5.9l0.2 -0.1l0.3 -1.8l0.3 1.9l0.2 -6.4l0.3 2l0.3 -3.1l0.2 0.5l0.3 1.9l0.2 4.9l0.3 -0.2l0.3 3l0.2 1.7l0.3 -1.8l0.2 2.3l0.2 -0.4l0.3 -2l0.2 -0.3l0.2 -0.4l0.3 1.8l0.2 -0.8l0.3 4.9l0.2 3.7l0.3 1.4l0.2 0.7l0.3 3.2l0.2 -1.2l0.3 -1.3l0.2 1.2l0.3 3l0.3 2.8l0.2 2.1l0.3 1.6l0.2 -0.9l0.2 -2.1l0.3 -4.2l0.2 0.2l0.2 -0.7l0.3 -2l0.2 -1.2l0.3 -1.1l0.2 -0.6l0.3 -0.6l0.2 -1.8l0.3 -3.7l0.2 -0.3l0.3 1.3l0.3 0.3l0.2 -1.7l0.3 0.4l0.2 -1.8l0.3 -0.2l0.2 -2.4l0.3 -1.6l0.2 2.7l0.3 0.4l0.2 2.3l0.2 -2.4l0.3 -2.4l0.2 -1.5l0.3 0.4l0.2 -2.3l0.2 0.5l0.3 -2.9l0.2 2.4l0.3 2.1l0.3 -3.1l0.2 1.8l0.3 -1l0.3 2.5l0.2 -1l0.2 1.1l0.3 1l0.2 -5.4l0.2 -3l0.3 0.2l0.2 -0.2l0.2 2.6l0.3 3.9l0.2 2.6l0.3 -1.2l0.2 1.9l0.3 0.1l0.2 -0.2l0.3 0.4l0.2 0.3l0.3 -0.4l0.3 -0.4l0.2 -3.2l0.2 1.4l0.3 -1.8l0.2 -2l0.2 -2.2l0.3 -1.8l0.2 -1.7l0.2 -0.4l0.3 -0.9l0.3 -0.5l0.2 -1.4l0.3 -0.4l0.2 0.8l0.3 -0.7l0.3 -0.6l0.2 -2.8l0.3 0.2l0.2 0l0.3 1.3l0.2 -3.7l0.3 -0.2l0.2 -0.8l0.2 -0.2l0.3 -1.1l0.2 0.2l0.3 0.7l0.2 -0.3l0.2 -0.3l0.3 -0.4l0.2 -0.7l0.3 1.1l0.3 0l0.2 -1.2l0.3 2.9l0.2 -1.1l0.3 1.1l0.3 -0.8l0.2 1.1l0.3 0l0.2 -0.4l0.3 -2.1l0.3 -2.4l0.2 -0.5l0.3 1.2l0.3 0.3l0.2 -1.1l0.2 0.3l0.3 0.4l0.2 -0.7l0.3 1.1l0.2 0.1l0.2 0.2l0.3 -0.9l0.2 -0.9l0.3 0.5l0.2 0.6l0.3 0.7l0.2 -1.1l0.2 -1.4l0.3 -0.9l0.2 -0.1l0.3 -2.6l0.2 1.3l0.3 0.1l0.2 0l0.3 -1.2l0.2 1.8l0.3 -0.9l0.2 2.6l0.3 0.5l0.2 -2.1l0.3 0.8l0.2 -1l0.3 -1.2l0.2 -0.6l0.3 -0.4l0.2 -0.2l0.2 1.6l0.3 0.8l0.2 0.1l0.3 -0.5l0.2 -0.3l0.3 1l0.2 2l0.2 2.1l0.3 -1l0.2 0.4l0.3 0.3l0.2 0.4l0.2 1l0.3 -1l0.2 -0.7l0.3 -1.6l0.2 -0.4l0.3 0.8l0.2 1.6l0.3 -0.9l0.2 -1.6l0.3 -0.9l0.2 -1.3l0.2 0.5l0.3 -1.2l0.2 -0.5l0.3 -2l0.2 -1.4l0.3 -0.4l0.2 -0.1l0.3 1.6l0.2 -1.4l0.3 0.2l0.2 -2.6l0.3 -1.8l0.2 -1.4l0.3 -1l0.2 -0.4l0.3 0.3l0.2 -1.8l0.3 0.1l0.2 -1.7l0.3 1.5l0.2 0.6l0.3 -0.2l0.2 -0.5l0.3 1.2l0.2 1.1l0.3 1.1l0.2 2.2l0.3 1.5l0.2 1.6l0.3 1.2l0.3 1.8l0.2 -0.2l0.3 4.3l0.2 -0.7l0.3 0.1l0.3 1.3l0.2 0l0.3 0l0.2 -0.3l0.3 -1.3l0.3 -1.7l0.2 -0.6l0.3 0.5l0.3 0.9l0.2 -1.1l0.3 0.4l0.2 1.6l0.3 2l0.3 0.9l0.2 0.1l0.3 1.4l0.3 2.6l0.2 -1.1l0.3 1.1l0.2 1l0.3 -1.3l0.3 -2.6l0.2 -1.4l0.3 -1.2l0.2 -0.3l0.3 -2.8l0.3 3.1l0.2 0.1l0.3 -1.8l0.3 0.1l0.2 0.9l0.3 1.7l0.2 0.7l0.3 0l0.3 -1.7l0.2 0.2l0.2 0.5l0.3 -0.6l0.2 0.2l0.3 0l0.2 -0.5l0.3 -1.8l0.2 0l0.2 -2.2l0.3 1.4l0.2 -1l0.3 0.5l0.2 -1.4l0.2 0.6l0.3 -0.5l0.2 0.5l0.3 -0.9l0.2 -2l0.3 -0.7l0.2 -0.6l0.3 -2.2l0.2 -1.2l0.3 -1.9l0.2 -0.5l0.3 -1.1l0.2 -0.2l0.3 2.9l0.2 -0.1l0.3 0.3l0.2 0.4l0.3 -0.2l0.2 -1.2l0.3 1.1l0.2 1.7l0.3 -3.3l0.3 0l0.2 -0.4l0.3 -0.2l0.2 2l0.3 -0.7l0.3 1.4l0.2 -1l0.3 -0.9l0.2 0.1l0.3 -1l0.2 -0.4l0.3 -2.2l0.2 -1.7l0.3 0.9l0.2 0.6l0.2 -2.2l0.3 -2l0.2 2.8l0.3 -1.3l0.2 -1.6l0.3 0l0.2 -1.4l0.3 -0.6l0.2 0.4l0.3 1.3l0.2 -0.9l0.3 1l0.2 -0.5l0.3 -0.7l0.2 -0.6l0.2 -1l0.3 0l0.2 -0.2l0.3 -1.4l0.2 -0.2l0.3 -1.6l0.2 -1.6l0.3 -0.8l0.2 0.5l0.3 -0.6l0.2 1.5l0.2 1.5l0.3 -0.3l0.2 -1.5l0.3 -1.3l0.2 0.2l0.3 0.7l0.2 1.7l0.2 -2l0.3 0.8l0.2 0.9l0.3 3l0.2 0l0.2 -0.6l0.3 0.1l0.2 -1.6l0.3 -1.1l0.2 -1.5l0.3 -0.9l0.2 -0.6l0.3 -1.9l0.2 -0.3l0.3 0.6l0.2 1.4l0.3 0.3l0.2 1.8l0.3 2l0.2 -2.2l0.3 -0.3l0.2 -1.6l0.3 -1.2l0.2 1l0.3 0.2l0.2 1.4l0.2 2.3l0.3 -0.6l0.2 -0.5l0.3 -0.8l0.2 -0.4l0.2 0.5l0.3 -1.9l0.2 0.5l0.3 -0.9l0.2 0.9l0.3 1.1l0.2 1.9l0.2 1l0.3 -0.5l0.2 -1.1l0.3 0.7l0.2 -0.5l0.2 -1.2l0.3 0.7l0.2 0.3l0.3 1.5l0.2 3.3l0.3 0.5l0.2 -0.8l0.3 0.2l0.2 -2.4l0.3 0.1l0.2 -0.7l0.3 -1.3l0.2 -2.4l0.3 1.8l0.2 -1.6l0.3 -0.2l0.2 0l0.2 1.2l0.3 0.6l0.2 1l0.3 -2.1l0.2 2.7l0.2 4.3l0.3 -0.4l0.3 7.6l0.2 2.7l0.3 6.1l0.2 -0.1l0.3 0.6l0.2 1.9l0.3 -1.9l0.2 2.1l0.3 -4.6l0.2 0l0.2 -2.1l0.3 0.9l0.2 0.5l0.3 -1.6l0.2 4.6l0.2 -0.8l0.3 1.9l0.2 -3.8l0.3 -1.5l0.2 3l0.3 4.2l0.3 1.7l0.2 0.7l0.3 -4.5l0.2 2l0.3 -4.7l0.2 -3l0.3 -1.2l0.2 3.1l0.2 -1.5l0.3 -0.7l0.2 -0.6l0.3 -0.3l0.2 -0.6l0.3 -4.1l0.2 -3.6l0.2 -1.7l0.3 1.6l0.2 2.6l0.3 5.9l0.3 -1.5l0.2 2.2l0.3 2.1l0.2 2.4l0.3 -1.5l0.2 -3.1l0.3 -3.4l0.3 0.7l0.2 7l0.2 0.5l0.3 -3.3l0.2 1l0.2 -0.2l0.3 0.2l0.2 -1.9l0.3 -3.7l0.2 -1.2l0.2 -2.8l0.3 0.4l0.2 -1.5l0.3 1.2l0.2 -4.6l0.3 0.3l0.2 -1.6l0.3 -1.3l0.2 2.1l0.2 -2.6l0.3 2.3l0.2 -0.5l0.3 -0.3l0.2 -0.3l0.3 0.1l0.2 -0.4l0.3 -0.7l0.2 1.6l0.3 -0.4l0.2 -0.3l0.3 -1.3l0.2 -2.2l0.3 -1.1l0.2 -0.5l0.3 0.1l0.2 -0.6l0.3 0.2l0.2 0.5l0.3 0.6l0.2 -0.3l0.3 0.2l0.2 -0.5l0.3 -1.1l0.2 1.4l0.3 -1.1l0.3 -0.3l0.2 0.2l0.3 -2.5l0.2 0.2l0.3 -0.6l0.2 0.3l0.3 -0.5l0.2 -1.4l0.3 0.1l0.2 -0.1l0.3 0.6l0.2 0.6l0.3 -1.2l0.2 0.6l0.3 0.3l0.2 0.7l0.3 0.6l0.2 -1.1l0.3 0.5l0.2 -0.5l0.3 2.4l0.2 -0.1l0.3 -0.8l0.2 -0.6l0.3 1.5l0.2 0.6l0.2 -1.2l0.3 2.4l0.2 1.4l0.3 0.5l0.2 2l0.3 0.1l0.2 0.3l0.2 1.9l0.3 0.6l0.2 1.6l0.3 -0.1l0.2 0.4l0.3 -0.1l0.3 -2.7l0.2 0l0.3 -1l0.2 0.3l0.3 -0.4l0.2 0.6l0.3 -0.9l0.3 -2.4l0.2 -0.3l0.2 -0.1l0.3 -0.3l0.2 -0.7l0.3 1.4l0.2 -0.6l0.3 0.8l0.2 0.1l0.3 -1.3l0.2 -1.1l0.3 -0.8l0.2 0.3l0.3 -1.1l0.2 -1.6l0.3 -0.9l0.2 -1l0.3 -0.6l0.2 -1.1l0.3 1.9l0.2 0.7l0.3 -0.8l0.2 0.5l0.2 1.4l0.3 0.1l0.2 0l0.3 -0.5l0.2 -1.6l0.3 -0.4l0.2 -0.4l0.3 -1.2l0.2 -1.1l0.3 -0.1l0.2 -2.6l0.2 -1.8l0.3 -0.1l0.2 0.8l0.3 0.1l0.2 1l0.3 1.4l0.2 0.5l0.3 0l0.2 0.5l0.3 0l0.2 0l0.2 0l0.3 0l0.2 0l0.3 -0.1l0.2 -2.5l0.3 -0.1l0.2 0.8l0.3 1l0.2 0l0.2 1.7l0.3 0.1l0.2 0.6l0.3 -0.1l0.2 0.7l0.2 0.3l0.3 1.3l0.2 1.5l0.3 0.5l0.2 -0.5l0.3 0.7l0.2 0.4l0.2 -0.2l0.3 -0.8l0.2 -0.1l0.3 0.3l0.2 -3.6l0.3 0.7l0.2 -0.1l0.3 -0.5l0.2 -1.4l0.3 -0.8l0.2 -0.3l0.2 -2.3l0.3 -0.2l0.2 -1.2l0.3 0.7l0.2 -0.1l0.3 -0.4l0.2 -0.3l0.2 0.1l0.3 -0.4l0.2 0.1l0.3 -1.6l0.2 -1.6l0.3 -0.7l0.2 -1.9l0.2 -1.2l0.3 -0.1l0.2 -2.1l0.3 -1.9l0.2 -1.4l0.3 0.8l0.2 -1l0.3 -0.4l0.2 -1.5l0.3 -1.6l0.2 -0.8l0.3 1.5l0.2 0.3l0.2 -2l0.3 -0.2l0.2 0.6l0.3 0.8l0.2 -1.8l0.3 -0.3l0.2 2.2l0.3 -1.3l0.2 0.2l0.3 -1.2l0.2 -1.3l0.3 -0.4l0.2 1.1l0.2 1.5l0.3 -1.1l0.2 -0.8l0.3 -1.3l0.2 -0.9l0.2 0l0.3 1.4l0.2 1.6l0.3 -1l0.2 1.4l0.3 1l0.3 -0.2l0.2 0.4l0.3 -1.1l0.2 0.1l0.3 1.3l0.2 -1.5l0.3 -2.1l0.2 0.3l0.3 -0.4l0.2 -3.1l0.2 -2.1l0.3 -2.1l0.2 -1.5l0.3 -0.9l0.2 0.3l0.3 -0.2l0.2 0.2l0.3 -0.7l0.2 1.6l0.3 1.9l0.3 -0.3l0.2 -0.6l0.3 2.4l0.2 0l0.3 0l0.2 -2l0.3 0.5l0.3 2.1l0.2 0l0.3 0.6l0.2 0.4l0.3 1.2l0.3 0.2l0.2 -2.8l0.3 -2l0.2 -1.5l0.3 -2.4l0.2 -2.9l0.3 -0.1l0.3 -1.1l0.2 -0.8l0.3 0.6l0.2 -1.4l0.3 -0.1l0.2 0.4l0.2 0.9l0.3 -0.1l0.2 -1.3l0.2 2.4l0.3 0.7l0.2 -1.3l0.3 -0.5l0.2 -1.3l0.3 0.5l0.3 2.4l0.2 2.5l0.3 1.9l0.2 0.5l0.3 1.8l0.3 -0.7l0.2 -0.5l0.3 0.7l0.2 -1.1l0.2 -0.5l0.3 -0.3l0.2 0.1l0.3 1.2l0.2 -2.5l0.2 1.1l0.3 -1.4l0.2 -0.6l0.3 -1.6l0.2 -0.9l0.3 -1.3l0.2 -0.8l0.2 -0.6l0.3 1.8l0.2 -0.5l0.3 -1.4l0.2 -0.4l0.3 -0.1l0.2 -1.1l0.3 -2.4l0.2 -1.9l0.3 -0.7l0.2 1l0.2 0.2l0.3 -1.2l0.2 0l0.3 -0.6l0.2 -0.4l0.3 1.6l0.2 0.9l0.2 0.6l0.3 0l0.2 0l0.3 -2l0.2 1l0.3 -1.3l0.2 -2.1l0.2 -0.7l0.3 -0.2l0.2 0l0.3 -2.8l0.3 -2.3l0.2 0.7l0.3 -0.2l0.2 -0.4l0.3 -0.8l0.3 0.4l0.2 1.5l0.3 -1.4l0.3 1l0.2 1.8l0.3 -0.3l0.2 -0.4l0.3 -0.4l0.3 1.3l0.2 -0.1l0.3 0.1l0.2 -1.8l0.3 -0.1l0.2 0.3l0.2 2.7l0.3 1.5l0.2 2.5l0.2 -0.1l0.3 0.5l0.2 -0.5l0.3 -1.4l0.2 1.2l0.3 -3.3l0.3 -1.3l0.2 -1.4l0.3 -1.6l0.2 0.1l0.3 -3.4l0.2 0.8l0.3 0.6l0.2 -0.8l0.3 1.4l0.2 1.6l0.3 0l0.2 0l0.2 0l0.3 0l0.2 -0.7l0.3 -2l0.2 -0.3l0.3 -1.6l0.2 0.4l0.2 0.4l0.3 -0.2l0.3 0.5l0.2 0.2l0.3 0l0.2 2.2l0.3 0.4l0.3 -0.1l0.2 -2.8l0.3 0l0.3 -2.4l0.2 -1.1l0.3 2.1l0.2 1.8l0.3 -0.4l0.3 -2.6l0.2 0.6l0.3 -1l0.2 0l0.2 -2.2l0.3 1.2l0.2 2.1l0.3 -2l0.2 -1.2l0.3 -1.6l0.2 0.8l0.3 -3.1l0.2 0l0.3 -0.4l0.2 -1.4l0.2 0.9l0.3 -2.9l0.3 -1.1l0.2 -0.9l0.3 1.4l0.2 0.4l0.3 -1.2l0.3 0.7l0.2 -0.8l0.3 -0.2l0.2 0.2l0.3 0.3l0.2 4.3l0.3 -1.8l0.2 0.8l0.3 -0.1l0.2 -0.2l0.3 2.6l0.2 1.3l0.3 0l0.2 0l0.2 -1.3l0.3 0.4l0.2 -0.4l0.3 -0.9l0.2 1.2l0.3 -1.5l0.2 -2.3l0.3 0.3l0.3 -1.7l0.2 -0.4l0.3 -2.1l0.2 0l0.3 -2.1l0.3 1l0.2 0.2l0.3 1.9l0.2 0.3l0.3 -1.6l0.3 1.6l0.2 0l0.3 1.9l0.3 -0.1l0.2 1l0.3 -1.1l0.2 0.3l0.3 0.3l0.2 3.9l0.2 -0.5l0.3 0l0.2 0.5l0.2 2.6l0.3 3.1l0.2 -1.1l0.3 -2.9l0.2 -0.8l0.3 -2.1l0.3 0.1l0.2 -0.5l0.3 -3.4l0.2 -1.8l0.3 -2.4l0.2 -0.7l0.3 -1.6l0.2 0.3l0.3 -0.4l0.2 -0.8l0.3 -1l0.2 -0.7l0.2 0.4l0.3 0.3l0.2 1.2l0.3 0l0.2 -1.6l0.3 -0.9l0.2 1.6l0.3 1.9l0.2 -1l0.3 -0.2l0.2 3.2l0.3 -0.7l0.3 -5.1l0.2 -1l0.3 -0.3l0.3 3.2l0.2 1.7l0.3 0.9l0.2 -0.2l0.3 0.3l0.2 0.9l0.3 0.1l0.3 -1.4l0.2 0.8l0.3 1.2l0.2 1.2l0.3 -0.5l0.3 1.4l0.2 0.7l0.3 -1l0.3 -0.9l0.2 -2.9l0.3 -0.4l0.2 0.3l0.3 -3.8l0.2 -1.8l0.3 -0.5l0.2 1.6l0.3 1.2l0.2 3.4l0.2 0.1l0.3 -1.4l0.2 -0.4l0.3 -4l0.2 2.2l0.3 1l0.2 0.4l0.2 -0.2l0.3 0l0.2 -1.8l0.3 -0.1l0.2 -0.8l0.3 -0.2l0.2 0l0.3 -2.2l0.2 3l0.2 -1.8l0.3 1.7l0.2 -0.8l0.3 -1.9l0.2 0.5l0.3 0.2l0.2 0l0.3 0.3l0.2 -1.5l0.3 1.4l0.2 -0.1l0.2 0.8l0.3 2l0.2 -1.2l0.3 -0.5l0.2 -0.9l0.3 -0.7l0.2 -2l0.3 0.1l0.2 0.7l0.3 0.2l0.2 -2.1l0.2 0.9l0.3 1.3l0.2 -0.4l0.3 -2l0.2 -0.3l0.3 0.9l0.2 2l0.3 0.3l0.2 -2l0.3 1.7l0.2 0.1l0.2 2.9l0.3 -0.9l0.2 0.6l0.3 -0.9l0.2 0.8l0.3 -1.7l0.2 1.2l0.3 2.3l0.2 0.1l0.3 -0.5l0.2 1.9l0.2 0.8l0.3 -2.5l0.2 0.2l0.3 0.6l0.2 1.3l0.3 3.2l0.2 0l0.3 0l0.2 -1.2l0.2 -1.4l0.3 -0.7l0.2 0.7l0.3 -0.3l0.3 3.2l0.2 3.7l0.3 5.4l0.2 0.8l0.3 2.4l0.3 -1.3l0.2 1.4l0.3 1.9l0.3 -0.8l0.2 -3.3l0.3 0l0.2 0.3l0.3 -0.2l0.3 -0.1l0.2 0l0.3 2.4l0.3 1.7l0.2 -5.7l0.3 -1.7l0.2 -5.7l0.3 0.2l0.2 4.4l0.3 2.4l0.2 -3.1l0.3 -4.1l0.2 -3.2l0.3 2.1l0.2 1.8l0.3 2.6l0.2 1.4l0.2 -3.3l0.3 -7.3l0.2 6.5l0.3 -2.9l0.2 7.1l0.3 -8l0.2 -2.8l0.2 -2.3l0.3 0l0.2 2.6l0.3 -0.8l0.2 2.5l0.3 -3.3l0.2 -1l0.2 0.1l0.3 0l0.2 0l0.3 0l0.2 9.8l0.2 12.1l0.3 -5.1l0.2 -0.7l0.3 2.5l0.2 -0.5l0.3 3.7l0.2 -3.7l0.3 2.2l0.2 -2.7l0.2 3.7l0.3 1l0.2 1.2l0.3 -1.7l0.3 -3.1l0.2 -0.9l0.3 3.9l0.2 2.1l0.3 5.2l0.3 -3.1l0.2 4.5l0.3 5.1l0.2 -4l0.3 0.1l0.3 3.9l0.2 -2.8l0.3 0.8l0.3 -2.4l0.2 0.9l0.3 -3.5l0.2 -5.4l0.3 -2.9l0.3 -2.1l0.2 -2.4l0.3 5l0.2 -1.3l0.3 -4.6l0.3 -2.2l0.2 1.9l0.3 -7.6l0.3 2.4l0.2 2.7l0.2 2.3l0.3 -2.6l0.2 -4.8l0.3 -0.1l0.2 0.9l0.2 4.9l0.3 -1l0.2 -2.6l0.3 -5.6l0.2 -1.5l0.3 -0.2l0.2 4.4l0.3 -0.6l0.2 4.4l0.3 0.6l0.2 -4.5l0.3 -1.1l0.3 -0.9l0.2 -0.3l0.3 -1l0.3 0.3l0.2 0.4l0.3 1.2l0.2 0.3l0.3 -0.1l0.3 0.3l0.2 -0.8l0.3 0l0.2 -0.5l0.3 0.7l0.3 -0.5l0.2 -0.3l0.3 -1.3l0.3 -1.1l0.2 -1.2l0.3 -0.4l0.2 -0.1l0.3 -1.3l0.3 0l0.2 1.1l0.3 2.2l0.2 2.2l0.3 -1.8l0.2 -0.4l0.3 -1.4l0.2 0.1l0.3 -1.3l0.2 -2.2l0.2 -2l0.3 -0.6l0.2 -0.6l0.3 -0.3l0.2 -1.4l0.2 -0.2l0.3 -1.3l0.2 -0.1l0.3 0.6l0.2 -0.6l0.3 -1.7l0.2 0l0.2 -0.3l0.3 -0.8l0.2 0.4l0.3 -0.9l0.2 -0.1l0.2 -0.2l0.3 1.6l0.2 -1.8l0.3 -1.2l0.2 0.5l0.3 1l0.2 1.2l0.2 0.3l0.3 -0.2l0.2 1.4l0.3 0l0.2 0.7l0.2 0.4l0.3 0.8l0.2 -0.7l0.3 -0.3l0.2 -0.4l0.3 -0.7l0.3 0.5l0.2 -0.2l0.3 0.2l0.2 -0.7l0.3 0.5l0.3 -0.9l0.2 -0.6l0.3 0.6l0.2 0.5l0.2 2.1l0.3 1.4l0.2 0l0.2 1.6l0.3 1l0.2 0.6l0.3 -2.1l0.2 -2.7l0.3 -2.2l0.2 -1.7l0.3 -3l0.2 -1.3l0.3 -2.3l0.2 -2.8l0.3 0l0.3 -0.5l0.2 -1.8l0.3 -0.9l0.3 -0.8l0.2 -2.1l0.3 -0.5l0.2 -0.9l0.3 -1.9l0.3 -0.7l0.2 0.8l0.2 -1.4l0.3 1.9l0.2 -0.9l0.3 0.3l0.2 -2.4l0.3 0l0.2 -0.4l0.3 0.3l0.2 0.2l0.3 -0.3l0.2 1.9l0.3 0.6l0.2 -0.8l0.3 0.3l0.2 -2.5l0.3 -0.2l0.2 1l0.3 -1.1l0.2 -0.5l0.2 -2.3l0.3 -0.3l0.2 -0.5l0.3 -1l0.2 0.2l0.2 0.7l0.3 -0.3l0.2 -2.4l0.3 -0.3l0.2 -0.6l0.3 -1.8l0.2 -0.4l0.3 0.5l0.2 0.8l0.3 0.4l0.3 -0.1l0.2 1.3l0.3 1.1l0.2 0.5l0.3 1.4l0.3 0.1l0.2 -0.9l0.3 0.6l0.3 1.4l0.2 2.6l0.3 -1.3l0.2 0.1l0.3 -0.2l0.3 0.7l0.2 -0.2l0.2 0.6l0.3 -1.5l0.2 -0.4l0.3 0.9l0.2 0.7l0.3 -1.9l0.2 1.5l0.2 -0.9l0.3 -0.1l0.2 -0.8l0.3 -1l0.2 -0.8l0.3 0.3l0.2 1.2l0.3 0.1l0.3 0l0.2 0.5l0.3 1l0.2 0l0.3 -1.1l0.3 -0.1l0.2 0.8l0.3 -0.4l0.2 -0.1l0.3 -1l0.3 -1.3l0.2 -2.3l0.3 -0.6l0.2 -0.9l0.3 -2.7l0.2 0.1l0.3 0.9l0.2 0l0.3 0.8l0.2 -0.6l0.3 -1.1l0.2 -0.1l0.3 -0.8l0.2 -1.1l0.3 0.6l0.2 0.2l0.3 -0.7l0.2 0.1l0.2 -0.4l0.3 0.1l0.2 1.5l0.3 0.3l0.3 -0.7l0.2 2.4l0.3 3.3l0.2 0.2l0.3 -0.2l0.2 -0.4l0.3 0.6l0.2 -0.2l0.3 -0.5l0.2 0.5l0.2 -1l0.3 -0.7l0.2 -1.1l0.2 0.5l0.3 0.9l0.2 -0.5l0.3 -0.3l0.3 -2.5l0.2 -0.5l0.3 -1.5l0.2 -0.7l0.3 -1l0.3 -2l0.2 -2l0.3 -0.6l0.2 -0.4l0.3 -1.1l0.3 -0.1l0.2 0.9l0.3 -0.9l0.3 -1.2l0.2 -1.4l0.3 0.1l0.2 1.4l0.3 0.2l0.2 -0.5l0.2 -1.5l0.3 0.7l0.2 0.3l0.3 -0.5l0.2 -0.1l0.3 -0.5l0.2 0.2l0.2 0.9l0.3 0l0.2 0.2l0.3 -1l0.2 -1.5l0.3 -2l0.3 -1.6l0.2 -1l0.3 -1.1l0.3 -0.2l0.2 -0.6l0.3 0.4l0.2 -0.1l0.3 -1.4l0.3 -0.9l0.2 -2.8l0.3 0.4l0.2 -1.7l0.3 -1.3l0.3 0.7l0.2 -2.3l0.3 -1.7l0.3 -2.1l0.2 -1.8l0.3 -1.4l0.2 -0.6l0.3 -1.6l0.3 -1.1l0.2 -2.5l0.3 -0.6l0.2 7.2l0.3 3.2l0.3 5.6l0.2 6.2l0.3 3.4l0.3 2.7l0.2 -0.8l0.3 -2.1l0.2 -0.4l0.3 -1.1l0.3 -0.6l0.2 -1.6l0.3 -0.9l0.2 -2.5l0.3 -1.8l0.2 2.2l0.3 3.2l0.2 2.7l0.3 2.1l0.2 0.8l0.2 3.3l0.3 1.5l0.2 3l0.3 0l0.2 -2.8l0.3 0.1l0.2 0.3l0.3 -1.4l0.2 -2.3l0.3 -1.1l0.2 -0.8l0.3 -1.5l0.3 -1.7l0.2 0.3l0.3 -0.2l0.2 1.5l0.3 0.6l0.3 -0.7l0.2 1.7l0.3 0.2l0.2 0.4l0.3 -2.6l0.2 -0.6l0.3 0.5l0.2 -0.8l0.2 -0.8l0.3 -0.4l0.2 0.1l0.3 -1l0.2 -0.5l0.2 -1.5l0.3 1.3l0.2 -2.7l0.3 1.7l0.2 -0.2l0.3 0.2l0.2 1.9l0.2 -1.2l0.3 3.3l0.2 -0.7l0.3 -1l0.2 1.2l0.2 -1.1l0.3 2.1l0.2 0l0.3 -2.3l0.2 -3.6l0.3 -1.9l0.2 -1.4l0.2 0.3l0.3 -1.5l0.2 -0.9l0.3 0.9l0.2 -2l0.2 0.5l0.3 -1.7l0.2 1.4l0.3 2.1l0.2 -1.6l0.3 -3.5l0.2 -2.5l0.2 1.3l0.3 -1l0.2 1.3l0.3 -1.5l0.2 -1.1l0.2 -0.1l0.3 1.2l0.2 0.2l0.3 -1.4l0.2 0.9l0.3 -0.1l0.2 -0.4l0.2 0.4l0.3 -0.1l0.2 -1.6l0.3 -0.3l0.2 -3.7l0.3 0.5l0.2 1.5l0.2 1.1l0.3 -1.7l0.2 -2l0.3 3l0.2 -0.3l0.3 1l0.2 1.5l0.3 0.2l0.2 1.7l0.2 3.1l0.3 1.6l0.3 4.9l0.2 2.8l0.3 2.6l0.3 4.1l0.2 3.6l0.3 -1.5l0.2 -2.5l0.3 -3.7l0.3 -0.7l0.2 -2.8l0.3 -3.7l0.2 1.2l0.3 0l0.2 -0.4l0.2 -0.1l0.3 0.9l0.2 1.1l0.2 0l0.3 -1.9l0.2 2.5l0.3 4l0.2 3.5l0.2 2.1l0.3 5.1l0.2 4.3l0.3 3.3l0.2 4.3l0.3 2.8l0.2 2.8l0.2 3l0.3 -3.4l0.3 -1.8l0.2 -2l0.3 -3l0.2 -1.8l0.3 -1.7l0.2 -2.9l0.3 -2.5l0.3 -3.3l0.2 0.2l0.3 -4.5l0.2 -0.8l0.3 0.8l0.2 -1.1l0.2 -1.8l0.3 -1.8l0.2 -3.1l0.3 1.9l0.2 -0.7l0.2 -1.6l0.3 -1.5l0.2 -0.5l0.3 -0.9l0.2 -1.5l0.3 -1.1l0.2 0.4l0.3 -1.2l0.3 -0.6l0.2 -0.4l0.3 -1.3l0.2 -0.4l0.3 -0.1l0.3 1.6l0.2 2.4l0.3 0.7l0.2 0.8l0.3 1.8l0.2 1.4l0.3 -3.3l0.2 -2.9l0.2 -2.5l0.3 -1.2l0.2 -1l0.2 -2.8l0.3 -1.3l0.2 -1.5l0.3 0.6l0.2 -1.1l0.3 -1.4l0.3 -1.2l0.2 1.1l0.3 -1l0.2 -1.4l0.3 0.8l0.3 -1.1l0.2 2.8l0.3 2.2l0.2 -0.2l0.3 1l0.3 2.9l0.2 0.7l0.3 3.7l0.3 2.8l0.2 2.9l0.3 3l0.2 0.9l0.3 2.4l0.3 -3.3l0.2 -1.9l0.3 -0.5l0.2 -2.3l0.3 -1.9l0.3 -4.1l0.2 -2.7l0.3 -2.9l0.3 -2.4l0.2 0.5l0.2 -1l0.3 -1l0.2 -2.4l0.3 -0.4l0.2 -0.3l0.2 -2.8l0.3 -0.8l0.2 -1.7l0.3 0.1l0.2 -0.5l0.3 -0.8l0.2 0.9l0.3 3.4l0.2 0.8l0.3 0.9l0.2 1.4l0.3 1.8l0.3 0.3l0.2 1.5l0.3 0.3l0.2 -0.3l0.3 2.1l0.2 2.2l0.3 2l0.3 2l0.2 2.8l0.3 -2.1l0.2 -1.1l0.3 -2.1l0.3 -3.1l0.2 -2.4l0.3 -2.4l0.2 -1.9l0.3 -0.7l0.3 -1.5l0.2 -0.2l0.2 0.9l0.3 0.8l0.2 -1.3l0.2 -2.5l0.3 1.5l0.2 -2.1l0.2 -3.4l0.3 -1.1l0.3 2.3l0.2 -0.9l0.3 0.4l0.3 0.5l0.2 2l0.3 -2.1l0.2 -0.9l0.3 -0.2l0.2 0.5l0.3 -0.6l0.2 -0.2l0.3 -1.1l0.2 0.7l0.3 0.9l0.2 -1l0.3 0.1l0.2 -2.4l0.2 -3.8l0.3 -5.1l0.2 -5.2l0.3 -3.3l0.2 1l0.3 -1.2l0.3 -2.2l0.2 -2.1l0.3 -1.1l0.2 -1.9l0.3 -0.4l0.2 -0.2l0.3 -0.9l0.3 -2l0.2 -0.8l0.3 -0.8l0.2 -2.4l0.2 1.4l0.3 2.1l0.2 1.3l0.3 -0.3l0.2 -3.9l0.3 -1.5l0.2 0.3l0.2 -0.7l0.3 1.4l0.2 1.5l0.3 3.2l0.3 2.8l0.2 3.2l0.3 0.9l0.3 2.5l0.2 -2.6l0.3 -3.3l0.3 -4.5l0.3 -3.7l0.2 2.7l0.3 3.6l0.2 3l0.3 4.1l0.2 0.7l0.3 13.3l0.2 8l0.3 13.3l0.3 5.7l0.2 2.7l0.3 5.8l0.3 -0.1l0.2 12.6l0.3 12.3l0.3 13.4l0.2 12.6l0.3 16.7l0.2 -8l0.3 -4.4l0.2 -2.6l0.3 -0.9l0.2 -2.9l0.3 -8l0.3 -11l0.2 -9.5l0.3 -9.2l0.3 -2.6l0.2 6.3l0.3 0l0.2 -0.1l0.3 0l0.2 0l0.3 0l0.2 -2.9l0.3 4.5l0.3 -1.3l0.2 3.4l0.3 2.2l0.3 -3.2l0.2 3l0.3 -5.9l0.2 -4.1l0.2 -6.9l0.3 -7.4l0.2 -5.8l0.2 -7.1l0.3 -3.4l0.2 -4.1l0.3 7.5l0.2 3.4l0.3 6l0.3 1l0.2 1.2l0.3 5.3l0.2 2.1l0.3 3l0.3 2.6l0.2 -5.1l0.3 -2.3l0.2 0.2l0.3 -1.5l0.3 -3.9l0.2 0.7l0.3 -1.2l0.3 -3.4l0.2 -2.3l0.3 -3l0.2 -3.6l0.3 -3.5l0.3 -1.4l0.2 0.2l0.3 0.6l0.2 -0.7l0.3 1.7l0.3 0.3l0.2 -1.9l0.3 -0.3l0.2 0.9l0.3 1.2l0.2 -2.4l0.3 -3.9l0.3 2.6l0.2 -0.9l0.2 2.3l0.3 0.9l0.2 -1.5l0.3 3.2l0.2 0.7l0.2 2.7l0.3 2.1l0.2 -1l0.3 1.6l0.2 2.5l0.3 -0.1l0.2 1.2l0.3 3l0.3 -1.1l0.2 -3.7l0.3 -3.2l0.2 -2l0.3 -3.5l0.3 -4.5l0.2 -2l0.3 1.5l0.3 3.4l0.2 2.6l0.3 2.5l0.2 3.8l0.3 4.3l0.3 -8l0.2 -5.3l0.3 -6l0.3 -6.7l0.2 -6.2l0.3 -3.9l0.2 -2.4l0.3 -3.8l0.3 -1.9l0.2 -1.5l0.3 -3.6l0.2 -2.5l0.3 -0.9l0.3 0.8l0.2 -1.7l0.3 2.1l0.3 0.4l0.2 0.5l0.3 0.1l0.2 -0.7l0.3 -2.2l0.3 -3.6l0.2 -2.9l0.3 -2.7l0.2 -0.8l0.3 0.7l0.3 -2.5l0.2 0.5l0.3 -1.2l0.2 1.5l0.3 1.7l0.2 3.4l0.3 4.3l0.3 1.9l0.2 2.8l0.2 -1.7l0.3 -2.3l0.2 -1.7l0.3 -2l0.2 -1.6l0.2 -4.5l0.3 -5.9l0.2 -2.3l0.3 -0.3l0.2 0.4l0.3 0.2l0.2 -1.7l0.3 -0.1l0.3 -1.6l0.2 -3.8l0.3 -4.5l0.3 -1.5l0.2 -3.9l0.3 -4.9l0.2 -1.5l0.3 -0.1l0.3 -2.6l0.2 1.9l0.3 -1.5l0.2 0.1l0.3 -0.2l0.3 0.8l0.2 -1.7l0.3 -0.3l0.3 -1.3l0.2 -0.9l0.3 -3.7l0.2 -1.7l0.3 -2.1l0.3 -3.2l0.2 -0.7l0.3 -1.1l0.2 -2.4l0.3 -1.4l0.2 -3.7l0.3 -1.7l0.2 -1.3l0.3 -1.8l0.3 0.7l0.2 1.7l0.3 0.1l0.2 1.4l0.3 2.1l0.3 -1.3l0.2 0.2l0.3 -1l0.3 -1.7l0.3 -3l0.2 2.2l0.2 2.2l0.3 3.8l0.2 4l0.3 4l0.2 2.6l0.2 -0.6l0.3 1.4l0.2 -2l0.3 -0.9l0.2 -3.4l0.2 -1.6l0.3 -1.9l0.2 -2l0.3 -2.3l0.3 2.8l0.2 -0.4l0.3 2.3l0.3 0l0.2 -1.3l0.3 -0.2l0.2 -1l0.2 -0.5l0.3 -3.8l0.2 -0.1l0.3 -1.4l0.2 1l0.3 -0.8l0.2 -1.5l0.2 -1.9l0.3 -0.7l0.2 -1.2l0.3 -1.7l0.2 1.5l0.3 -1l0.3 0.2l0.2 1.5l0.3 -0.5l0.3 1.8l0.2 1.3l0.3 2.3l0.2 1.3l0.3 1.6l0.3 1.2l0.2 0l0.3 -0.1l0.2 0.1l0.3 1.4l0.3 -1.6l0.2 -1.1l0.3 -1.6l0.3 -0.9l0.2 1.4l0.3 -2.3l0.2 -1.1l0.3 -4.9l0.2 -1.7l0.3 -0.7l0.3 -2.1l0.2 -3.5l0.3 -0.8l0.2 -1.9l0.3 1.4l0.2 -2l0.3 0.9l0.2 0.1l0.3 1.4l0.2 -2l0.2 2.8l0.3 1.5l0.2 -0.1l0.2 0.1l0.3 2.6l0.3 2.9l0.2 1.2l0.3 2l0.2 2.6l0.3 1.2l0.3 -2.5l0.2 -2.8l0.3 -2.4l0.2 -4.2l0.3 -3l0.3 -1.5l0.2 -0.5l0.2 -2.2l0.3 -7.1l0.2 -3.3l0.2 -0.9l0.3 1l0.2 0.4l0.3 -1.6l0.2 -1.4l0.3 -0.8l0.2 4.1l0.3 0.3l0.2 -1.4l0.3 8.1l0.2 8.3l0.3 1.7l0.3 -2l0.2 1.8l0.3 1l0.2 -2.9l0.3 -0.8l0.3 2.1l0.2 -0.2l0.3 -3l0.3 0l0.2 3.8l0.3 3l0.2 0.5l0.3 6.5l0.3 2.8l0.2 -1.1l0.3 1.4l0.2 -3.3l0.3 0.6l0.3 -0.3l0.2 -4.9l0.3 -4.7l0.3 -3.8l0.2 -3.9l0.3 -6.8l0.2 1.3l0.3 -0.2l0.3 1.3l0.2 0l0.3 -0.5l0.2 -2.7l0.3 0.6l0.3 0.4l0.2 2.5l0.3 0.6l0.3 -0.1l0.2 3.9l0.3 5.8l0.3 3.3l0.2 4.5l0.3 3.7l0.3 -2.2l0.2 -3.6l0.3 -1.5l0.2 -0.7l0.3 0.1l0.2 -3.2l0.3 -0.2l0.3 2.6l0.2 6.3l0.3 5.3l0.2 12l0.3 4.9l0.2 2.3l0.2 5.6l0.3 1.9l0.2 3l0.3 5.9l0.2 2.8l0.2 1.9l0.3 -2.5l0.2 -2l0.3 -5.8l0.3 -4.4l0.2 -1.6l0.3 -2.6l0.2 2.6l0.3 1.1l0.2 -0.4l0.3 -0.2l0.3 0l0.2 -1.7l0.3 -7.2l0.2 -5.6l0.3 -1.1l0.3 -0.9l0.2 -3.1l0.3 -1.9l0.2 -3.8l0.3 -4.2l0.3 -1.2l0.2 -1.5l0.3 -2.3l0.3 4.9l0.2 4.3l0.3 4.5l0.2 3.4l0.3 3.8l0.3 5.8l0.2 -2.6l0.3 0.9l0.2 -0.3l0.3 -3.3l0.3 -5.7l0.2 -1.6l0.3 4.7l0.2 8.5l0.2 2.2l0.3 4.6l0.2 8.7l0.2 5.7l0.3 6.3l0.2 6.4l0.3 -1.8l0.2 0.4l0.3 -3l0.2 -1.4l0.3 3.4l0.2 -1.6l0.3 -1l0.3 -2.8l0.2 -3l0.3 -6.8l0.2 -6.5l0.3 -6.8l0.3 -7.4l0.2 -7.2l0.3 -2.5l0.3 -1.5l0.2 -2l0.3 -2.9l0.2 -3.1l0.3 -2.1l0.3 -3.9l0.2 -2.1l0.3 -2.7l0.2 0.9l0.3 -1.6l0.3 -0.8l0.2 3.7l0.3 0.8l0.2 4.7l0.3 2.4l0.2 0.3l0.3 2.7l0.3 0l0.2 5.8l0.2 -3.1l0.3 -5.7l0.2 -5.6l0.3 -4.5l0.2 -4.4l0.2 -2.5l0.3 -1.5l0.2 -0.2l0.3 1.1l0.2 -2l0.3 2.1l0.2 1.2l0.3 -3.5l0.3 -1.3l0.2 -3.8l0.3 -4.5l0.3 -1.3l0.3 -2.1l0.2 4.8l0.3 0.8l0.2 -0.8l0.3 1.6l0.2 2.8l0.3 2.2l0.2 -0.7l0.3 0.3l0.3 -0.3l0.2 1.8l0.3 -0.4l0.2 0.1l0.3 0.3l0.2 6.4l0.3 9.6l0.3 4.2l0.3 5.7l0.2 -1.3l0.3 -2.8l0.2 -2.1l0.3 -4.3l0.3 -4.1l0.2 -6.6l0.3 1.7l0.3 3.1l0.3 -5.5l0.2 3.9" stroke="#ff7f0e"/>
<path d="M83.3 702.4l0.3 -1.7l0.3 0.1l0.2 -1.9l0.3 0l0.3 -1.1l0.2 -0.1l0.3 1.3l0.2 -0.5l0.3 -1.1l0.3 -0.6l0.2 -1.6l0.3 -0.3l0.2 0.4l0.3 0.7l0.3 0.9l0.2 -0.4l0.3 1.7l0.3 1.1l0.2 1.1l0.3 0.1l0.2 1.4l0.3 2.3l0.3 0.3l0.2 2l0.3 1.5l0.3 0.7l0.2 1.5l0.3 0.2l0.2 0.7l0.2 -0.9l0.3 -0.3l0.2 0.4l0.3 0.1l0.2 -0.2l0.2 -1.6l0.3 0.5l0.2 -0.9l0.3 0.1l0.2 1.3l0.3 -0.1l0.2 1.5l0.3 1l0.2 -0.2l0.3 2.6l0.3 2l0.2 1.7l0.3 0.8l0.2 0.4l0.3 -0.2l0.3 -0.5l0.2 -1.6l0.3 -0.4l0.3 -0.2l0.2 0.3l0.3 0.6l0.2 0.7l0.3 1.4l0.3 0l0.2 0.4l0.3 0l0.2 1l0.3 0.5l0.3 1.2l0.2 1.9l0.3 -0.2l0.2 -0.5l0.3 0.1l0.2 -0.9l0.2 -0.1l0.3 -0.6l0.2 -1.1l0.3 -0.3l0.2 -0.9l0.3 0.2l0.2 -0.4l0.3 1.7l0.2 1.3l0.3 0.8l0.2 0l0.3 0.8l0.2 1.7l0.3 0.3l0.2 1.2l0.3 1.9l0.3 0.2l0.2 1.1l0.3 0.9l0.3 1.6l0.2 1.1l0.3 0.6l0.2 1.3l0.3 0.7l0.3 0.3l0.2 0.3l0.3 0.2l0.2 0.5l0.3 0.1l0.3 0.6l0.2 0.5l0.3 0.2l0.3 0.5l0.2 -1.1l0.3 -0.8l0.2 -1.3l0.3 -1.5l0.3 -0.7l0.2 0l0.3 -1.8l0.2 -1l0.3 -1.2l0.3 0.5l0.2 0.3l0.2 0.4l0.3 -1.7l0.2 -0.1l0.3 -0.2l0.2 0l0.2 -0.6l0.3 -0.3l0.2 0.5l0.3 1.1l0.2 -1.3l0.2 -0.5l0.3 0.6l0.3 0.5l0.2 0.4l0.3 -0.1l0.3 0l0.2 1l0.3 0.6l0.2 0.5l0.3 -0.1l0.2 0.5l0.3 -0.1l0.2 0.3l0.3 0l0.2 -0.1l0.3 0l0.2 -0.2l0.2 0.7l0.3 0.7l0.2 -0.5l0.3 0.2l0.2 0.1l0.2 0.8l0.3 0.3l0.2 0.3l0.3 0.4l0.2 0l0.3 0l0.2 -0.1l0.3 -0.1l0.2 0.1l0.3 0.4l0.2 -0.1l0.2 0.6l0.3 0.3l0.2 0l0.3 -0.7l0.2 0.5l0.3 0.4l0.2 0.6l0.3 0.1l0.3 0.8l0.2 1.4l0.3 0l0.2 1.1l0.3 0.6l0.2 0.9l0.2 1.1l0.3 0.3l0.2 1.2l0.3 1.3l0.2 1l0.2 0.6l0.3 -1.2l0.2 -0.6l0.3 -1.3l0.2 0.1l0.3 -0.2l0.3 -0.5l0.2 -0.8l0.3 -1l0.2 -0.5l0.2 -1l0.3 0.2l0.2 -0.8l0.3 -0.6l0.2 -0.1l0.3 0.3l0.2 0.1l0.2 -0.6l0.3 -0.2l0.2 -0.1l0.3 -0.3l0.2 -0.3l0.2 0l0.3 -0.5l0.2 -0.8l0.3 0.2l0.2 -0.7l0.3 0.8l0.2 0.2l0.2 -0.4l0.3 -0.1l0.2 -0.3l0.3 0l0.2 0.4l0.2 -0.4l0.3 -0.8l0.3 0.5l0.2 0.1l0.3 0.3l0.3 0.1l0.2 -0.2l0.3 0.4l0.2 -0.2l0.3 -0.2l0.2 0.4l0.3 -0.2l0.2 0.6l0.3 0.7l0.2 -0.6l0.3 -0.6l0.2 0.4l0.2 0.7l0.3 0.1l0.2 0.3l0.3 -0.6l0.2 1.3l0.2 0.7l0.3 0.5l0.3 0.1l0.2 0.3l0.3 0.2l0.3 -0.3l0.2 0.7l0.3 0.3l0.2 0.2l0.3 -0.5l0.3 -0.5l0.2 -0.1l0.3 0.2l0.2 -0.4l0.3 -1l0.3 -0.8l0.2 -1.1l0.3 0.2l0.3 -0.1l0.2 0.6l0.3 -0.6l0.2 0.4l0.3 0.9l0.3 0.6l0.2 -0.2l0.3 0.5l0.2 0l0.3 -0.1l0.2 0.2l0.3 -0.1l0.2 0.5l0.3 0.7l0.2 1.1l0.3 0.1l0.2 0.6l0.2 -0.3l0.3 -0.2l0.2 -0.8l0.3 0.7l0.2 -0.2l0.2 0.8l0.3 0.7l0.2 0.1l0.3 0.5l0.2 0.1l0.3 0.4l0.2 0.1l0.2 0.4l0.3 -0.3l0.2 0.4l0.3 -0.4l0.2 -0.1l0.2 0.3l0.3 0.2l0.2 0.4l0.3 0.8l0.2 0.7l0.3 0.9l0.2 -0.2l0.2 0.7l0.3 0.9l0.2 0l0.3 0.3l0.2 -0.3l0.2 0.6l0.3 0.6l0.2 0.1l0.3 0.9l0.2 0.5l0.2 0.8l0.3 0.2l0.2 0.3l0.2 0.2l0.3 0.2l0.2 0.8l0.3 -0.1l0.2 -0.3l0.3 -0.4l0.2 -0.8l0.3 -0.7l0.3 -0.3l0.2 -0.3l0.3 -0.1l0.2 -0.5l0.3 0.1l0.2 -0.5l0.3 1l0.3 0l0.2 0.4l0.3 0.4l0.2 0.3l0.3 0.4l0.3 -0.1l0.2 0.7l0.3 -0.8l0.3 0l0.2 -0.1l0.3 0.8l0.2 0.6l0.3 0.2l0.3 0.1l0.2 0.8l0.3 0.6l0.3 0.2l0.2 -0.7l0.2 -0.6l0.3 -0.2l0.2 0.2l0.3 0l0.2 -0.3l0.2 -0.9l0.3 -0.1l0.2 -0.8l0.3 -0.1l0.2 -0.4l0.2 -0.4l0.3 -0.4l0.2 0.2l0.3 -0.2l0.2 -0.2l0.3 -1l0.2 0l0.2 0.5l0.3 0.3l0.2 -0.4l0.3 -0.1l0.2 0.3l0.2 0.1l0.3 -0.5l0.2 -0.1l0.3 0l0.3 0.5l0.2 -0.3l0.3 0.4l0.2 0l0.3 0.3l0.3 0.5l0.2 0.7l0.3 -0.3l0.2 0.2l0.3 -0.3l0.3 -0.4l0.2 0.1l0.3 -0.1l0.3 0.1l0.2 -0.6l0.3 -0.3l0.2 0.2l0.3 1l0.2 0.6l0.3 0.6l0.2 0.2l0.2 -0.1l0.3 0.2l0.2 0.8l0.3 -0.5l0.2 0.3l0.3 0l0.2 0.5l0.2 0.4l0.3 0l0.2 -0.1l0.3 0.3l0.2 -0.1l0.2 -0.5l0.3 -0.4l0.2 -0.7l0.3 -0.1l0.2 -0.3l0.3 0.5l0.2 0.3l0.2 -0.2l0.3 0l0.2 0l0.3 0l0.2 -0.2l0.2 -0.1l0.3 -0.6l0.2 0.4l0.3 -0.3l0.2 -0.8l0.3 -0.1l0.2 0l0.2 0.6l0.3 -0.3l0.2 -0.7l0.3 0.5l0.2 -0.2l0.2 -0.6l0.3 -0.7l0.2 0l0.3 0.2l0.2 -0.4l0.3 -0.3l0.2 -0.1l0.2 0.2l0.3 0l0.2 0l0.3 -0.3l0.2 -0.1l0.2 -0.2l0.3 0l0.2 0.1l0.3 -0.2l0.2 -0.3l0.3 -0.7l0.2 -0.1l0.2 -0.2l0.3 -0.1l0.2 -0.3l0.3 -0.7l0.2 0.1l0.2 -0.1l0.3 0l0.2 -0.1l0.3 -0.1l0.2 0.2l0.3 -0.1l0.2 -0.1l0.2 0.2l0.3 -0.1l0.2 -0.1l0.3 -0.5l0.2 -0.1l0.2 -0.2l0.3 -0.2l0.2 0l0.3 0.1l0.3 0.4l0.2 -0.1l0.3 0.1l0.3 -0.2l0.2 -0.1l0.3 0.2l0.2 -0.1l0.3 -0.2l0.2 0.1l0.3 0l0.2 -0.2l0.3 -0.4l0.2 0.2l0.3 0.2l0.2 -0.1l0.2 0l0.3 -0.5l0.2 -0.2l0.3 0l0.2 -0.3l0.3 -0.2l0.2 -0.2l0.3 -0.1l0.2 -0.1l0.2 -0.2l0.3 0.3l0.2 0.1l0.3 0.3l0.2 0l0.3 -0.1l0.2 -0.4l0.2 0.1l0.3 -0.9l0.2 0l0.3 -0.1l0.2 0.2l0.3 0.2l0.2 -0.1l0.2 -0.2l0.3 -0.4l0.2 -0.2l0.3 -0.2l0.2 0.1l0.3 -0.2l0.2 -0.4l0.3 0l0.2 0.5l0.3 -0.3l0.2 -0.1l0.3 0.4l0.2 0.1l0.3 -0.3l0.2 0l0.3 -0.3l0.2 -0.2l0.3 0.3l0.2 0.5l0.2 -0.6l0.3 0l0.2 0.5l0.3 -0.4l0.2 -0.2l0.2 0.4l0.3 -0.5l0.2 0l0.3 -0.4l0.2 -0.7l0.3 0l0.2 -0.1l0.2 -0.1l0.3 0.2l0.2 0.3l0.3 -0.3l0.2 0.1l0.2 -0.3l0.3 0.3l0.2 -0.6l0.3 -0.8l0.2 -0.8l0.3 0.2l0.2 -0.1l0.2 0.1l0.3 -0.3l0.2 -0.3l0.3 0l0.2 -0.3l0.2 -0.1l0.3 -0.2l0.2 0.4l0.3 0l0.2 -0.3l0.3 0l0.2 0.2l0.2 0.3l0.3 0.3l0.2 0.5l0.3 0.9l0.2 0l0.2 0.3l0.3 -0.5l0.2 0.1l0.3 -0.1l0.2 0l0.3 0.1l0.2 0.3l0.2 0.1l0.3 0.1l0.2 0.1l0.3 -0.1l0.2 -0.6l0.2 0.9l0.3 0.1l0.2 -0.3l0.3 -0.4l0.2 -0.2l0.3 0.1l0.2 0l0.2 -0.2l0.3 -0.1l0.2 -0.4l0.3 -0.3l0.2 0.1l0.3 0.7l0.2 0.3l0.3 -0.1l0.2 0.4l0.3 -0.1l0.2 0.3l0.3 -0.1l0.2 0.2l0.3 0.3l0.2 -0.2l-0.6 -0.1l0.3 0.1l0.2 -0.4l0.3 0.1l0.2 0.4l0.2 0.5l0.3 -0.3l0.2 -0.1l0.3 -0.6l0.2 -0.4l0.3 -0.2l0.2 0.2l0.3 0.1l0.2 0l0.3 0l0.2 -0.4l0.2 -0.5l0.3 -0.4l0.2 0.7l0.3 0.8l0.2 0l0.3 -0.3l0.2 0l0.2 -0.1l0.3 0.4l0.2 0.3l0.3 0.6l0.2 0.5l0.2 0.5l0.3 0.1l0.2 0.2l0.3 0l0.2 -0.2l0.3 0.1l0.2 0.7l0.2 -0.3l0.3 0.2l0.2 0.4l0.3 0.2l0.2 0.3l0.3 0.8l0.2 -0.1l0.3 0l0.2 -0.6l0.3 -0.2l0.2 -0.1l0.3 -0.1l0.3 0l0.2 -0.1l0.3 -0.4l0.2 -0.1l0.3 -0.7l0.3 0.2l0.2 -0.1l0.3 -0.4l0.2 -0.1l0.3 -0.1l0.2 -0.3l0.2 -0.2l0.3 0l0.2 -0.3l0.3 0l0.2 0.2l0.3 0.2l0.2 0.4l0.3 0l0.2 -0.1l0.3 -0.4l0.2 0l0.2 0.7l0.3 0.3l0.3 -0.2l0.2 0.1l0.3 -0.8l0.2 -0.5l0.3 -0.5l0.3 -0.1l0.2 -0.1l0.3 -0.6l0.2 -0.4l0.3 0.1l0.2 -0.3l0.3 -0.4l0.2 -0.3l0.3 0.2l0.2 -0.4l0.3 0l0.2 0l0.3 0.1l0.2 0.5l0.3 -0.4l0.2 -0.2l0.3 0.1l0.2 -0.2l0.3 -0.3l0.2 0.1l0.3 0l0.2 -0.4l0.3 -0.1l0.2 0.1l0.2 0.4l0.3 -0.5l0.2 0.4l0.3 0.4l0.2 -0.2l0.3 -0.6l0.2 0.3l0.3 -0.4l0.2 -0.1l0.3 0.6l0.2 0.1l0.2 0.1l0.3 0.5l0.2 0.2l0.3 0.6l0.2 0.2l0.3 0.1l0.2 -0.2l0.3 0.3l0.2 -0.1l0.2 0l0.3 -0.3l0.2 0.2l0.3 -0.2l0.2 -0.1l0.2 -0.6l0.3 0l0.2 -0.1l0.3 0.2l0.2 -0.1l0.3 -0.1l0.2 0.2l0.3 -0.1l0.2 -0.2l0.3 0.2l0.2 -0.2l0.3 0.6l0.2 0.2l0.3 0.6l0.2 0.6l0.2 0l0.3 0.2l0.2 0.2l0.3 -0.3l0.2 0.1l0.3 0.3l0.2 0.3l0.3 0l0.2 -0.4l0.3 -0.4l0.2 -0.2l0.3 0.3l0.2 -0.7l0.3 0.3l0.2 -0.5l0.2 0.5l0.3 -0.4l0.2 -0.3l0.3 -0.2l0.2 0.2l0.3 0l0.2 -1.1l0.3 0.2l0.2 -0.4l0.2 0l0.3 -0.2l0.2 -0.5l0.3 -0.4l0.2 -0.2l0.3 0.1l0.2 0l0.2 0.2l0.3 -0.2l0.2 -0.1l0.3 0.4l0.2 0.5l0.2 0.1l0.3 -0.2l0.2 0l0.3 0.2l0.2 0.1l0.3 0.4l0.2 -0.4l0.3 -0.4l0.2 0.3l0.3 0.2l0.2 0.2l0.2 -0.9l0.3 -0.6l0.2 -1.2l0.3 0l0.2 -0.2l0.3 0.1l0.2 -0.1l0.3 0.5l0.2 -0.4l0.2 0.2l0.3 0.1l0.2 0.1l0.3 0.1l0.2 -0.1l0.2 -0.2l0.3 0.2l0.2 0.3l0.3 0l0.2 0.2l0.3 0.2l0.3 -0.5l0.2 0l0.3 0.1l0.2 -0.2l0.3 -0.1l0.3 0l0.2 0l0.3 0.2l0.2 -0.2l0.2 -0.1l0.3 0.6l0.2 -0.3l0.3 0.1l0.2 -0.1l0.3 0.3l0.2 0.6l0.2 0.5l0.3 0l0.2 0l0.3 0.3l0.2 -0.1l0.3 0.3l0.2 -0.9l0.2 0.3l0.3 0.1l0.2 -0.2l0.3 -0.4l0.2 -0.4l0.3 -0.3l0.2 -0.2l0.3 -0.1l0.2 -0.5l0.3 -0.2l0.2 0.1l0.2 -0.9l0.3 -0.5l0.2 -0.2l0.3 -0.2l0.2 -0.1l0.3 -0.4l0.2 0l0.3 0.4l0.2 0l0.3 0.1l0.2 0.2l0.3 0.2l0.2 0.2l0.3 -0.3l0.2 0.4l0.3 -0.2l0.2 0.4l0.3 -0.8l0.2 -0.1l0.3 -0.4l0.2 0.3l0.3 -0.6l0.2 0.5l0.3 -0.2l0.2 0.7l0.3 0.1l0.2 0l0.3 0.1l0.2 0.2l0.3 0l0.2 -0.2l0.3 0.2l0.2 0l0.3 -0.7l0.2 0.3l0.3 -0.4l0.2 -0.2l0.3 0.1l0.2 -0.5l0.3 -0.1l0.2 -0.5l0.3 0l0.2 -0.4l0.3 -0.4l0.2 0.9l0.3 0l0.2 -0.6l0.3 -0.1l0.2 -0.2l0.3 0l0.2 -0.2l0.3 0.3l0.2 0.3l0.3 -0.5l0.2 0.3l0.3 0.4l0.2 -0.4l0.3 -0.1l0.2 -0.2l0.3 0.5l0.2 0.6l0.3 -0.2l0.2 -0.1l0.3 -0.3l0.2 -0.4l0.3 -0.2l0.2 0.1l0.3 0.2l0.2 0.1l0.3 -0.2l0.2 0.5l0.3 0.2l0.2 0l0.2 0.2l0.3 0.2l0.2 0.4l0.3 0.4l0.2 -0.1l0.3 0.3l0.2 -0.1l0.3 0.2l0.2 0.8l0.3 0.5l0.2 -0.2l0.2 0.6l0.3 0.5l0.2 0.4l0.3 0.2l0.2 0.1l0.3 0l0.2 -0.2l0.3 0.5l0.2 -0.3l0.3 -0.3l0.2 0.1l0.3 0.6l0.2 0.5l0.3 -0.1l0.2 -0.1l0.3 0.3l0.2 0.5l0.3 -0.5l0.2 0l0.3 -0.3l0.2 -0.4l0.3 -0.5l0.2 -0.1l0.3 0.4l0.2 0.1l0.3 0.2l0.2 -0.4l0.3 0l0.2 0.1l0.3 -0.8l0.2 -0.4l0.3 0.2l0.2 -0.9l0.3 -0.4l0.2 0.1l0.3 -0.9l0.2 -0.5l0.3 -0.2l0.2 0.4l0.3 -0.6l0.2 0.1l0.3 -0.1l0.2 0.2l0.3 0.3l0.2 0.1l0.3 -0.1l0.2 -0.7l0.3 -0.4l0.2 -0.4l0.3 -0.2l0.2 0.4l0.3 -0.8l0.3 -0.2l0.2 -0.6l0.3 -0.9l0.2 0.6l0.3 -0.2l0.2 0.6l0.3 0.2l0.2 -0.2l0.3 -0.8l0.2 0.6l0.3 0.1l0.2 -0.6l0.3 0l0.2 0.2l0.3 -0.3l0.2 -0.3l0.3 0l0.2 0.1l0.3 0.2l0.2 -0.4l0.3 -0.2l0.2 0.5l0.3 0.1l0.2 0.5l0.3 -0.3l0.2 -0.1l0.3 -0.2l0.2 0.3l0.3 -0.5l0.2 0.1l0.3 -0.3l0.2 0l0.3 0.3l0.2 -0.8l0.3 -0.4l0.2 -0.6l0.3 0.4l0.2 -0.4l0.3 -0.7l0.2 -0.6l0.3 0.5l0.3 0.6l0.2 0l0.2 -0.5l0.3 -0.3l0.2 0.3l0.3 -0.4l0.2 0l0.3 -0.4l0.2 -0.3l0.3 0.4l0.2 0.2l0.3 -0.1l0.2 0.2l0.2 0.1l0.3 0.7l0.2 -0.3l0.3 -0.4l0.2 0l0.3 0.6l0.3 0.3l0.2 -0.1l0.3 0.3l0.2 0.1l0.3 0.6l0.3 0.8l0.2 0.1l0.3 -0.5l0.2 -0.4l0.3 -0.7l0.2 -0.1l0.3 0.1l0.2 -0.3l0.3 -0.6l0.2 -0.4l0.3 0.5l0.2 -0.6l0.3 0.5l0.2 -0.1l0.3 -0.2l0.2 -0.5l0.3 -0.1l0.2 -0.5l0.2 -0.3l0.3 -0.1l0.2 -0.5l0.3 -0.1l0.2 -0.2l0.3 -0.6l0.2 0l0.3 -0.1l0.2 -0.7l0.3 -0.1l0.2 0.1l0.3 -0.4l0.2 -0.8l0.3 0.2l0.2 0.3l0.3 0.4l0.2 0.3l0.3 -0.6l0.2 0.2l0.3 -0.5l0.2 1.1l0.3 -0.5l0.2 0.3l0.2 -0.4l0.3 -0.3l0.2 -0.1l0.3 0.1l0.2 -0.1l0.3 0.2l0.2 -0.8l0.3 0l0.2 -0.7l0.3 0l0.2 0.9l0.2 -0.2l0.3 0.1l0.2 -1.1l0.3 1.5l0.2 0.6l0.3 1.1l0.3 -0.3l0.2 0.3l0.3 -0.5l0.2 0.6l0.3 -0.1l0.3 0.7l0.2 1.3l0.3 0.1l0.2 -0.8l0.3 -0.3l0.2 0.8l0.2 -0.9l0.3 0.2l0.2 -1.6l0.3 -0.7l0.2 -0.3l0.2 -0.4l0.3 1.2l0.2 1.8l0.3 -1.7l0.2 -0.8l0.3 -0.4l0.2 0.7l0.3 0.8l0.2 0.5l0.2 -1.1l0.3 -0.5l0.2 -1.9l0.3 -0.8l0.2 -0.5l0.3 0.6l0.2 -1l0.3 0l0.2 0.9l0.3 -0.5l0.2 0.1l0.2 0l0.3 0.6l0.2 0.1l0.3 0l0.2 -0.4l0.2 -0.9l0.3 0.1l0.2 -0.1l0.3 0.9l0.2 0.6l0.3 0.2l0.2 1.1l0.2 0.6l0.3 0.4l0.2 0.1l0.3 0.5l0.2 0.4l0.2 0l0.3 -0.7l0.2 -0.9l0.3 0.2l0.2 -0.2l0.3 0.4l0.2 -0.2l0.2 -1.6l0.3 0.6l0.2 0.9l0.3 0.5l0.2 0.7l0.2 0.6l0.3 0.5l0.2 0.4l0.3 -0.3l0.2 0.1l0.3 0.6l0.2 -0.6l0.2 1.4l0.3 0.4l0.2 0.8l0.3 0.4l0.2 0.6l0.3 -0.2l0.2 1.2l0.2 0l0.3 -0.6l0.2 0.3l0.3 0.1l0.2 -0.3l0.3 -0.8l0.2 0.7l0.3 0.1l0.2 1.7l0.3 -0.3l0.2 0l0.2 -0.5l0.3 -0.6l0.3 0.1l0.2 0.7l0.3 -0.2l0.3 -0.2l0.2 -0.6l0.3 0.6l0.2 -0.1l0.3 1l0.2 0l0.3 0.2l0.2 -0.4l0.3 -0.9l0.2 0.2l0.3 0.3l0.2 -1.2l0.3 -0.1l0.2 -0.4l0.3 -0.7l0.2 -0.3l0.3 -1.1l0.2 0l0.3 0.2l0.2 -0.7l0.3 0.4l0.2 0.5l0.3 0.2l0.2 -0.5l0.3 -0.5l0.2 0.9l0.2 0.2l0.3 0.3l0.2 -1.1l0.3 0.5l0.2 -0.1l0.3 0.3l0.2 -0.8l0.3 -0.7l0.2 -0.9l0.3 -0.8l0.2 0.2l0.2 0.8l0.3 1.1l0.2 0.3l0.3 -0.1l0.2 -0.2l0.3 0.6l0.2 0.7l0.2 -0.5l0.3 0.4l0.2 -0.2l0.3 0.8l0.2 1.2l0.2 -1l0.3 -1l0.3 0.9l0.2 0.5l0.3 -1l0.3 1l0.2 1l0.3 0.8l0.2 -0.6l0.3 1.6l0.2 -0.7l0.3 0.3l0.2 0.5l0.3 0.1l0.2 0.3l0.3 -1.2l0.2 0.4l0.3 0.1l0.2 -0.1l0.3 0.4l0.2 -1.1l0.2 -0.2l0.3 0.4l0.2 -0.3l0.3 0l0.2 -1.3l0.3 -0.7l0.2 -0.2l0.2 -0.4l0.3 0.5l0.2 2.7l0.3 0.7l0.2 -0.2l0.3 0.4l0.2 1.2l0.2 0.7l0.3 -0.6l0.2 1l0.3 -0.4l0.2 5.9l0.3 -1.4l0.2 0.1l0.3 5.4l0.3 -0.1l0.2 4.2l0.3 0.6l0.3 0.8l0.2 0l0.3 0.5l0.2 0.1l0.3 0.4l0.3 1.9l0.2 0l0.3 0l0.3 0l0.2 -2.5l0.3 -1l0.2 0.1l0.2 2l0.3 -0.9l0.2 -2.4l0.3 0.6l0.2 2.5l0.2 4.2l0.3 1l0.2 0.3l0.3 -0.6l0.2 0.2l0.3 -1.2l0.2 -0.4l0.3 -2.5l0.3 -2.8l0.2 1.1l0.3 1.4l0.2 -0.2l0.3 0l0.2 0.4l0.3 -1.2l0.3 1.2l0.2 -2l0.3 1.8l0.3 -1.4l0.2 -0.8l0.3 0l0.2 1.2l0.3 -0.1l0.3 1.1l0.2 0.9l0.3 -0.8l0.2 1.5l0.3 -0.2l0.3 -0.8l0.2 0.6l0.3 0.1l0.3 -0.8l0.2 0.3l0.3 0.2l0.2 -0.4l0.3 -1l0.3 0.2l0.2 -0.2l0.3 0.1l0.2 1.1l0.3 1.9l0.2 1.6l0.3 1.8l0.3 1.2l0.2 -0.5l0.2 -1.4l0.3 -1.9l0.2 0.6l0.3 -0.6l0.2 -0.4l0.3 0l0.2 -0.3l0.2 0.1l0.3 -1l0.2 -1l0.3 -1.1l0.2 -0.2l0.3 1.1l0.2 0.7l0.3 -0.7l0.2 -0.6l0.2 -1.3l0.3 -0.1l0.2 -0.2l0.3 -0.4l0.2 0.3l0.3 0l0.2 0.7l0.3 -1.2l0.2 -1l0.3 -2l0.2 1l0.2 0.8l0.3 -0.5l0.2 0.5l0.3 -1l0.2 0l0.2 0.1l0.3 -0.9l0.2 0.1l0.3 -0.6l0.2 0.2l0.3 -1.3l0.2 -0.4l0.2 0.3l0.3 -1.4l0.2 -0.5l0.3 0l0.2 0.4l0.2 1.5l0.3 0.4l0.2 -0.3l0.3 0.5l0.2 0.9l0.3 0.5l0.2 0.2l0.2 0.5l0.3 -0.8l0.2 -0.3l0.3 -1.5l0.2 0.7l0.2 -0.3l0.3 -1.1l0.2 -0.7l0.3 -0.7l0.2 -0.1l0.3 -0.1l0.2 -0.4l0.2 0l0.3 0l0.2 -0.2l0.3 -0.2l0.2 0.6l0.3 -0.1l0.2 -0.1l0.3 -1.1l0.2 0.2l0.3 0.2l0.2 0.6l0.3 -1.5l0.2 -0.5l0.3 0.4l0.2 -0.1l0.3 -0.4l0.2 0.3l0.3 0.7l0.2 0l0.3 -0.1l0.2 -0.4l0.3 -0.2l0.2 0.1l0.3 -0.6l0.2 -1l0.3 0.6l0.2 -0.4l0.3 -0.2l0.2 -0.3l0.2 -0.3l0.3 -0.2l0.2 0.5l0.3 -0.7l0.2 -0.6l0.3 0.3l0.2 0.6l0.3 0.2l0.2 0.5l0.3 -0.8l0.2 0l0.2 0l0.3 -0.7l0.2 0.6l0.3 0.2l0.3 -0.2l0.2 -0.2l0.3 -0.2l0.2 -0.5l0.3 0.3l0.2 -0.2l0.3 -1l0.2 -0.8l0.3 -0.3l0.2 -1.2l0.3 0.7l0.2 0.3l0.3 -0.4l0.2 0l0.3 0.1l0.2 -0.7l0.3 1.1l0.2 0.3l0.3 -0.6l0.2 0.6l0.3 -0.1l0.3 -0.5l0.2 -0.4l0.3 -0.2l0.2 0.1l0.2 0.5l0.3 0.8l0.2 0.1l0.3 -0.2l0.2 -0.2l0.3 0.3l0.2 0.6l0.2 1.1l0.3 -0.8l0.2 0l0.3 0.4l0.2 0.1l0.2 0.4l0.3 -0.3l0.2 -0.4l0.3 -0.5l0.2 -0.1l0.3 0.4l0.2 0.6l0.3 -0.3l0.2 -0.6l0.3 -0.5l0.2 -0.7l0.2 0.2l0.3 -0.6l0.2 0.1l0.3 -0.9l0.2 -0.4l0.3 0.1l0.2 0.1l0.3 0.9l0.2 -0.5l0.3 0.3l0.2 -1.3l0.3 -0.7l0.2 -0.6l0.3 -0.3l0.2 0.1l0.3 0.1l0.2 -1.2l0.3 -0.2l0.2 -0.8l0.3 0.7l0.2 0.2l0.3 -0.2l0.2 -0.2l0.3 0.5l0.2 0.2l0.3 -0.1l0.2 0.8l0.3 0.7l0.2 0.6l0.3 0.7l0.3 1l0.2 0l0.2 1.8l0.3 0l0.2 0l0.3 0.2l0.2 0.5l0.2 0.2l0.3 -0.9l0.2 -0.4l0.3 -0.2l0.2 -0.1l0.3 0.1l0.2 1.2l0.3 0.2l0.2 -0.5l0.3 0.7l0.2 0.7l0.3 0.6l0.3 0.4l0.2 -0.5l0.3 0.3l0.3 0.7l0.2 -0.7l0.2 0.5l0.3 0.3l0.2 -0.7l0.3 -1.2l0.2 -0.4l0.2 -0.8l0.3 -0.3l0.2 -1.1l0.3 0.7l0.2 1.2l0.2 -0.3l0.3 -1.4l0.3 -0.3l0.2 0.2l0.3 0.9l0.2 0.4l0.3 0.4l0.3 -1l0.2 0.4l0.3 0.6l0.2 0.4l0.3 -0.2l0.2 0l0.3 -0.3l0.2 -0.6l0.3 -0.1l0.2 -1l0.3 0.5l0.2 -0.5l0.3 -0.2l0.2 -0.5l0.2 0l0.3 0l0.2 0l0.3 -0.2l0.2 -1.4l0.3 -0.6l0.2 -0.7l0.3 -1.1l0.2 -0.3l0.3 -1.1l0.2 -0.1l0.2 -0.4l0.3 -0.6l0.2 1.5l0.3 0l0.2 -0.2l0.3 0l0.2 -0.3l0.3 -0.4l0.2 0.4l0.3 0.5l0.2 -2l0.2 0l0.3 -0.2l0.2 -0.6l0.3 0.6l0.2 -0.4l0.3 0.3l0.2 -0.3l0.3 -0.5l0.2 0.8l0.3 -0.3l0.2 -0.1l0.2 -0.5l0.3 -0.6l0.2 0.6l0.3 -0.4l0.2 -0.7l0.3 -0.9l0.2 -1.1l0.3 0.7l0.2 -0.3l0.3 -0.5l0.2 -0.1l0.3 -0.3l0.2 0l0.3 0.1l0.2 0.5l0.3 -0.3l0.3 0.2l0.2 -0.6l0.3 -0.3l0.2 -0.8l0.3 -0.6l0.2 0.1l0.3 -0.1l0.2 -0.9l0.3 -0.3l0.2 -0.3l0.3 -0.6l0.2 0l0.3 0.5l0.2 0l0.3 0.2l0.2 0.6l0.3 -0.4l0.2 -0.4l0.3 0.1l0.2 0.7l0.3 0.7l0.2 -0.6l0.2 1.4l0.3 0.4l0.2 2.1l0.3 0l0.2 0l0.2 -0.6l0.3 -0.3l0.2 -0.4l0.3 -0.8l0.2 -0.6l0.3 -0.4l0.2 -0.6l0.2 -0.4l0.3 -0.3l0.2 -0.2l0.3 -0.3l0.2 0.1l0.3 0.4l0.2 -1.7l0.3 0l0.2 -0.6l0.2 -0.7l0.3 0.1l0.2 -0.2l0.3 0.4l0.2 1.1l0.3 0.1l0.2 0.4l0.2 -0.3l0.3 0l0.2 0.8l0.3 -0.5l0.2 0.7l0.3 0l0.2 0.4l0.2 0.8l0.3 0.8l0.2 -0.1l0.3 -0.7l0.2 -0.2l0.3 -0.2l0.2 0.7l0.2 -0.6l0.3 -0.3l0.2 0.4l0.3 0.3l0.2 1.2l0.3 1.8l0.2 -0.6l0.3 0l0.2 -1.4l0.3 -0.5l0.2 -0.5l0.3 -1l0.3 -1.5l0.2 1l0.3 -1.2l0.2 -0.1l0.3 0.3l0.3 0.4l0.2 0.2l0.3 0.9l0.2 1l0.3 -0.3l0.3 -1.4l0.2 3.4l0.2 1.2l0.3 1.5l0.2 0.9l0.2 0.2l0.3 1.2l0.2 1.1l0.2 2.8l0.3 0.7l0.3 -1.7l0.2 -0.2l0.3 -0.8l0.2 -0.2l0.3 -0.7l0.2 -1.5l0.3 2.2l0.3 -0.1l0.2 0.2l0.3 -2.3l0.2 1.5l0.3 1.3l0.3 1.7l0.2 0.2l0.3 -2l0.2 0.4l0.3 -2.1l0.2 -1.3l0.3 -0.4l0.2 1.1l0.2 -1.2l0.3 0.3l0.2 -0.7l0.3 -0.5l0.2 -0.8l0.3 -1.1l0.2 -1l0.2 -0.6l0.3 0.4l0.2 1.9l0.3 2.1l0.3 -1l0.2 0.3l0.3 0.8l0.2 1.8l0.3 -1l0.2 -1.7l0.3 -1.1l0.3 0.1l0.2 3.3l0.2 -0.4l0.3 -2.1l0.2 -0.5l0.3 -0.3l0.2 -0.7l0.3 -0.2l0.2 -0.8l0.2 -0.1l0.3 0.3l0.2 0.7l0.3 1l0.2 -1.2l0.3 0.6l0.2 -0.4l0.2 -0.6l0.3 1.4l0.2 -0.3l0.3 -0.6l0.2 -0.1l0.3 0l0.2 -0.1l0.2 0l0.3 -0.2l0.2 -0.9l0.3 -0.8l0.2 0.8l0.3 -0.6l0.2 0.2l0.3 -1.1l0.2 -1.7l0.3 -1.2l0.2 -0.1l0.3 -0.5l0.2 -0.2l0.3 -0.1l0.2 -0.2l-0.6 -0.5l0.3 0.2l0.2 0.1l0.3 0.3l0.2 0l0.3 0.1l0.2 0l0.3 -0.7l0.2 0.7l0.3 -0.6l0.2 -0.1l0.2 0.3l0.3 -1.1l0.2 0.3l0.3 0l0.2 -0.4l0.3 -0.4l0.2 -1.2l0.3 -0.5l0.2 -0.1l0.3 0.5l0.2 0.2l0.3 -1l0.2 0.6l0.3 0.5l0.2 0.6l0.2 0.4l0.3 -0.4l0.2 0l0.3 -0.3l0.2 0.9l0.3 -0.3l0.2 -0.7l0.3 -0.1l0.2 0.4l0.3 -0.5l0.2 0.3l0.2 -0.4l0.3 1.2l0.2 0.5l0.3 0.5l0.2 1l0.3 0.6l0.2 0.5l0.2 1.1l0.3 0.4l0.2 0.5l0.3 0.1l0.2 0.1l0.3 -0.1l0.3 -1l0.2 0.1l0.3 -0.5l0.2 0.2l0.3 -0.1l0.2 0.1l0.3 -0.3l0.3 -1.1l0.2 0.1l0.3 -0.2l0.2 -0.5l0.3 -0.2l0.2 0.8l0.3 -0.3l0.2 0.6l0.3 0.2l0.2 -1l0.3 -0.7l0.2 0.1l0.3 0.1l0.2 0l0.3 -0.6l0.2 -0.9l0.3 -0.3l0.2 -0.6l0.3 -0.1l0.2 0.8l0.3 -0.3l0.2 -0.7l0.2 0l0.3 1l0.2 0.2l0.3 0l0.2 -0.8l0.3 -0.7l0.2 -0.1l0.3 0.1l0.2 -0.8l0.3 -1.2l0.2 -0.1l0.2 -1.1l0.3 -0.6l0.2 -0.1l0.3 0.4l0.2 0l0.3 0.6l0.2 0.9l0.3 0.6l0.2 0l0.2 1.1l0.3 1l0.2 0l0.3 -0.3l0.2 0.2l0.2 -0.6l0.3 0.1l0.2 -1.2l0.3 0.1l0.2 0.5l0.3 0.4l0.2 0.2l0.2 0.6l0.3 0.1l0.2 -0.1l0.3 -0.1l0.2 0.3l0.2 0.1l0.3 0.7l0.2 1.1l0.3 0.2l0.2 -0.3l0.3 0.2l0.2 0.3l0.2 -0.2l0.3 -0.5l0.2 0l0.3 0.1l0.2 -1.7l0.3 0.1l0.2 0.1l0.3 -0.3l0.2 -0.8l0.3 -0.2l0.2 -0.2l0.2 -1.1l0.3 0l0.2 -0.8l0.3 0.2l0.2 0.5l0.3 -0.1l0.2 0.1l0.3 0.4l0.2 0.4l0.3 0l0.2 -0.3l0.2 -1.3l0.3 -0.2l0.2 -0.4l0.3 -0.5l0.2 0.1l0.3 -0.7l0.2 -0.9l0.3 0.1l0.2 -0.7l0.3 -0.6l0.2 0.3l0.2 -0.6l0.3 -0.9l0.2 -0.1l0.3 0.7l0.2 0.2l0.3 -0.4l0.2 0l0.3 0.8l0.2 -0.1l0.3 -0.8l0.2 -0.1l0.3 0.8l0.2 -0.7l0.3 0.3l0.2 -0.6l0.3 -0.6l0.2 -0.4l0.3 0.5l0.2 0.6l0.3 -0.7l0.2 -0.3l0.2 -0.4l0.3 -1l0.2 0.6l0.3 1l0.2 0.3l0.3 -0.7l0.2 -0.1l0.3 0.2l0.2 -0.2l0.3 -0.5l0.2 -0.7l0.2 -0.2l0.3 0.9l0.2 -1l0.3 -0.9l0.2 0.3l0.3 -0.5l0.2 -1.5l0.2 -1.1l0.3 -0.5l0.2 -0.4l0.3 -0.1l0.2 0.1l0.3 0.3l0.2 0.2l0.3 -0.4l0.2 1.4l0.3 0.9l0.3 0.1l0.2 0l0.3 1.4l0.2 0.9l0.3 -0.4l0.2 -0.5l0.3 -0.3l0.3 0.8l0.2 0.3l0.3 -0.4l0.2 -0.2l0.3 -0.3l0.2 0l0.2 -1l0.3 -1l0.2 -0.6l0.3 -0.6l0.2 -1.2l0.3 0l0.2 -0.6l0.3 0l0.2 0.4l0.3 -0.6l0.2 -0.5l0.2 -1.2l0.3 -0.2l0.2 0.4l0.3 0.1l0.2 -0.3l0.3 1l0.2 0.3l0.2 0.1l0.3 -1.3l0.2 0.2l0.3 0.7l0.2 0.9l0.2 1.1l0.3 0.1l0.2 -0.4l0.3 0l0.2 -1.4l0.3 0.1l0.2 0.1l0.2 -0.4l0.3 -0.7l0.2 -0.5l0.3 -0.3l0.2 1l0.2 -0.5l0.3 0.6l0.2 -1.5l0.3 -0.5l0.2 -0.8l0.3 -0.3l0.2 -0.4l0.3 -0.4l0.2 -0.4l0.3 0.8l0.2 -0.5l0.3 -0.6l0.2 -0.1l0.3 -0.4l0.2 -0.7l0.3 -0.8l0.2 -0.9l0.2 -0.1l0.3 0.2l0.2 0l0.3 -0.4l0.2 0l0.3 -0.3l0.2 0.3l0.3 0.8l0.2 0.4l0.3 0.3l0.2 -0.5l0.3 0l0.2 -0.9l0.2 0.6l0.3 -0.7l0.2 -0.6l0.3 -0.4l0.2 -0.5l0.3 -0.9l0.2 -1l0.3 0.3l0.2 0.1l0.3 -0.2l0.2 -0.9l0.3 -1l0.3 0.1l0.2 0.2l0.3 0.6l0.3 -0.5l0.2 0.8l0.3 -0.1l0.2 -0.2l0.2 -0.1l0.3 0.6l0.2 -0.2l0.3 0.6l0.2 -0.8l0.3 -0.8l0.2 0.4l0.2 1.2l0.3 0.8l0.2 0.7l0.3 0.3l0.2 -0.4l0.2 -0.5l0.3 -0.7l0.2 -0.9l0.3 0.5l0.2 -1.1l0.3 -0.9l0.2 -0.3l0.2 -0.7l0.3 0.6l0.2 -2l0.3 0.1l0.2 0.8l0.2 0.3l0.3 0.8l0.2 1.5l0.3 0.6l0.2 0.4l0.3 0.5l0.2 0l0.3 -0.2l0.2 -0.6l0.3 0.4l0.2 -0.4l0.2 0.7l0.3 0.3l0.2 -0.2l0.3 0.3l0.2 0.3l0.3 0l0.2 1.2l0.3 -0.4l0.2 -0.1l0.3 -1.7l0.2 0.1l0.2 -1.2l0.3 -0.7l0.2 0.9l0.3 1.1l0.2 -0.7l0.3 -0.8l0.2 0.6l0.3 -0.5l0.2 -0.4l0.3 -1.3l0.2 -1.5l0.2 0.7l0.3 1.1l0.2 -1.1l0.3 -0.6l0.2 -0.5l0.3 0.4l0.2 -1.7l0.3 0.3l0.2 0.6l0.2 -0.4l0.3 0.1l0.2 -1.2l0.3 -1.3l0.2 -0.7l0.3 0.6l0.2 -0.1l0.3 -0.3l0.2 -0.3l0.3 -0.7l0.2 -0.1l0.2 -0.1l0.3 0l0.2 1.7l0.3 -0.6l0.2 0l0.3 0.5l0.2 0.2l0.3 0.8l0.2 0.1l0.3 0.9l0.2 0l0.2 -0.6l0.3 -0.1l0.2 -0.7l0.3 -1.1l0.2 -0.1l0.3 -0.8l0.2 -0.4l0.3 0.2l0.2 -0.7l0.3 -0.3l0.2 -0.1l0.2 0.2l0.3 -1.3l0.2 0.7l0.3 0.6l0.2 -0.2l0.3 0.7l0.2 0.2l0.3 0l0.2 1.1l0.2 -0.3l0.3 0.8l0.2 0l0.3 0.5l0.2 -0.3l0.3 -0.6l0.2 -0.5l0.3 0.7l0.2 2.6l0.3 0l0.2 0.3l0.3 0.5l0.3 1.4l0.2 -0.3l0.3 -1.3l0.2 -1l0.3 -0.8l0.3 -0.5l0.2 -0.2l0.3 -1.5l0.2 -1.6l0.3 -1.1l0.2 0l0.3 -1.2l0.2 0.6l0.3 -0.6l0.2 0.4l0.3 -0.4l0.2 -0.8l0.2 0.1l0.3 -0.2l0.2 0.4l0.3 0.1l0.2 -1l0.2 0.1l0.3 0.3l0.2 -2.1l0.3 -0.9l0.3 0.3l0.2 1.7l0.3 0.2l0.2 -1.3l0.3 0.7l0.3 0.5l0.2 -0.2l0.3 2.1l0.2 0.4l0.3 -0.1l0.2 0.4l0.3 0.6l0.2 0.1l0.2 -1l0.3 0l0.2 -0.2l0.3 0.2l0.2 -1.3l0.2 0l0.3 -0.1l0.2 0.3l0.3 -0.4l0.2 -0.5l0.3 -1.7l0.2 0.2l0.3 -0.3l0.3 -1.8l0.2 -0.8l0.3 -1l0.2 -0.1l0.3 0.7l0.2 0.3l0.3 0.7l0.2 0l0.2 -0.9l0.3 -0.1l0.2 -1.3l0.3 1.7l0.2 0.1l0.3 -0.5l0.2 -0.1l0.3 -0.6l0.2 -0.7l0.3 -0.8l0.2 0.3l0.3 0.2l0.2 -0.5l0.3 1l0.2 -1l0.3 0.6l0.2 -0.1l0.3 -0.9l0.2 0.3l0.3 0l0.2 0.2l0.2 -0.4l0.3 -0.3l0.2 -0.1l0.3 0.1l0.2 -0.4l0.3 0.8l0.2 -1.4l0.3 -0.2l0.2 0.2l0.3 -0.7l0.2 -0.5l0.3 -0.3l0.2 1.1l0.3 0.1l0.2 -1l0.3 0.5l0.2 0.7l0.3 0.7l0.2 -0.4l0.3 -0.8l0.2 1.1l0.3 0.6l0.2 0.6l0.2 -0.8l0.3 0.2l0.2 0l0.3 1.5l0.3 -1.1l0.2 0l0.3 -0.9l0.2 0.6l0.3 -0.8l0.2 0.6l0.3 -0.8l0.3 -1.2l0.2 0.2l0.3 -0.7l0.2 -0.3l0.3 1.1l0.2 0.7l0.2 0.4l0.3 2.2l0.2 0.4l0.3 0.1l0.2 -1l0.3 -0.6l0.2 0.3l0.2 -0.2l0.3 -0.1l0.3 1.9l0.2 2.2l0.3 2.1l0.2 0.6l0.3 0.4l0.3 -1.1l0.2 1.3l0.2 0.6l0.3 -1.8l0.2 -2l0.3 0l0.2 0l0.2 0.1l0.3 -0.1l0.2 0.1l0.3 1.9l0.2 0.8l0.3 0.2l0.2 -1.8l0.3 -0.5l0.2 -2.2l0.3 0.8l0.3 2.2l0.2 1.2l0.3 -0.7l0.2 -2.7l0.3 -2.6l0.2 0.1l0.3 0.9l0.2 2.1l0.3 0l0.2 -0.2l0.3 -2.4l0.2 1.8l0.2 -0.4l0.3 1.2l0.2 -1.4l0.3 -3.5l0.2 -1.2l0.2 0.6l0.3 2l0.2 -1.7l0.3 0.3l0.2 -1.8l0.3 0.7l0.2 -2.6l0.2 0l0.3 0l0.2 0l0.3 5.5l0.2 -1.6l0.2 0l0.3 1.6l0.2 2.6l0.3 -0.1l0.2 3.7l0.2 -0.6l0.3 1.3l0.2 -2.2l0.2 -2.5l0.3 3.5l0.2 1.4l0.3 1.2l0.3 -0.6l0.2 0l0.3 3.2l0.2 0.4l0.3 1.2l0.2 -2.9l0.2 0.2l0.3 1.5l0.2 -2.7l0.3 0.8l0.2 3.3l0.3 -1.8l0.2 1.4l0.2 0.9l0.3 0.3l0.3 -1l0.2 -1.9l0.3 -2l0.2 -1.8l0.3 -0.6l0.2 -3.5l0.3 1.9l0.2 -1.6l0.3 -2.3l0.2 -2l0.3 1l0.2 -3.7l0.2 1.7l0.3 0.8l0.2 1.7l0.3 -1.3l0.2 -2.3l0.2 -0.2l0.3 0.4l0.2 2.3l0.3 -0.7l0.2 -0.2l0.3 -1.2l0.2 -0.9l0.2 0.4l0.3 2.1l0.2 -0.8l0.3 1.4l0.2 3.7l0.2 -0.3l0.3 -1.8l0.2 -0.3l0.3 0.2l0.2 -0.2l0.3 -0.4l0.2 0l0.2 -0.1l0.3 0.6l0.2 -0.2l0.3 -0.3l0.2 -0.1l0.2 -0.5l0.3 0.1l0.2 -0.3l0.3 -0.1l0.2 -0.9l0.3 0.3l0.2 0.1l0.3 -0.1l0.3 0.8l0.2 0.1l0.3 0.3l0.2 1.2l0.3 0l0.3 0.4l0.2 -1l0.3 -0.4l0.2 -0.3l0.3 -1l0.3 -0.6l0.2 -1.1l0.3 -0.6l0.3 -1l0.2 -1l0.3 -0.6l0.2 0l0.2 -0.1l0.3 -0.3l0.2 -0.6l0.3 0.1l0.2 -0.5l0.3 -0.3l0.2 0.3l0.2 -0.3l0.3 -1.1l0.2 0.1l0.3 0.1l0.2 -0.2l0.2 0.4l0.3 -0.1l0.2 0.1l0.3 0l0.2 1l0.2 -0.7l0.3 0l0.2 0l0.3 0.4l0.2 -0.5l0.3 -0.1l0.2 0.5l0.3 0.5l0.2 0.4l0.3 0.4l0.2 0.7l0.3 0.1l0.3 0.3l0.2 -0.1l0.3 -0.3l0.3 0.2l0.2 -0.2l0.3 -0.3l0.2 -0.2l0.3 0.1l0.3 -0.4l0.2 -0.4l0.3 0.3l0.2 0.4l0.2 1.2l0.3 0.8l0.2 0.1l0.2 0.9l0.3 0.6l0.2 0.4l0.3 -0.7l0.2 -0.8l0.3 -1l0.2 -0.4l0.3 -1.1l0.2 -0.3l0.3 -0.6l0.2 -0.6l0.3 0.3l0.3 0l0.2 -0.1l0.3 -0.3l0.3 -0.3l0.2 -0.7l0.3 -0.1l0.2 -0.2l0.3 -0.9l0.2 -0.9l0.3 0.3l0.2 -1l0.3 0.4l0.2 -0.4l0.3 -0.2l0.2 -0.9l0.2 -0.2l0.3 -0.5l0.2 -0.1l0.3 -0.3l0.2 -0.1l0.2 0.7l0.3 -0.1l0.2 -0.6l0.3 -0.4l0.2 -1.7l0.3 -0.4l0.2 0.3l0.3 -0.5l0.2 -0.2l0.3 -0.6l0.2 -0.2l0.2 -0.5l0.3 -0.5l0.2 -0.2l0.3 0.7l0.2 0l0.3 -1.4l0.2 0l0.3 0.4l0.3 -0.7l0.2 -0.7l0.3 -0.2l0.2 -0.3l0.3 0.2l0.2 -0.1l0.3 0.3l0.2 0.3l0.2 -0.3l0.3 0.2l0.2 -0.1l0.3 -0.7l0.2 0l0.3 0.4l0.2 1l0.2 -0.6l0.3 0.2l0.2 0.1l0.3 0.4l0.3 -0.1l0.2 0.2l0.3 0.2l0.3 -0.1l0.2 -0.4l0.2 0.5l0.3 -0.2l0.2 -1.1l0.3 0.4l0.2 -0.8l0.3 -0.4l0.2 -0.6l0.3 -0.9l0.2 -0.9l0.3 -0.3l0.2 -1.1l0.2 -1.4l0.3 -0.9l0.2 -0.8l0.3 -1.3l0.2 0.6l0.3 -0.2l0.3 0.3l0.2 0.3l0.3 -0.2l0.2 0.3l0.3 -0.3l0.3 -0.8l0.2 -0.8l0.3 0.1l0.3 -0.2l0.2 -0.8l0.3 0.9l0.2 0.9l0.3 0.7l0.3 -0.1l0.2 0.2l0.3 -0.7l0.2 0l0.3 -0.4l0.3 -0.7l0.2 0l0.3 -0.9l0.3 -0.5l0.2 0l0.3 0.1l0.2 0.8l0.3 -0.2l0.3 -0.4l0.2 0.6l0.3 1.2l0.3 0l0.2 -0.6l0.3 -0.8l0.2 -0.6l0.2 -0.3l0.3 -0.3l0.2 0.3l0.3 -1.1l0.2 -0.5l0.3 -1l0.2 0.3l0.3 0.6l0.2 -0.2l0.3 -1.2l0.2 0.4l0.2 -0.3l0.3 0l0.2 0l0.3 -0.5l0.2 -0.6l0.3 -0.5l0.2 -0.7l0.2 -0.6l0.3 -0.8l0.2 -0.4l0.3 0.1l0.2 -0.2l0.3 -0.6l0.2 -0.7l0.2 -0.4l0.3 0.4l0.2 0.5l0.3 -0.4l0.2 -0.7l0.2 -1.1l0.3 0l0.2 0l0.3 -0.9l0.2 -0.7l0.3 -0.5l0.2 -0.2l0.2 0.3l0.3 -0.3l0.2 0.1l0.3 -0.2l0.2 -0.7l0.3 -0.7l0.2 -0.7l0.2 -0.3l0.3 -0.4l0.2 0.1l0.3 0.2l0.2 0.4l0.3 0l0.2 -0.5l0.3 -0.2l0.2 -0.8l0.3 0.4l0.2 -0.6l0.2 -0.7l0.3 -0.4l0.3 -1.6l0.2 -1.7l0.3 -1.3l0.2 -1.5l0.3 -1.1l0.2 -0.9l0.3 -0.7l0.3 -1.5l0.2 -1.4l0.3 -1.2l0.2 3.5l0.3 3.5l0.3 1.3l0.2 2.8l0.3 2.5l0.2 1.3l0.3 -3l0.2 -0.3l0.3 -1.8l0.2 -1l0.3 -0.9l0.2 -0.6l0.2 -1.2l0.3 -1.2l0.2 -1.5l0.3 -2l0.2 -0.7l0.2 2.1l0.3 2l0.2 1.9l0.3 1.9l0.2 0.1l0.2 2.1l0.3 0.6l0.2 1.9l0.2 0.6l0.3 -0.9l0.3 1.2l0.2 0.4l0.3 0l0.2 -0.9l0.3 -0.5l0.2 0.1l0.3 -1.5l0.3 -0.1l0.2 -0.2l0.3 -0.8l0.2 0l0.3 -1.1l0.3 -1.3l0.2 -0.6l0.3 -0.7l0.2 0.1l0.3 -1.5l0.2 0l0.3 -0.1l0.2 -0.6l0.3 -0.6l0.2 -0.3l0.3 0.1l0.2 -0.8l0.2 -0.9l0.3 -1.2l0.2 0.2l0.3 -2.1l0.2 -0.2l0.3 -1.4l0.2 -0.1l0.3 1.2l0.2 -0.1l0.3 1.1l0.2 -0.2l0.3 -0.2l0.2 0.7l0.3 -0.2l0.3 0.8l0.2 -0.3l0.3 -1.8l0.3 -1l0.3 -1.6l0.2 0.7l0.2 -0.6l0.3 -0.5l0.2 0.6l0.3 -1l0.2 0.2l0.3 -1.2l0.2 1.1l0.3 1.2l0.2 -0.4l0.3 -2.2l0.2 -1.5l0.2 0.9l0.3 -0.9l0.2 1.4l0.3 -1.7l0.2 -1.1l0.3 -0.7l0.3 0.1l0.2 -0.9l0.3 -1.4l0.3 -0.7l0.2 0l0.2 0.8l0.3 0l0.2 -1.2l0.3 -0.5l0.2 -2.1l0.2 0.4l0.3 1.1l0.2 0.2l0.3 -0.1l0.2 -1l0.3 1.2l0.2 -0.4l0.3 1.7l0.2 2l0.3 0.8l0.2 1.8l0.3 2.8l0.3 1.1l0.2 2.3l0.3 1l0.2 1.4l0.3 2l0.2 1.2l0.3 -0.2l0.2 -1.1l0.3 -1.2l0.3 0.5l0.2 -1.4l0.3 -2.1l0.3 3.2l0.2 2.3l0.3 1.9l0.3 1.2l0.3 -0.5l0.2 -1.7l0.3 -2.4l0.3 -2.4l0.2 3l0.3 2.2l0.2 1l0.3 2.6l0.2 2.2l0.3 3.1l0.3 3.1l0.3 2.6l0.2 2.9l0.3 -2.4l0.2 -1.4l0.3 -1.2l0.2 -1.6l0.3 -1.7l0.2 -1.4l0.3 -2l0.2 -1.2l0.2 -1.8l0.3 -1.2l0.2 0.9l0.2 -2l0.3 -0.8l0.2 0.1l0.3 -1.1l0.2 -0.9l0.2 -1.3l0.3 -1.8l0.2 0.3l0.3 0.2l0.2 -1.2l0.2 -1.1l0.3 -0.1l0.2 -0.1l0.3 -1l0.2 -0.3l0.3 -0.8l0.2 -0.6l0.3 0.3l0.2 -0.3l0.3 0l0.2 -0.2l0.3 2.1l0.3 -0.3l0.2 -0.5l0.3 -0.9l0.2 -1.7l0.3 -0.9l0.2 -0.7l0.3 -1.3l0.2 -1.3l0.2 -1.5l0.3 -0.3l0.2 -0.6l0.2 -1.3l0.3 -0.8l0.2 -0.7l0.3 0.4l0.2 -1l0.3 -0.7l0.3 -0.6l0.2 0.5l0.3 -0.2l0.2 -0.2l0.3 0l0.3 -0.6l0.2 1.6l0.3 1.8l0.2 0.1l0.3 0.3l0.3 1.3l0.2 0.4l0.3 1.7l0.3 0.4l0.2 1.2l0.3 1.3l0.2 -0.1l0.3 0.2l0.3 -2.1l0.2 -1l0.3 0.1l0.2 -1.4l0.3 -1.2l0.3 -2.1l0.2 -1.1l0.3 -1.5l0.3 -1.5l0.2 0.1l0.2 -0.5l0.3 -0.6l0.2 -1.1l0.3 -0.4l0.2 -0.6l0.2 -1.6l0.3 -0.4l0.2 -0.4l0.3 -0.4l0.2 0.3l0.3 -0.8l0.2 0.9l0.3 2.3l0.2 0.2l0.3 1l0.2 0.1l0.3 0.8l0.3 0.3l0.2 0.4l0.3 0.3l0.2 -0.6l0.3 0.8l0.2 1l0.3 0.7l0.3 0.8l0.2 1.4l0.2 -1l0.3 -0.2l0.2 -0.6l0.2 -1.4l0.3 -0.9l0.2 -1.2l0.3 -0.9l0.2 0.7l0.3 1l0.2 -0.2l0.3 0.2l0.2 1.2l0.3 0.2l0.3 -0.3l0.2 -1l0.3 1l0.2 -0.9l0.3 -1.4l0.3 0.7l0.2 -1.7l0.3 -0.4l0.3 0.2l0.2 0.8l0.3 -0.8l0.2 -0.3l0.3 0.1l0.2 -0.1l0.3 -1.5l0.2 -0.6l0.3 -1.1l0.2 -0.2l0.3 -0.4l0.2 -0.7l0.3 -0.5l0.2 -2l-0.1 1.4l0.2 -1.6l0.3 -0.6l0.3 -0.8l0.2 -1.2l0.3 0.6l0.2 0.7l0.3 -0.2l0.3 -0.6l0.2 -1l0.3 -1.4l0.2 -0.5l0.3 0.2l0.3 -0.8l0.2 -1.6l0.3 -0.3l0.2 -1.6l0.3 -2.4l0.2 -0.3l0.3 0.3l0.3 -0.2l0.2 -0.9l0.2 -2.7l0.3 -1.1l0.2 -0.4l0.2 -0.8l0.3 0.1l0.2 -1.5l0.2 0.2l0.3 1l0.3 0.8l0.2 0l0.3 0.6l0.2 0.5l0.3 0.3l0.3 -2.9l0.3 -2.5l0.2 -3.4l0.3 -2.2l0.3 4.8l0.2 6.1l0.2 5.3l0.3 3.4l0.2 4.5l0.3 1.7l0.2 4.8l0.3 8.6l0.2 4.1l0.2 7.1l0.3 3.9l0.2 5l0.2 5.3l0.3 6.2l0.2 5.3l0.3 2l0.2 -5l0.2 -2.8l0.3 -1.5l0.2 -1.2l0.2 -1.2l0.3 -2.7l0.2 -3.3l0.2 -8.4l0.3 -8.1l0.2 -8.1l0.2 -4.4l0.3 -1.7l0.2 2.9l0.3 0.9l0.2 -2l0.2 1.5l0.3 0.7l0.2 -1.2l0.2 -3.5l0.3 0.5l0.2 -1.9l0.3 1.1l0.2 -2l0.3 -4.8l0.2 0l0.3 1l0.3 -0.2l0.2 -4l0.2 -2.8l0.3 -2.4l0.2 -5.3l0.2 -0.8l0.3 -4.3l0.2 3.3l0.3 0.3l0.3 2.1l0.2 -1l0.3 -1.3l0.3 2.9l0.2 -2l0.3 -2l0.2 -1.5l0.3 -4.3l0.2 -0.2l0.3 -0.8l0.2 -3.3l0.3 -2.4l0.3 1.5l0.2 0l0.3 0l0.2 0l0.3 -1.3l0.3 -1.8l0.2 -3.1l0.3 -2.3l0.3 -1l0.2 0l0.3 -1.9l0.2 0.5l0.4 -8l0.2 -3.4l0.2 -2.1l0.3 -0.8l0.2 -0.2l0.2 -3.4l0.3 -4.1l0.2 0.3l0.3 -1.3l0.2 2.6l0.3 2.9l0.2 0.9l0.3 0.5l0.2 3.7l0.3 3.1l0.2 3.9l0.3 2.9l0.3 -1.7l0.2 -0.8l0.3 -3.1l0.2 -1.7l0.3 -0.5l0.2 -2.1l0.3 -1.6l0.2 -1.3l0.3 -0.9l0.3 -1.4l0.2 -2.2l0.3 2.4l0.2 1.4l0.2 3.2l0.3 2l0.2 1.3l0.2 2.3l0.3 4.2l0.2 0.5l0.3 -8.6l0.2 -6.3l0.3 -7.1l0.3 -0.3l0.2 1.3l0.3 0.6l0.2 -0.4l0.3 -0.5l0.3 0.1l0.2 -1.7l0.3 -2.6l0.2 -1.5l0.3 -1.4l0.3 -0.4l0.2 -1.1l0.3 0.4l0.2 -0.7l0.3 -0.4l0.2 -1l0.2 -1.4l0.3 -1.4l0.2 -2.3l0.3 -0.5l0.2 -1.5l0.2 0.1l0.3 0.4l0.2 -0.7l0.3 -1.3l0.2 -1.5l0.3 -2.8l0.3 -2.2l0.2 -1.7l0.3 -0.2l0.2 0.6l0.3 2.4l0.3 3l0.3 3.7l0.2 1.9l0.3 -3l0.2 -3.2l0.3 -2.1l0.2 -4.5l0.3 -6.1l0.3 1.6l0.2 3.2l0.3 3.1l0.2 1.1l0.3 2.7l0.3 2.6l0.2 3.4l0.3 1.3l0.3 1.4l0.2 -1.3l0.3 -2l0.2 0.2l0.3 0.4l0.3 -1.8l0.2 0.2l0.3 -0.9l0.2 -0.7l0.3 -0.3l0.3 -1.4l0.2 -3.9l0.3 -2.1l0.3 -2.9l0.2 -2.3l0.3 -5.1l0.2 -2.6l0.3 -4l0.3 -4l0.2 1.5l0.2 0.9l0.3 0.8l0.2 1.7l0.3 -0.7l0.2 0.7l0.3 1.6l0.2 0.1l0.2 0.3l0.3 1l0.2 0.4l0.3 0.4l0.2 1.5l0.2 -0.2l0.3 -2.7l0.2 0.7l0.3 0l0.2 -0.7l0.3 -2.1l0.2 -1.4l0.2 -1.7l0.3 -0.5l0.2 0.2l0.3 0.3l0.2 -0.7l0.2 -2.2l0.3 -3.8l0.3 -2.9l0.2 -2.8l0.3 -3.6l0.3 -3.3l0.2 -2.4l0.3 -2.5l0.2 -2l0.3 0.9l0.2 -1.1l0.3 1l0.2 -1.3l0.3 -1.9l0.3 -1.8l0.2 0.3l0.2 0.2l0.3 -2l0.2 0.9l0.2 -0.9l0.3 1.4l0.2 -0.5l0.2 -0.2l0.3 -2.2l0.3 -0.3l0.2 -1l0.3 -2.1l0.2 1l0.3 -0.8l0.3 -1.5l0.2 -0.7l0.3 -2l0.2 -1.4l0.3 -1.5l0.2 2.6l0.3 2.2l0.2 1.8l0.3 1.1l0.3 0.6l0.2 0.3l0.3 0.7l0.3 2.9l0.2 3.8l0.3 0.8l0.2 1.4l0.3 0.6l0.2 -0.9l0.3 -3l0.2 -1.9l0.2 -4l0.3 -2.7l0.2 -1.3l0.3 -2.4l0.2 -3.4l0.2 -4.7l0.3 -2.6l0.2 -4l0.3 -1.2l0.2 -4l0.3 -1l0.3 -0.9l0.2 -1.1l0.3 -3.7l0.3 0.2l0.2 -0.5l0.3 3l0.3 3.4l0.2 5l0.3 4.3l0.3 -3.4l0.3 -3.4l0.2 -2.9l0.3 -4.5l0.2 4.7l0.3 4.2l0.2 3l0.3 3l0.2 -2.3l0.2 -0.9l0.3 -1.8l0.2 -6.3l0.2 -2.8l0.3 -1.6l0.2 3.9l0.3 3.4l0.2 2.2l0.3 0.8l0.2 1.5l0.3 6.2l0.2 2.6l0.3 1.4l0.3 9.6l0.2 8.7l0.3 6.1l0.3 -3.2l0.2 -1l0.3 -0.6l0.3 -4.7l0.3 2.7l0.2 3.7l0.3 3.6l0.2 1l0.3 1.3l0.3 3.4l0.2 -2l0.3 2.8l0.2 -0.5l0.3 -1.7l0.2 -1.7l0.3 4l0.2 6.9l0.3 7.9l0.3 -3.4l0.2 -5.2l0.3 -6.4l0.3 -4.8l0.2 -6.9l0.3 -7l0.2 1l0.3 0.2l0.2 0.6l0.3 0l0.2 -1.8l0.3 2.3l0.2 2.6l0.2 2.6l0.3 3.8l0.2 3.5l0.2 1.8l0.3 4.6l0.2 4.7l0.3 5.6l0.2 3.4l0.3 3.2l0.3 3.5l0.2 3.7l0.3 4.1l0.2 -0.2l0.3 0.3l0.3 0.4l0.2 -2.2l0.3 0l0.3 0.8l0.2 -0.9l0.3 -1l0.2 2.1l-0.6 21.2l0.3 -2.1l0.2 1.9l0.2 -0.7l0.3 -0.1l0.2 -0.1l0.3 -2.6l0.2 -1.2l0.3 -0.2l0.2 -1.2l0.2 9.1l0.3 12.1l0.2 -2.2l0.3 -4.2l0.2 -3.3l0.2 -2.2l0.3 -1.9l0.2 -3l0.2 -2.4l0.3 -3.6l0.2 -1.6l0.3 -1.4l0.3 -1.8l0.2 -0.5l0.3 -4.4l0.2 -2.9l0.3 -2.1l0.3 -2l0.2 -3.5l0.3 -3l0.2 -3l0.3 -4.2l0.3 -2.1l0.2 -1.6l0.3 -2.8l0.2 3.9l0.3 4.5l0.2 3.7l0.2 3.9l0.3 3.3l0.2 4.6l0.2 4.1l0.3 5.8l0.2 -0.7l0.3 0.8l0.3 -2.8l0.2 -4.2l0.3 -1.6l0.2 -3.3l0.3 4.5l0.3 5.8l0.2 8.6l0.3 7.4l0.3 6.7l0.2 7.1l0.3 -0.2l0.2 1.9l0.3 -0.1l0.3 0.3l0.2 3.2l0.3 -0.4l0.2 -1.2l0.3 -2.7l0.2 -0.4l0.3 -2.2l0.2 -1.3l0.3 0.6l0.2 0.4l0.3 0l0.2 1.7l0.3 0.4l0.3 -4.9l0.2 -7.3l0.3 -5.3l0.3 -6.1l0.3 -2l0.2 -1.1l0.3 -1.1l0.2 0.4l0.3 -0.4l0.3 0.2l0.2 3.2l0.3 1.7l0.3 4.4l0.2 2.5l0.3 2l0.2 2.7l0.3 0.1l0.3 3.6l0.2 1.1l0.3 0.3l0.2 0.2l0.3 1l0.3 -2.1l0.2 -1l0.3 -0.3l0.2 -0.8l0.3 -2.2l0.3 -2.8l0.2 -0.1l0.3 0.3l0.2 -4.4l0.3 -1.1l0.2 -2.2l0.3 -2.5l0.3 -1.7l0.2 -0.3l0.3 1.4l0.2 0.5l0.2 1.6l0.3 1.6l0.2 -0.9l0.2 0.5l0.3 0.1l0.2 0.7l0.2 -0.1l0.3 1.3l0.2 0.9l0.2 0.6l0.3 1.8l0.2 2l0.3 3.8l0.2 -0.1l0.2 -2.7l0.3 -3.9l0.3 -1l0.2 -0.7l0.3 -0.7l0.2 -3l0.3 -3.6l0.2 -4l0.3 -0.6l0.2 1l0.3 -4.2l0.2 1.4l0.3 -0.7" stroke="#2ca02c"/>
</g>
<g stroke="#1a1a1a" stroke-width="1.5" fill="none">
<line x1="60.95" y1="792.6" x2="60.95" y2="799.40"/>
<line x1="215.83" y1="792.6" x2="215.83" y2="799.40"/>
<line x1="370.71" y1="792.6" x2="370.71" y2="799.40"/>
<line x1="525.59" y1="792.6" x2="525.59" y2="799.40"/>
<line x1="680.47" y1="792.6" x2="680.47" y2="799.40"/>
<line x1="835.35" y1="792.6" x2="835.35" y2="799.40"/>
<line x1="990.23" y1="792.6" x2="990.23" y2="799.40"/>
<line x1="41.15" y1="703.00" x2="34.25" y2="703.00"/>
<line x1="41.15" y1="611.64" x2="34.25" y2="611.64"/>
<line x1="41.15" y1="520.27" x2="34.25" y2="520.27"/>
<line x1="41.15" y1="428.91" x2="34.25" y2="428.91"/>
<line x1="41.15" y1="337.54" x2="34.25" y2="337.54"/>
<line x1="41.15" y1="246.18" x2="34.25" y2="246.18"/>
<line x1="41.15" y1="154.81" x2="34.25" y2="154.81"/>
<line x1="41.15" y1="63.45" x2="34.25" y2="63.45"/>
<rect x="41.15" y="24.9" width="965.35" height="767.70" stroke-linejoin="miter"/>
</g>
<g font-family="'DejaVu Sans', 'Liberation Sans', sans-serif" font-size="17.0px" fill="#1a1a1a">
<text x="60.95" y="819.5" text-anchor="middle">2000</text>
<text x="215.83" y="819.5" text-anchor="middle">2004</text>
<text x="370.71" y="819.5" text-anchor="middle">2008</text>
<text x="525.59" y="819.5" text-anchor="middle">2012</text>
<text x="680.47" y="819.5" text-anchor="middle">2016</text>
<text x="835.35" y="819.5" text-anchor="middle">2020</text>
<text x="990.23" y="819.5" text-anchor="middle">2024</text>
<text x="28.9" y="710.90" text-anchor="end">1</text>
<text x="27.6" y="618.84" text-anchor="end">2</text>
<text x="27.6" y="527.47" text-anchor="end">3</text>
<text x="27.6" y="436.11" text-anchor="end">4</text>
<text x="27.6" y="344.74" text-anchor="end">5</text>
<text x="27.6" y="253.38" text-anchor="end">6</text>
<text x="27.6" y="162.01" text-anchor="end">7</text>
<text x="27.6" y="70.65" text-anchor="end">8</text>
<rect x="49.6" y="33.2" width="135.6" height="84.1" rx="2.6" ry="2.6" fill="#fff" fill-opacity="0.8" stroke="#cccccc" stroke-opacity="0.8" stroke-width="1.38"/>
<line x1="55.3" y1="47.8" x2="90.3" y2="47.8" stroke="#1f77b4" stroke-width="2.6" stroke-linecap="square"/>
<text x="104.9" y="53.9">Strategy</text>
<line x1="55.3" y1="74.0" x2="90.3" y2="74.0" stroke="#ff7f0e" stroke-width="2.6" stroke-linecap="square"/>
<text x="104.9" y="80.3">Value</text>
<line x1="55.3" y1="100.19999999999999" x2="90.3" y2="100.19999999999999" stroke="#2ca02c" stroke-width="2.6" stroke-linecap="square"/>
<text x="104.9" y="107.0">Growth</text>
</g>
</svg>
</body></html>
